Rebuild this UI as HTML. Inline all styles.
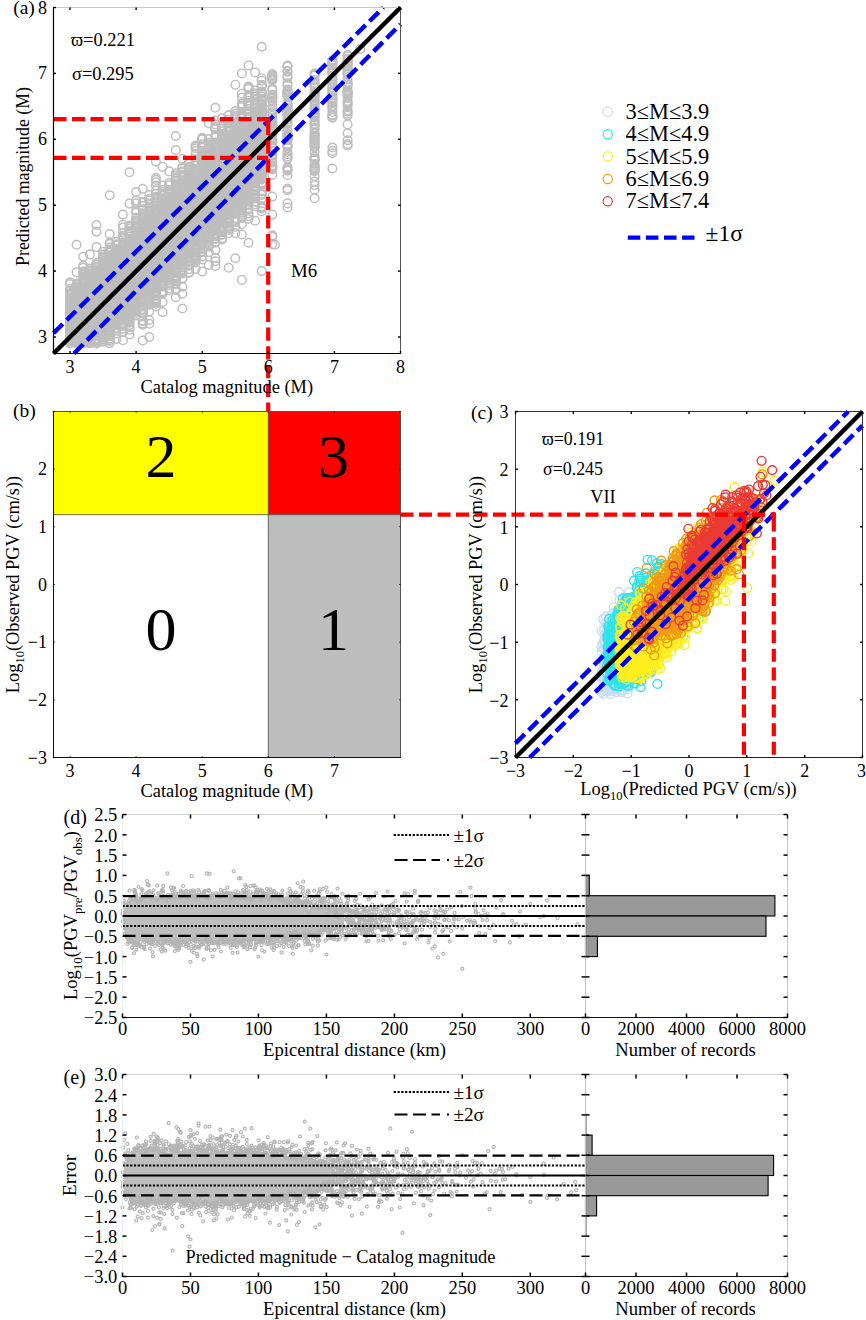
<!DOCTYPE html>
<html><head><meta charset="utf-8"><title>figure</title><style>html,body{margin:0;padding:0;background:#fff}svg{display:block}</style></head><body>
<svg width="866" height="1320" viewBox="0 0 866 1320" font-family="Liberation Serif, serif" fill="#000">
<defs>
<marker id="mg" markerWidth="11.5" markerHeight="11.5" refX="5.8" refY="5.8" markerUnits="userSpaceOnUse"><circle cx="5.8" cy="5.8" r="4.3" fill="none" stroke="#bebebe" stroke-width="1.45"/></marker>
<marker id="ms" markerWidth="5.3" markerHeight="5.3" refX="2.6" refY="2.6" markerUnits="userSpaceOnUse"><circle cx="2.6" cy="2.6" r="1.5" fill="none" stroke="#b4b4b4" stroke-width="1.15"/></marker>
<marker id="mc0" markerWidth="11.6" markerHeight="11.6" refX="5.8" refY="5.8" markerUnits="userSpaceOnUse"><circle cx="5.8" cy="5.8" r="4.4" fill="none" stroke="#c9ddf2" stroke-width="1.4"/></marker>
<marker id="mc1" markerWidth="11.6" markerHeight="11.6" refX="5.8" refY="5.8" markerUnits="userSpaceOnUse"><circle cx="5.8" cy="5.8" r="4.4" fill="none" stroke="#2fe3ea" stroke-width="1.4"/></marker>
<marker id="mc2" markerWidth="11.6" markerHeight="11.6" refX="5.8" refY="5.8" markerUnits="userSpaceOnUse"><circle cx="5.8" cy="5.8" r="4.4" fill="none" stroke="#ffee1f" stroke-width="1.4"/></marker>
<marker id="mc3" markerWidth="11.6" markerHeight="11.6" refX="5.8" refY="5.8" markerUnits="userSpaceOnUse"><circle cx="5.8" cy="5.8" r="4.4" fill="none" stroke="#f09a14" stroke-width="1.4"/></marker>
<marker id="mc4" markerWidth="11.6" markerHeight="11.6" refX="5.8" refY="5.8" markerUnits="userSpaceOnUse"><circle cx="5.8" cy="5.8" r="4.4" fill="none" stroke="#ea3b34" stroke-width="1.4"/></marker>
<clipPath id="ca"><rect x="53.5" y="7.5" width="347.0" height="346.0"/></clipPath>
<clipPath id="cc"><rect x="515.5" y="411.5" width="347.0" height="346.0"/></clipPath>
<clipPath id="cd"><rect x="122.5" y="814.5" width="463.0" height="203.0"/></clipPath>
<clipPath id="ce"><rect x="122.5" y="1074.5" width="463.0" height="202.0"/></clipPath>
</defs>
<rect width="866" height="1320" fill="#fff"/>
<polyline clip-path="url(#ca)" points="70,343.2 70,288.9 70,339.6 70,314.7 70,323.4 70,317.4 70,340.7 70,341.7 70,341 70,316.8 70,317.8 70,339 70,332.7 70,319.5 70,322.8 70,310.1 70,311.3 70,336.4 70,334.2 70,324.8 70,343.4 70,333 70,305 70,291.2 70,318.9 70,320.1 70,327.8 70,326.9 70,312.1 70,329.6 70,310.9 70,330.8 70,325 70,322.2 70,338.2 70,321.1 70,331.6 70,334.6 70,306.6 70,325.8 70,335.2 70,315.9 70,337.3 70,328.6 70,303.1 70,302.3 70,309.2 70,313.8 70,329 70,304.5 70,298.4 70,312.9 70,307.2 70,305.8 70,300.2 70,293.5 70,301.2 70,308.2 70,297.3 70,298.2 70,294.5 70,303.7 70,282.2 70,295.3 70,284 70,299.5 76.6,301.4 76.6,297.1 76.6,338.2 76.6,339.1 76.6,307.6 76.6,332.9 76.6,331.6 76.6,313.4 76.6,315.5 76.6,290 76.6,339.9 76.6,310.7 76.6,307.2 76.6,319.2 76.6,327.3 76.6,318.3 76.6,341 76.6,340.8 76.6,326.4 76.6,336 76.6,343.1 76.6,336.1 76.6,312.8 76.6,305.2 76.6,342.2 76.6,334.6 76.6,310.1 76.6,299.4 76.6,332.2 76.6,329.5 76.6,325.1 76.6,331.1 76.6,311.3 76.6,324 76.6,330.4 76.6,308.9 76.6,328.4 76.6,308.2 76.6,314.1 76.6,322.5 76.6,319.5 76.6,290.8 76.6,306 76.6,315.1 76.6,326.8 76.6,323.6 76.6,291.2 76.6,320 76.6,316.1 76.6,316.9 76.6,299 76.6,321.2 76.6,343.5 76.6,322.1 76.6,304.1 76.6,337.3 76.6,296 76.6,300 76.6,297.6 76.6,294.8 76.6,334.3 76.6,296.5 76.6,293.9 76.6,302.8 76.6,289 76.6,293.6 76.6,286.9 76.6,288.1 76.6,303.6 76.6,283.4 76.6,286.2 76.6,302.1 76.6,292.3 76.6,284.5 76.6,272.2 83.2,341 83.2,276.8 83.2,295.3 83.2,291.6 83.2,342.7 83.2,287 83.2,336.6 83.2,280.9 83.2,317.9 83.2,340.2 83.2,325.8 83.2,306.1 83.2,336.9 83.2,312.5 83.2,311 83.2,302.2 83.2,293.3 83.2,307.2 83.2,315.2 83.2,316.8 83.2,320.8 83.2,317.3 83.2,328.2 83.2,321.6 83.2,300.6 83.2,326.7 83.2,324.9 83.2,332.9 83.2,309.2 83.2,324.1 83.2,305.4 83.2,333.8 83.2,343.3 83.2,339.7 83.2,299.9 83.2,334.5 83.2,315.2 83.2,290.4 83.2,322.5 83.2,295 83.2,332.7 83.2,302.4 83.2,330.2 83.2,298.8 83.2,280.3 83.2,308.5 83.2,335.8 83.2,320.9 83.2,331.4 83.2,309.6 83.2,327.4 83.2,341.7 83.2,311.8 83.2,319.8 83.2,304 83.2,303.2 83.2,318.8 83.2,323.6 83.2,338.8 83.2,307.9 83.2,290.3 83.2,329.5 83.2,314.3 83.2,330.6 83.2,292.4 83.2,297.4 83.2,289.3 83.2,312.9 83.2,296.7 83.2,338.1 83.2,301 83.2,281.9 83.2,298.2 83.2,283.5 83.2,294 83.2,287.3 83.2,277.9 83.2,285.4 83.2,286.2 83.2,282.5 83.2,278.5 83.2,265.8 83.2,274.6 83.2,272.7 83.2,267.8 83.2,271.5 83.2,288.8 83.2,256.7 89.9,314.8 89.9,282.2 89.9,339.4 89.9,273.5 89.9,254.4 89.9,294.1 89.9,322.7 89.9,321.7 89.9,340.2 89.9,288.1 89.9,324.1 89.9,308.8 89.9,338.3 89.9,308 89.9,337.5 89.9,314.3 89.9,332.7 89.9,302.3 89.9,297.2 89.9,328.1 89.9,278 89.9,312.7 89.9,306.6 89.9,298.2 89.9,321.1 89.9,276.5 89.9,318.3 89.9,303.7 89.9,334.2 89.9,270.5 89.9,325.4 89.9,296.3 89.9,331 89.9,329.6 89.9,295.5 89.9,310.1 89.9,305.8 89.9,335.4 89.9,341 89.9,342.2 89.9,323.7 89.9,317 89.9,339.1 89.9,293 89.9,315.4 89.9,309.1 89.9,283.2 89.9,279.5 89.9,298.9 89.9,320.2 89.9,318.7 89.9,275.2 89.9,299.9 89.9,291.1 89.9,310.5 89.9,313 89.9,287.4 89.9,316.4 89.9,319.7 89.9,285.4 89.9,305.5 89.9,278.6 89.9,342.9 89.9,300.2 89.9,301.3 89.9,304.7 89.9,332.8 89.9,312 89.9,303.1 89.9,269 89.9,331.6 89.9,268.4 89.9,285.8 89.9,292.1 89.9,328.9 89.9,281.1 89.9,287 89.9,336.1 89.9,291.9 89.9,289.5 89.9,326.1 89.9,327.3 89.9,294.7 89.9,284.3 89.9,326.9 89.9,283.3 89.9,271.3 89.9,274.1 89.9,275.5 89.9,277.3 89.9,290.3 89.9,334.5 89.9,343.3 89.9,272.1 96.5,314.1 96.5,267.4 96.5,274.7 96.5,306.9 96.5,340.2 96.5,343.1 96.5,295.1 96.5,300.5 96.5,328.2 96.5,299.2 96.5,280.3 96.5,302.9 96.5,277.6 96.5,329.9 96.5,297.4 96.5,332.7 96.5,333.8 96.5,329.6 96.5,289.9 96.5,301.7 96.5,284.5 96.5,320 96.5,333.2 96.5,292.8 96.5,317.5 96.5,330.6 96.5,318.8 96.5,304.2 96.5,297.9 96.5,321.4 96.5,321.9 96.5,309.3 96.5,295.5 96.5,308 96.5,339.7 96.5,300.8 96.5,308.3 96.5,273.6 96.5,313 96.5,324.4 96.5,341.6 96.5,305.3 96.5,311.8 96.5,299.3 96.5,277 96.5,336 96.5,306.4 96.5,309.9 96.5,303.5 96.5,312.6 96.5,335.8 96.5,281.7 96.5,286.2 96.5,291.9 96.5,310.8 96.5,276.3 96.5,314.5 96.5,279.7 96.5,327.6 96.5,278.4 96.5,262.9 96.5,270.1 96.5,338.1 96.5,322.6 96.5,284.9 96.5,247.1 96.5,287.6 96.5,283.4 96.5,323.9 96.5,317.9 96.5,339.1 96.5,289.1 96.5,288.4 96.5,334.7 96.5,316.5 96.5,286.7 96.5,292.3 96.5,326.3 96.5,315.8 96.5,326.7 96.5,290.5 96.5,272.3 96.5,320.1 96.5,331.7 96.5,325.1 96.5,294.4 96.5,270.8 96.5,273.1 96.5,343.4 96.5,267 96.5,296.7 96.5,282.5 96.5,264.8 96.5,268.3 96.5,341.3 96.5,271.7 96.5,281.4 96.5,264.2 103.1,308.7 103.1,282.9 103.1,294.4 103.1,302.9 103.1,304.8 103.1,254.5 103.1,251.9 103.1,257.5 103.1,327.6 103.1,301.9 103.1,329.3 103.1,273 103.1,313.8 103.1,323.7 103.1,335.8 103.1,299.2 103.1,303.6 103.1,282.3 103.1,300.2 103.1,326 103.1,297.4 103.1,278.6 103.1,294.2 103.1,314.6 103.1,310.5 103.1,306.1 103.1,295.7 103.1,318.5 103.1,285.6 103.1,323 103.1,286.5 103.1,289.9 103.1,283.5 103.1,269.8 103.1,300.9 103.1,316.3 103.1,310 103.1,292.6 103.1,289.4 103.1,317.8 103.1,270.8 103.1,332 103.1,299.5 103.1,284.1 103.1,339.7 103.1,312 103.1,298.2 103.1,328.3 103.1,287.6 103.1,293.3 103.1,307.3 103.1,319.5 103.1,279.4 103.1,315.7 103.1,275.9 103.1,313.3 103.1,290.9 103.1,306.9 103.1,330.9 103.1,263.7 103.1,336.2 103.1,337 103.1,332.5 103.1,309.3 103.1,273.8 103.1,285.8 103.1,317.4 103.1,321.4 103.1,311.6 103.1,291.3 103.1,288.2 103.1,339 103.1,266.2 103.1,260.5 103.1,272.7 103.1,281.4 103.1,324.5 103.1,266.8 103.1,276.8 103.1,304 103.1,258.6 103.1,296.2 103.1,271.3 103.1,265 103.1,320.2 103.1,329.8 103.1,321.8 103.1,280.3 103.1,333.9 103.1,278.1 103.1,268.6 103.1,274.8 103.1,277.5 103.1,258.3 103.1,327 103.1,325.5 103.1,256.2 103.1,261.1 103.1,337.7 103.1,269.1 103.1,334.4 103.1,341.3 103.1,262.5 103.1,261.8 103.1,341.6 109.7,278.2 109.7,305.7 109.7,338.5 109.7,308.6 109.7,274.8 109.7,290 109.7,292.5 109.7,300.6 109.7,259.5 109.7,309 109.7,286.6 109.7,295.3 109.7,283.8 109.7,273.3 109.7,288.6 109.7,277 109.7,291.7 109.7,284.1 109.7,314.3 109.7,302 109.7,256.7 109.7,287.6 109.7,281.1 109.7,293.6 109.7,297.7 109.7,263.8 109.7,299.7 109.7,283.2 109.7,289.4 109.7,271.8 109.7,250.5 109.7,275.5 109.7,284.8 109.7,271.2 109.7,318.2 109.7,303.5 109.7,269.3 109.7,323.4 109.7,290.8 109.7,301.4 109.7,252 109.7,315 109.7,307 109.7,322.6 109.7,312.4 109.7,319.4 109.7,311.8 109.7,294 109.7,272.5 109.7,249.6 109.7,310.1 109.7,252.9 109.7,317.2 109.7,264.3 109.7,268.6 109.7,318.4 109.7,302.6 109.7,316.3 109.7,270.4 109.7,334.3 109.7,313.6 109.7,296 109.7,276.6 109.7,262.7 109.7,304.2 109.7,328.9 109.7,279.6 109.7,298.9 109.7,294.4 109.7,330.3 109.7,278.8 109.7,324.2 109.7,274.1 109.7,266.3 109.7,255.2 109.7,307.3 109.7,296.9 109.7,305.3 109.7,280.4 109.7,310.7 109.7,321.6 109.7,267.2 109.7,281.8 109.7,242.7 109.7,330.6 109.7,266.5 109.7,328.3 109.7,286 109.7,320.2 109.7,258.8 109.7,335.5 109.7,343.1 109.7,326.8 109.7,247.6 109.7,265.6 109.7,315.7 109.7,336.1 109.7,251.2 109.7,234 109.7,261.3 109.7,320.8 109.7,250.3 109.7,243.9 109.7,262.4 109.7,341 109.7,258.2 109.7,332.6 109.7,340 109.7,257.3 109.7,325.9 116.3,300.5 116.3,248.7 116.3,269.5 116.3,315.1 116.3,264.9 116.3,298.8 116.3,324.7 116.3,284.7 116.3,277.8 116.3,281.5 116.3,274.6 116.3,285.7 116.3,285 116.3,260.3 116.3,283.1 116.3,291.7 116.3,264 116.3,305.1 116.3,295.5 116.3,287.7 116.3,278.8 116.3,268.6 116.3,316.7 116.3,276.3 116.3,267.8 116.3,297.7 116.3,275.6 116.3,299.4 116.3,306.3 116.3,261.2 116.3,270.6 116.3,274.1 116.3,316 116.3,266.9 116.3,281.7 116.3,290.5 116.3,296.2 116.3,310.3 116.3,249 116.3,280.2 116.3,295.1 116.3,259 116.3,245.4 116.3,296.9 116.3,264.1 116.3,301.2 116.3,270.4 116.3,288.7 116.3,256.1 116.3,312.9 116.3,271.9 116.3,328 116.3,302.4 116.3,286.9 116.3,272.3 116.3,306.8 116.3,290.2 116.3,307.4 116.3,302 116.3,322.8 116.3,277 116.3,266.2 116.3,272.8 116.3,318.9 116.3,292.2 116.3,255.8 116.3,250.8 116.3,308.4 116.3,309.5 116.3,293.1 116.3,279.6 116.3,311 116.3,318.3 116.3,312.4 116.3,319.7 116.3,255.1 116.3,250 116.3,253.4 116.3,257.1 116.3,321 116.3,244.3 116.3,320.4 116.3,304.1 116.3,330 116.3,323.4 116.3,293.8 116.3,283.5 116.3,251.8 116.3,317.2 116.3,262 116.3,289.1 116.3,241.8 116.3,314.1 116.3,252.8 116.3,303.2 116.3,339.1 116.3,311.2 116.3,262.9 116.3,258.4 116.3,259.2 116.3,321.8 116.3,333.5 116.3,327.9 122.9,273.4 122.9,307.3 122.9,281.9 122.9,214.6 122.9,266.4 122.9,252.4 122.9,305.1 122.9,235.8 122.9,254.6 122.9,320 122.9,281 122.9,270.2 122.9,264.1 122.9,269.1 122.9,308.6 122.9,303.1 122.9,268.5 122.9,294.3 122.9,287.4 122.9,272.2 122.9,277.9 122.9,261.3 122.9,299.4 122.9,271.2 122.9,282.8 122.9,289.3 122.9,256.3 122.9,290.7 122.9,291.4 122.9,274.8 122.9,274.1 122.9,293 122.9,263 122.9,301.1 122.9,259.9 122.9,253.2 122.9,317.7 122.9,286.4 122.9,310.5 122.9,309.1 122.9,224.7 122.9,313 122.9,294.8 122.9,250 122.9,288.1 122.9,278.6 122.9,302.1 122.9,263.8 122.9,236.1 122.9,309.8 122.9,279.8 122.9,297.3 122.9,266.7 122.9,271.9 122.9,277.4 122.9,298.1 122.9,300.2 122.9,285.9 122.9,275.3 122.9,290 122.9,284.3 122.9,284.9 122.9,251.9 122.9,249.1 122.9,276 122.9,298.5 122.9,280.2 122.9,258.7 122.9,296.7 122.9,243.8 122.9,306.6 122.9,315.9 122.9,295.8 122.9,325 122.9,267.3 122.9,244.6 122.9,314.9 122.9,292.3 122.9,262.2 122.9,245.4 122.9,239.1 122.9,237.8 122.9,257.3 122.9,255.7 122.9,317 122.9,260.4 122.9,265.3 122.9,248 122.9,283.9 122.9,254.3 122.9,306.3 122.9,303.2 122.9,321.9 122.9,311.7 122.9,250.5 122.9,247.7 122.9,328.7 122.9,312.6 122.9,245.9 122.9,318.9 122.9,242.8 122.9,304.1 122.9,323.2 122.9,326 122.9,232.7 122.9,332.2 122.9,227.5 129.5,266.4 129.5,273 129.5,268.3 129.5,293.1 129.5,308.5 129.5,271.4 129.5,244.4 129.5,274.6 129.5,279 129.5,248 129.5,259.3 129.5,266.6 129.5,280.1 129.5,248.4 129.5,295.7 129.5,267.9 129.5,291.3 129.5,309.2 129.5,280.9 129.5,297.8 129.5,273.7 129.5,282.4 129.5,300.9 129.5,281.6 129.5,287.8 129.5,249.3 129.5,260.4 129.5,258.4 129.5,231.7 129.5,268.9 129.5,270.3 129.5,245.6 129.5,262.3 129.5,288.9 129.5,245.5 129.5,279.3 129.5,262.6 129.5,294.9 129.5,289.7 129.5,285.3 129.5,276.2 129.5,292.4 129.5,284.3 129.5,254.2 129.5,250.8 129.5,263.6 129.5,286.5 129.5,264.2 129.5,251.9 129.5,246.9 129.5,256.5 129.5,257.2 129.5,261.2 129.5,296.9 129.5,257.8 129.5,277.6 129.5,298.6 129.5,265.2 129.5,299.5 129.5,228.4 129.5,255.2 129.5,286.4 129.5,253 129.5,308 129.5,243.1 129.5,306.6 129.5,276.9 129.5,327.3 129.5,275.3 129.5,288.1 129.5,254.9 129.5,283.6 129.5,290.6 129.5,238.9 129.5,270.4 129.5,310.9 129.5,304.8 129.5,243.6 129.5,303.6 129.5,249.6 129.5,314.2 129.5,319 129.5,272 129.5,252.6 129.5,305.8 129.5,302.6 129.5,294.1 129.5,242 129.5,322.7 129.5,324.9 129.5,315.7 129.5,240.3 129.5,203.6 129.5,240 129.5,329.8 129.5,232.4 129.5,302.2 129.5,241.4 129.5,319.9 129.5,296.1 129.5,300.8 129.5,226.6 129.5,312.9 129.5,321.2 129.5,316.3 129.5,225.5 129.5,334.5 129.5,317.7 129.5,233.6 129.5,312.1 129.5,230.5 129.5,232.9 136.1,283.3 136.1,200.7 136.1,243.2 136.1,226.1 136.1,274.1 136.1,265.6 136.1,272.7 136.1,246 136.1,299.3 136.1,277.8 136.1,281.6 136.1,294.1 136.1,287 136.1,270.4 136.1,288.5 136.1,292.5 136.1,284.5 136.1,275.7 136.1,238.2 136.1,308.6 136.1,241.8 136.1,280 136.1,262 136.1,281.2 136.1,279.4 136.1,263.7 136.1,276.4 136.1,274.8 136.1,255.8 136.1,245.5 136.1,291.9 136.1,262.5 136.1,296.8 136.1,261.5 136.1,309.4 136.1,248.8 136.1,268.7 136.1,273.6 136.1,234.1 136.1,251.8 136.1,300.9 136.1,233.4 136.1,282.7 136.1,240.4 136.1,270.6 136.1,259.2 136.1,249.7 136.1,236.9 136.1,298.9 136.1,277.3 136.1,259.4 136.1,231.4 136.1,223.6 136.1,266.5 136.1,220.2 136.1,239.5 136.1,271.4 136.1,265.9 136.1,255.2 136.1,269.5 136.1,293.4 136.1,257.4 136.1,260.7 136.1,303.6 136.1,307.5 136.1,244.7 136.1,279.2 136.1,289.3 136.1,297.9 136.1,256.3 136.1,264.3 136.1,253.1 136.1,225.2 136.1,231.1 136.1,241.3 136.1,291.2 136.1,242.7 136.1,217.7 136.1,296.4 136.1,251 136.1,253.9 136.1,290.1 136.1,287.9 136.1,235.2 136.1,228.7 136.1,300.5 136.1,304.1 136.1,238.9 136.1,286.2 136.1,285.3 136.1,252.7 136.1,302.5 136.1,312.9 136.1,227.1 136.1,315.5 136.1,257.8 136.1,294.9 136.1,310.5 136.1,311.4 136.1,301.8 136.1,246.5 136.1,203.3 136.1,314.9 136.1,267.8 136.1,248.3 136.1,222.1 136.1,305.3 136.1,227.9 136.1,232.5 136.1,309.8 136.1,247.8 136.1,307 136.1,212.9 136.1,235.1 136.1,210.2 136.1,236.7 142.7,228.7 142.7,264.9 142.7,340.4 142.7,250.4 142.7,265.9 142.7,238.6 142.7,248.8 142.7,299.7 142.7,281.3 142.7,244.6 142.7,259.7 142.7,286.4 142.7,249.1 142.7,321 142.7,234.4 142.7,241.6 142.7,291.9 142.7,277.9 142.7,292 142.7,256.8 142.7,251.7 142.7,278.4 142.7,229.9 142.7,268 142.7,247.2 142.7,253.8 142.7,276.4 142.7,282.9 142.7,266.7 142.7,226.2 142.7,255 142.7,264.2 142.7,260.8 142.7,285.4 142.7,253.3 142.7,240.2 142.7,232.8 142.7,271.5 142.7,237.2 142.7,252.2 142.7,222.1 142.7,260.5 142.7,258 142.7,233.3 142.7,257 142.7,275.2 142.7,301.3 142.7,243.9 142.7,224.6 142.7,282.3 142.7,270.6 142.7,272.6 142.7,283.7 142.7,324.7 142.7,245.6 142.7,268.3 142.7,262 142.7,270.1 142.7,289.7 142.7,227.6 142.7,231.2 142.7,217.2 142.7,247.8 142.7,288.5 142.7,305.2 142.7,306.8 142.7,255.9 142.7,273.4 142.7,312.1 142.7,249.9 142.7,309.1 142.7,293.9 142.7,276.8 142.7,264 142.7,269.5 142.7,287.7 142.7,313.6 142.7,259.1 142.7,222.5 142.7,275 142.7,309.9 142.7,262.5 142.7,216.7 142.7,274.2 142.7,202.7 142.7,221.5 142.7,300.4 142.7,234.9 142.7,289.1 142.7,236.5 142.7,235.2 142.7,237.7 142.7,239.9 142.7,223.9 142.7,290.8 142.7,225.3 142.7,298.1 142.7,302.7 142.7,279.6 142.7,241 142.7,231.5 142.7,242.8 142.7,299 142.7,295.3 142.7,226.6 142.7,245 142.7,209.4 142.7,229.2 142.7,303.9 142.7,280.1 142.7,305.7 142.7,313 142.7,214 142.7,201.9 142.7,323.6 142.7,219 142.7,220.2 142.7,293.6 142.7,213.4 142.7,297.4 142.7,206 142.7,295.2 142.7,284 142.7,218.2 142.7,215.2 149.3,284.1 149.3,269.8 149.3,290 149.3,226.7 149.3,303.6 149.3,243.6 149.3,274.5 149.3,311.5 149.3,248.7 149.3,231.9 149.3,241.4 149.3,278.4 149.3,230.1 149.3,224.8 149.3,200.2 149.3,220.4 149.3,292.7 149.3,282.4 149.3,235.9 149.3,253.8 149.3,275.5 149.3,273.3 149.3,242.2 149.3,289 149.3,245.1 149.3,244.7 149.3,210.2 149.3,252.7 149.3,224.5 149.3,249.5 149.3,255.5 149.3,267.6 149.3,268.6 149.3,263 149.3,264.3 149.3,229.1 149.3,238.3 149.3,280.2 149.3,253.1 149.3,242.7 149.3,258.9 149.3,227.6 149.3,228.1 149.3,274.1 149.3,276.3 149.3,286.6 149.3,283.5 149.3,247.9 149.3,269.6 149.3,250.4 149.3,262.3 149.3,272 149.3,208 149.3,234.5 149.3,258.3 149.3,260 149.3,260.2 149.3,257.1 149.3,281 149.3,279.9 149.3,251.3 149.3,277.5 149.3,225.9 149.3,265 149.3,287.5 149.3,237.2 149.3,255.1 149.3,211.1 149.3,296.6 149.3,238.7 149.3,265.8 149.3,218.8 149.3,288 149.3,300.1 149.3,277.9 149.3,293.9 149.3,232.4 149.3,297.9 149.3,217.8 149.3,220 149.3,211.2 149.3,221.8 149.3,261.6 149.3,251 149.3,232.9 149.3,272.6 149.3,220.9 149.3,230.7 149.3,320 149.3,240.1 149.3,245.6 149.3,291.4 149.3,247 149.3,223.5 149.3,214.4 149.3,298.5 149.3,236.3 149.3,216.7 149.3,282.3 149.3,263.8 149.3,270.7 149.3,239.8 149.3,304.8 149.3,285 149.3,286 149.3,295.3 149.3,266.6 149.3,215.1 149.3,234.4 149.3,217.5 149.3,256.3 149.3,302.3 149.3,205.1 149.3,195.1 149.3,301 149.3,222.6 149.3,198.8 149.3,212.4 149.3,290.4 149.3,215.6 149.3,299.6 149.3,304.3 149.3,292.8 155.9,161.6 155.9,197.9 155.9,215 155.9,231.7 155.9,276.8 155.9,260.1 155.9,243.7 155.9,185.5 155.9,270.1 155.9,219.2 155.9,274.9 155.9,232.2 155.9,248.4 155.9,270.8 155.9,253.8 155.9,252.6 155.9,258.4 155.9,247.5 155.9,256.6 155.9,240.4 155.9,221.4 155.9,259.4 155.9,196.7 155.9,269.5 155.9,279.2 155.9,268.5 155.9,238.3 155.9,253.5 155.9,266.5 155.9,235.3 155.9,272.7 155.9,290.5 155.9,266.1 155.9,295.7 155.9,261.3 155.9,247.1 155.9,222 155.9,226.6 155.9,267.5 155.9,263.9 155.9,276.3 155.9,242 155.9,261.7 155.9,234 155.9,246.4 155.9,216.3 155.9,262.5 155.9,229 155.9,241.6 155.9,280.5 155.9,210.4 155.9,250.3 155.9,282.8 155.9,236.9 155.9,243 155.9,224.7 155.9,287.7 155.9,203.4 155.9,257.2 155.9,290.1 155.9,254.7 155.9,218.9 155.9,230.7 155.9,249.4 155.9,227.6 155.9,222.6 155.9,220.7 155.9,244.6 155.9,239.3 155.9,275.2 155.9,234.7 155.9,209.5 155.9,223.7 155.9,251.6 155.9,272.9 155.9,301.9 155.9,274.3 155.9,228.5 155.9,224.9 155.9,200.2 155.9,291.4 155.9,233.2 155.9,264.6 155.9,230 155.9,239.1 155.9,193.7 155.9,286 155.9,255.8 155.9,285.1 155.9,245.3 155.9,206.1 155.9,258.7 155.9,251 155.9,306.5 155.9,212 155.9,212.7 155.9,214.3 155.9,293.5 155.9,302.6 155.9,265.4 155.9,282.1 155.9,294.3 155.9,202.8 155.9,236.5 155.9,283.5 155.9,217.5 155.9,292.4 155.9,288.4 155.9,213.5 155.9,278.6 155.9,271.9 155.9,225.8 155.9,303.8 155.9,299.5 155.9,294.7 155.9,284.3 155.9,300.1 155.9,298.7 155.9,286.7 155.9,206.6 155.9,217.7 155.9,281.5 155.9,179.9 155.9,182.2 155.9,199 155.9,178 155.9,190.5 155.9,301.4 162.6,292.3 162.6,302 162.6,259.5 162.6,214.3 162.6,247 162.6,249.3 162.6,222.8 162.6,277.2 162.6,248.3 162.6,252.4 162.6,230.5 162.6,208.2 162.6,216.4 162.6,273.1 162.6,275.5 162.6,256.2 162.6,210.2 162.6,268 162.6,255.9 162.6,241.4 162.6,269 162.6,278 162.6,218.1 162.6,236.1 162.6,243.4 162.6,215.4 162.6,265.6 162.6,231.3 162.6,233.9 162.6,237.9 162.6,251.9 162.6,271.9 162.6,283.3 162.6,228.3 162.6,242.6 162.6,271.1 162.6,206.7 162.6,249.8 162.6,225.6 162.6,226.7 162.6,258.9 162.6,238.5 162.6,229.9 162.6,293.7 162.6,233.1 162.6,245.7 162.6,274.6 162.6,257.7 162.6,204 162.6,280.1 162.6,273.8 162.6,232.1 162.6,253 162.6,281.7 162.6,235.6 162.6,235.1 162.6,223.9 162.6,254.1 162.6,272.4 162.6,210.7 162.6,261.5 162.6,278.7 162.6,195.6 162.6,240.5 162.6,263.7 162.6,224.8 162.6,247.5 162.6,209.6 162.6,244.9 162.6,239.2 162.6,283.2 162.6,254.5 162.6,284.8 162.6,242.4 162.6,264 162.6,219.3 162.6,220 162.6,192 162.6,262.3 162.6,221.4 162.6,257 162.6,276.3 162.6,222.3 162.6,237.1 162.6,229.5 162.6,212.8 162.6,214.8 162.6,250.5 162.6,227.4 162.6,244.7 162.6,166.9 162.6,265 162.6,200.9 162.6,194.4 162.6,267 162.6,207.3 162.6,202 162.6,260.3 162.6,224.2 162.6,217.3 162.6,312 162.6,198.4 162.6,213.3 162.6,218.6 162.6,205.1 162.6,211.4 162.6,190.1 162.6,203.1 162.6,262.6 162.6,267.9 162.6,196 162.6,200.4 162.6,291.2 162.6,204.4 162.6,205.8 162.6,199.9 162.6,185.6 162.6,286.4 169.2,221.1 169.2,249.6 169.2,235.9 169.2,216.7 169.2,206.3 169.2,224.3 169.2,240.5 169.2,229.2 169.2,247.9 169.2,252 169.2,243.5 169.2,247.1 169.2,212.1 169.2,255.1 169.2,232.9 169.2,204.3 169.2,241 169.2,238.8 169.2,205.1 169.2,207.3 169.2,236.4 169.2,255.9 169.2,223.8 169.2,261.9 169.2,218.1 169.2,258.9 169.2,215 169.2,242.4 169.2,209.1 169.2,274.2 169.2,227.7 169.2,231.2 169.2,250.9 169.2,275.2 169.2,243.2 169.2,220.3 169.2,230.7 169.2,226.1 169.2,225.4 169.2,257.6 169.2,219.6 169.2,260.4 169.2,234.2 169.2,244.8 169.2,234.7 169.2,215.8 169.2,237.9 169.2,185.3 169.2,248.5 169.2,222.6 169.2,210.3 169.2,213.8 169.2,222.2 169.2,237.4 169.2,202.5 169.2,270.4 169.2,254.1 169.2,239.7 169.2,260.9 169.2,192.3 169.2,267.1 169.2,264.7 169.2,266.1 169.2,269 169.2,193.6 169.2,277.2 169.2,263.5 169.2,262.8 169.2,202 169.2,218.8 169.2,230.1 169.2,244.2 169.2,232.3 169.2,211.8 169.2,198.7 169.2,259.8 169.2,228.2 169.2,276.3 169.2,206.8 169.2,217 169.2,251.4 169.2,226.7 169.2,285.1 169.2,248.9 169.2,197.1 169.2,183.1 169.2,198.3 169.2,253.1 169.2,283.2 169.2,272.1 169.2,283.3 169.2,290.3 169.2,208.5 169.2,201.1 169.2,190.9 169.2,268 169.2,245.8 169.2,271.9 169.2,171.4 169.2,190 169.2,275.1 169.2,270.7 169.2,268.7 169.2,196.6 169.2,213 169.2,203.9 169.2,280 169.2,288.3 169.2,191.6 169.2,257.1 169.2,264.8 169.2,273.3 169.2,278.3 169.2,194.9 169.2,211.1 169.2,200.4 175.8,183.5 175.8,197.5 175.8,224 175.8,206.4 175.8,150 175.8,222.1 175.8,237.3 175.8,236.8 175.8,228.7 175.8,255.4 175.8,248.4 175.8,213.7 175.8,267.5 175.8,209.9 175.8,231.5 175.8,194.6 175.8,173.3 175.8,239.3 175.8,268.4 175.8,180.5 175.8,223.1 175.8,216 175.8,217.4 175.8,245 175.8,234.7 175.8,237.6 175.8,198 175.8,230.4 175.8,199.6 175.8,254.1 175.8,225.8 175.8,217.9 175.8,192.2 175.8,200.3 175.8,226.6 175.8,198.7 175.8,220 175.8,241.1 175.8,225.2 175.8,243.4 175.8,221 175.8,196.2 175.8,230.3 175.8,208.8 175.8,252.1 175.8,242.4 175.8,259.8 175.8,224.1 175.8,178.9 175.8,238.7 175.8,201.1 175.8,229.3 175.8,261.3 175.8,208.1 175.8,277.4 175.8,245.6 175.8,205 175.8,240.2 175.8,203 175.8,257.6 175.8,211.1 175.8,212.8 175.8,279 175.8,250.5 175.8,249.5 175.8,233.9 175.8,215.9 175.8,261.9 175.8,280.4 175.8,265.9 175.8,247.9 175.8,177.9 175.8,220.5 175.8,207.6 175.8,253.5 175.8,191.9 175.8,212 175.8,250.2 175.8,184.3 175.8,206.8 175.8,246.6 175.8,244.7 175.8,263.8 175.8,258.5 175.8,227.4 175.8,219.2 175.8,257.8 175.8,211.2 175.8,251.9 175.8,203.7 175.8,290 175.8,264.7 175.8,186.1 175.8,193.3 175.8,254.6 175.8,284.1 175.8,232.7 175.8,269.2 175.8,204 175.8,188.7 175.8,214.6 175.8,177.5 175.8,195.3 175.8,297.2 175.8,276.2 175.8,194.3 175.8,201.8 175.8,175.3 175.8,265.1 175.8,289.2 175.8,278 175.8,187.8 175.8,233.1 175.8,283.6 175.8,273 175.8,241.9 175.8,188.8 175.8,235.7 175.8,190.4 175.8,270.1 175.8,271.6 175.8,270.7 175.8,256.2 175.8,272.8 182.4,240.6 182.4,203.8 182.4,192.1 182.4,308.5 182.4,208.8 182.4,158.9 182.4,213.2 182.4,229.1 182.4,233.2 182.4,227.6 182.4,171.5 182.4,184.9 182.4,202.6 182.4,220.9 182.4,239.6 182.4,211.7 182.4,232.4 182.4,181.2 182.4,188.2 182.4,199.9 182.4,206 182.4,198.7 182.4,262 182.4,247.7 182.4,215.5 182.4,226.1 182.4,264.9 182.4,210.8 182.4,234.4 182.4,219.9 182.4,225.2 182.4,214.1 182.4,245.6 182.4,237.5 182.4,210 182.4,219 182.4,175.9 182.4,230.2 182.4,224.7 182.4,212.5 182.4,189.2 182.4,197.1 182.4,195.5 182.4,208.7 182.4,250.8 182.4,193.7 182.4,222.7 182.4,187.5 182.4,223.6 182.4,190.4 182.4,278.8 182.4,195.1 182.4,222.2 182.4,245.5 182.4,191.3 182.4,236.2 182.4,253.3 182.4,254.5 182.4,252.1 182.4,181.6 182.4,168.8 182.4,217.7 182.4,176.1 182.4,204.4 182.4,205.1 182.4,260.4 182.4,216.4 182.4,215.1 182.4,257.3 182.4,207.6 182.4,241.7 182.4,271.2 182.4,228.5 182.4,231.2 182.4,193.3 182.4,272.2 182.4,247.1 182.4,179.9 182.4,242.7 182.4,238.9 182.4,226.4 182.4,249.3 182.4,257.9 182.4,172.5 182.4,201.3 182.4,244.5 182.4,249.9 182.4,217.2 182.4,220.5 182.4,235.2 182.4,251.9 182.4,201.7 182.4,174.8 182.4,243.6 182.4,200 182.4,237.9 182.4,177.5 182.4,206.8 182.4,186.8 182.4,255.3 182.4,269.3 182.4,183.4 182.4,258.9 182.4,231.6 182.4,267.4 182.4,261.3 182.4,197.7 182.4,167.1 182.4,241 182.4,273.5 182.4,286.7 182.4,265.9 182.4,253.8 182.4,190 182.4,233.7 182.4,293.7 182.4,184.1 182.4,278.2 189,216.6 189,193.8 189,167 189,236.9 189,192.9 189,247.2 189,223.5 189,242.6 189,196.4 189,161.7 189,205.6 189,237.9 189,236.5 189,234.9 189,244.8 189,227.7 189,223.1 189,178.1 189,251.8 189,213.2 189,215.9 189,249.9 189,179.2 189,260.4 189,245.6 189,206.6 189,184.1 189,224.7 189,197.7 189,246.3 189,221.2 189,180.4 189,181.8 189,252.9 189,241.5 189,247.6 189,209.6 189,226.8 189,230.1 189,195.3 189,214.1 189,219.6 189,202 189,202.9 189,226.2 189,189.9 189,211 189,220.2 189,235.3 189,272.9 189,192.4 189,208.7 189,204.7 189,214.8 189,252.6 189,272.3 189,209.5 189,232.1 189,225 189,183.8 189,206.2 189,269.3 189,222 189,207.6 189,211.9 189,217.5 189,229.1 189,197.1 189,195.2 189,201.5 189,176.4 189,185.4 189,219.1 189,261.6 189,189.6 189,191.3 189,175.3 189,242.2 189,203.6 189,172.8 189,198.6 189,258.2 189,228.6 189,199.5 189,190.8 189,217.7 189,187.2 189,231.2 189,233.8 189,257.3 189,240 189,249.1 189,174.3 189,238.5 189,254 189,200.2 189,174.5 189,188.6 189,250.7 189,240.3 189,265.7 189,261.8 189,179 189,177.3 189,181.6 189,212.8 189,170.8 189,248.8 189,186.1 189,232.9 189,265.3 189,163.9 189,167.8 189,255.6 189,169.3 189,258.9 189,243.9 189,169.7 189,187 195.6,224 195.6,268.9 195.6,232.5 195.6,183.8 195.6,206.6 195.6,193.4 195.6,145.6 195.6,198.9 195.6,160.3 195.6,201.4 195.6,196.6 195.6,192.2 195.6,175.1 195.6,221.3 195.6,200.6 195.6,187.7 195.6,217.1 195.6,204.4 195.6,198.1 195.6,190.2 195.6,202.1 195.6,255.2 195.6,199.7 195.6,187.1 195.6,229.3 195.6,185.2 195.6,212.4 195.6,236 195.6,161.9 195.6,146.6 195.6,203.6 195.6,242.7 195.6,234.5 195.6,219.2 195.6,212 195.6,189.1 195.6,195.1 195.6,228.5 195.6,185.7 195.6,240.1 195.6,214.4 195.6,172.9 195.6,245.1 195.6,238.5 195.6,230.7 195.6,218.3 195.6,233.1 195.6,223.7 195.6,226.5 195.6,188.2 195.6,202.5 195.6,215.8 195.6,206.2 195.6,174.3 195.6,249.6 195.6,177.3 195.6,205 195.6,255.6 195.6,170.4 195.6,209.2 195.6,193.8 195.6,219.4 195.6,249.3 195.6,231.4 195.6,239.2 195.6,262.3 195.6,179.6 195.6,222.6 195.6,208.1 195.6,224.9 195.6,175.7 195.6,154.1 195.6,177.8 195.6,208 195.6,216.7 195.6,241.6 195.6,148.3 195.6,171.5 195.6,190.6 195.6,247.8 195.6,184.1 195.6,226.2 195.6,257.6 195.6,228 195.6,260.6 195.6,178.8 195.6,258.5 195.6,233.7 195.6,244 195.6,182 195.6,195.7 195.6,214.7 195.6,242.2 195.6,169.6 195.6,176.1 195.6,180.7 195.6,213.2 195.6,259.3 195.6,220.2 195.6,163.6 195.6,211.1 195.6,252.7 195.6,221.9 195.6,170.6 195.6,236.8 195.6,237.6 195.6,191.6 195.6,236.1 195.6,182.5 195.6,172.3 195.6,164.1 195.6,165.7 195.6,181.2 195.6,196.8 195.6,256.3 195.6,248.4 195.6,151 195.6,245.8 195.6,229.7 202.2,238.7 202.2,184.1 202.2,188 202.2,157 202.2,154.4 202.2,217.8 202.2,181.7 202.2,205.1 202.2,190.6 202.2,207.3 202.2,223.3 202.2,197.5 202.2,185.7 202.2,218.7 202.2,222 202.2,200.8 202.2,202 202.2,208.8 202.2,189.6 202.2,198.3 202.2,229.2 202.2,220.8 202.2,204.1 202.2,241.7 202.2,195.1 202.2,219.6 202.2,147.4 202.2,209.4 202.2,217.1 202.2,179.7 202.2,196.5 202.2,228.7 202.2,206.1 202.2,212.8 202.2,180.2 202.2,214.8 202.2,189.5 202.2,172.9 202.2,211.1 202.2,156.7 202.2,210.4 202.2,167.5 202.2,195.7 202.2,213.7 202.2,178.8 202.2,201 202.2,202.6 202.2,234.7 202.2,239.8 202.2,165.4 202.2,193.9 202.2,176.5 202.2,186.5 202.2,222.9 202.2,192.4 202.2,181.3 202.2,185.1 202.2,243.7 202.2,188.3 202.2,182.5 202.2,211.6 202.2,151 202.2,193.3 202.2,147 202.2,178.1 202.2,203.6 202.2,206.9 202.2,159.3 202.2,166.1 202.2,230.5 202.2,225.8 202.2,232.9 202.2,175 202.2,231.4 202.2,221.1 202.2,236.1 202.2,172 202.2,169.2 202.2,183.3 202.2,144.3 202.2,199.4 202.2,232.7 202.2,244.4 202.2,166.5 202.2,235.3 202.2,198.4 202.2,191.9 202.2,162.3 202.2,216 202.2,152.5 202.2,177.5 202.2,138.9 202.2,137.8 202.2,259.5 202.2,172.7 202.2,246.9 202.2,170.5 202.2,225.3 202.2,238.1 202.2,227.4 202.2,271.5 202.2,215.9 202.2,157.7 202.2,213.6 202.2,224.3 202.2,252.3 202.2,230.1 202.2,168.5 202.2,256.5 202.2,139.4 202.2,233.9 202.2,242.9 202.2,160.1 202.2,237.4 202.2,175.3 202.2,173.9 202.2,154.2 202.2,251.4 202.2,249 202.2,162.8 202.2,245.4 208.8,239.8 208.8,188.4 208.8,175.3 208.8,194 208.8,123.3 208.8,228.4 208.8,227.4 208.8,181.7 208.8,208.9 208.8,213.7 208.8,183.9 208.8,187.9 208.8,198.9 208.8,189.1 208.8,190.2 208.8,216.1 208.8,195.9 208.8,207.6 208.8,197.9 208.8,232.2 208.8,170.3 208.8,209.8 208.8,173.3 208.8,162.1 208.8,203.1 208.8,149.9 208.8,213.2 208.8,206.5 208.8,210.7 208.8,200 208.8,201.2 208.8,208.5 208.8,190.9 208.8,184.9 208.8,191.9 208.8,193.3 208.8,152.4 208.8,225.6 208.8,180.8 208.8,174.8 208.8,222.2 208.8,177.9 208.8,164 208.8,162.5 208.8,179.4 208.8,173.8 208.8,215.4 208.8,146 208.8,176.2 208.8,171.2 208.8,169.2 208.8,252.1 208.8,220.7 208.8,142.7 208.8,186.8 208.8,204.4 208.8,181.3 208.8,202.3 208.8,194.8 208.8,196.5 208.8,178.6 208.8,222.9 208.8,212 208.8,168.5 208.8,217.3 208.8,192.2 208.8,161.2 208.8,242.1 208.8,205.4 208.8,233.2 208.8,172.2 208.8,246.7 208.8,206 208.8,183 208.8,164.5 208.8,171 208.8,165.6 208.8,215 208.8,184.7 208.8,199.6 208.8,203.9 208.8,234.6 208.8,165.3 208.8,144.5 208.8,159.6 208.8,177.4 208.8,224 208.8,231.2 208.8,212.4 208.8,221.5 208.8,155.9 208.8,197.2 208.8,153.2 208.8,265 208.8,236 208.8,229.9 208.8,225.9 208.8,218.3 208.8,157.3 208.8,218.6 208.8,219.8 208.8,238.4 208.8,166.8 208.8,238 208.8,139 208.8,227.1 208.8,157.9 208.8,223.4 208.8,245.6 208.8,151.9 208.8,155 208.8,186.2 208.8,146.9 208.8,148.7 208.8,145.3 208.8,240.9 208.8,244.8 215.4,182.8 215.4,250.1 215.4,221.6 215.4,154.5 215.4,234.9 215.4,210.3 215.4,199.5 215.4,183.4 215.4,184.6 215.4,151 215.4,164.6 215.4,172.8 215.4,187.1 215.4,202 215.4,179.1 215.4,206.1 215.4,173.9 215.4,194.8 215.4,192.1 215.4,170.1 215.4,189.9 215.4,213.7 215.4,211.6 215.4,156.8 215.4,185.5 215.4,191.9 215.4,214.9 215.4,195.6 215.4,198.5 215.4,188.3 215.4,153.1 215.4,179.5 215.4,143.9 215.4,212.7 215.4,242.6 215.4,204.1 215.4,201 215.4,180.7 215.4,189.1 215.4,142.6 215.4,236.3 215.4,234.2 215.4,203.9 215.4,186.2 215.4,213.5 215.4,165.1 215.4,194.4 215.4,187.5 215.4,198 215.4,217.2 215.4,147 215.4,218.9 215.4,220.6 215.4,163.4 215.4,181.7 215.4,176.1 215.4,166.2 215.4,215.6 215.4,257.7 215.4,169.6 215.4,193.3 215.4,177 215.4,207.3 215.4,173.6 215.4,196.7 215.4,224.1 215.4,217.9 215.4,190.7 215.4,168 215.4,206.8 215.4,167.7 215.4,137.6 215.4,177.9 215.4,219.5 215.4,160.5 215.4,238.4 215.4,107.8 215.4,202.9 215.4,211.1 215.4,205.3 215.4,197.5 215.4,230.1 215.4,158.4 215.4,144.8 215.4,162.2 215.4,200.4 215.4,216.8 215.4,149.1 215.4,170.9 215.4,158.5 215.4,229.1 215.4,228.1 215.4,175.6 215.4,221.7 215.4,209.2 215.4,128.6 215.4,159.6 215.4,226 215.4,157.1 215.4,163 215.4,175.1 215.4,266 215.4,127 215.4,227.3 215.4,120.4 215.4,135.2 215.4,171.3 215.4,151.2 215.4,225.2 215.4,154.3 215.4,147.8 215.4,144.5 215.4,152.3 215.4,181.1 215.4,146 215.4,161.5 215.4,208.3 215.4,129.3 215.4,167.1 215.4,124.5 215.4,223 215.4,239.3 215.4,233 215.4,150.3 215.4,241.9 222,185.3 222,172.3 222,174.2 222,219.4 222,150.2 222,176.3 222,182.5 222,202.1 222,205.8 222,177.1 222,139.1 222,192.4 222,183.3 222,129.1 222,170.2 222,161.3 222,184.7 222,185.8 222,160.4 222,231 222,193.7 222,167.5 222,180.5 222,221.2 222,187.7 222,180.8 222,193.2 222,157.3 222,175.4 222,209.7 222,177.8 222,158 222,215.6 222,181.9 222,194.9 222,190.9 222,197.7 222,197.2 222,144.9 222,196.5 222,216.6 222,199.3 222,209.1 222,151.1 222,195.4 222,188.5 222,178.6 222,204.4 222,189.8 222,186.5 222,154.2 222,208.7 222,165.6 222,217.9 222,154.7 222,227.7 222,137.1 222,211.7 222,235 222,142.3 222,217.1 222,201.1 222,226.4 222,218.9 222,161.8 222,142.8 222,144.2 222,207.9 222,189.6 222,205.3 222,169.1 222,200.5 222,206.7 222,198.6 222,171 222,131.3 222,163.2 222,220.6 222,151.9 222,174.8 222,128.4 222,212.4 222,135.5 222,211.1 222,143.7 222,191.7 222,149.4 222,158.7 222,166.8 222,203.6 222,179.4 222,234.2 222,140.3 222,153.1 222,213.8 222,159.6 222,118.3 222,148.1 222,168.8 222,203.2 222,239.7 222,173.2 222,221.9 222,156.2 222,226.8 222,232.3 222,230.4 222,152.8 222,164.5 222,125.6 222,228.4 222,146.2 222,133.9 222,214.6 222,162.8 222,171.4 222,238.2 222,146.7 222,165.1 222,229 222,155.8 228.7,183.3 228.7,188.6 228.7,194.7 228.7,186.5 228.7,211.2 228.7,209.9 228.7,166.4 228.7,192.6 228.7,186.1 228.7,202.3 228.7,178.7 228.7,174.2 228.7,202.4 228.7,123.8 228.7,145.1 228.7,153.1 228.7,159.5 228.7,217.4 228.7,226.9 228.7,198.7 228.7,178 228.7,142.6 228.7,184 228.7,152.2 228.7,160.8 228.7,200.9 228.7,158.4 228.7,147.1 228.7,150.2 228.7,189.8 228.7,176.8 228.7,206.1 228.7,222.8 228.7,191.8 228.7,162.4 228.7,209.4 228.7,159.1 228.7,198.3 228.7,168.5 228.7,196.4 228.7,172.9 228.7,176.5 228.7,163.7 228.7,183.1 228.7,165.7 228.7,148.4 228.7,221.9 228.7,195.2 228.7,199.9 228.7,179.5 228.7,182.3 228.7,171.4 228.7,185.1 228.7,135.4 228.7,154.8 228.7,129.2 228.7,214.7 228.7,151.1 228.7,169.6 228.7,193.4 228.7,204.2 228.7,162.6 228.7,175.3 228.7,180.1 228.7,193.6 228.7,189.3 228.7,219.9 228.7,215.8 228.7,223.2 228.7,115.3 228.7,144.2 228.7,197.5 228.7,167.4 228.7,157.5 228.7,140.7 228.7,147.3 228.7,141.8 228.7,181.2 228.7,187.6 228.7,131.7 228.7,156.5 228.7,126 228.7,190.6 228.7,164.7 228.7,171 228.7,139.8 228.7,214.3 228.7,228.4 228.7,161.4 228.7,172.6 228.7,123.1 228.7,130.8 228.7,203.7 228.7,138.6 228.7,122.3 228.7,145.9 228.7,227.9 228.7,169.1 228.7,200.7 228.7,115.2 228.7,230 228.7,143.4 228.7,233.3 228.7,149.5 228.7,119.7 228.7,136.4 228.7,206.5 228.7,212.3 228.7,165.4 228.7,225.9 228.7,153.9 228.7,137.5 228.7,128.6 228.7,213.2 228.7,138.3 228.7,126.6 228.7,207.5 228.7,218.8 228.7,151.7 228.7,141.6 228.7,208.8 228.7,155.3 228.7,175.1 235.3,84.7 235.3,164.3 235.3,132 235.3,170 235.3,181.7 235.3,208.8 235.3,180.6 235.3,168 235.3,173 235.3,175.7 235.3,190.4 235.3,176.1 235.3,152.8 235.3,156.1 235.3,161.1 235.3,207.2 235.3,155.1 235.3,208.4 235.3,154.4 235.3,184.3 235.3,196.3 235.3,153 235.3,193.9 235.3,180.9 235.3,160.8 235.3,155.5 235.3,178 235.3,158.6 235.3,130.7 235.3,185.3 235.3,200.6 235.3,146.7 235.3,198.5 235.3,166.3 235.3,145.3 235.3,157.7 235.3,188.8 235.3,162.8 235.3,169.4 235.3,212.6 235.3,195.4 235.3,213.7 235.3,132.8 235.3,157 235.3,199.5 235.3,174.9 235.3,186.3 235.3,170.5 235.3,179.1 235.3,184 235.3,206.5 235.3,150.8 235.3,146 235.3,144.3 235.3,148.4 235.3,203.3 235.3,197.4 235.3,163.5 235.3,183.2 235.3,194.5 235.3,179.5 235.3,191.8 235.3,142.3 235.3,143.1 235.3,172.4 235.3,135.5 235.3,188.7 235.3,166.6 235.3,137.9 235.3,150.3 235.3,171.8 235.3,193.2 235.3,192.2 235.3,205.6 235.3,134.6 235.3,117.7 235.3,129.1 235.3,210.1 235.3,159.3 235.3,187.6 235.3,226.8 235.3,174.3 235.3,149.3 235.3,219.9 235.3,218.2 235.3,162.1 235.3,140.5 235.3,139.8 235.3,151.4 235.3,168.3 235.3,125.4 235.3,127.3 235.3,221.9 235.3,128 235.3,140.9 235.3,197.8 235.3,125.8 235.3,177.4 235.3,201.9 235.3,136.4 235.3,165.4 235.3,116.9 235.3,137.1 235.3,204 235.3,191 235.3,113.6 235.3,111.1 235.3,211.7 235.3,147.8 235.3,122.6 235.3,131.6 235.3,115.4 235.3,129.6 235.3,221.6 235.3,233.2 235.3,258.2 235.3,121.4 235.3,143.5 241.9,154 241.9,163.9 241.9,279.9 241.9,152.6 241.9,177.9 241.9,174.8 241.9,156.8 241.9,172.2 241.9,128.7 241.9,145.1 241.9,207.4 241.9,125.6 241.9,168 241.9,147.6 241.9,204.6 241.9,143.2 241.9,169.8 241.9,162.4 241.9,155.3 241.9,164.6 241.9,196.3 241.9,181.3 241.9,115.5 241.9,200.3 241.9,187.5 241.9,159 241.9,169 241.9,202.3 241.9,107.2 241.9,143.5 241.9,153 241.9,165.9 241.9,175.9 241.9,145.7 241.9,177.6 241.9,165.1 241.9,188.6 241.9,182.2 241.9,127.5 241.9,142 241.9,179.3 241.9,191.1 241.9,137.1 241.9,207.1 241.9,183 241.9,133.1 241.9,213.9 241.9,160.1 241.9,149.8 241.9,154.7 241.9,161.8 241.9,122 241.9,205.6 241.9,129 241.9,140 241.9,176.1 241.9,104.1 241.9,198.1 241.9,138.1 241.9,185.6 241.9,140.6 241.9,159.3 241.9,173.7 241.9,157.6 241.9,134 241.9,171.9 241.9,172.9 241.9,180.4 241.9,167.9 241.9,183.9 241.9,121.4 241.9,184.6 241.9,126.7 241.9,191.4 241.9,150.8 241.9,203.7 241.9,160.9 241.9,147 241.9,190 241.9,170.9 241.9,132.4 241.9,218.1 241.9,144.1 241.9,199 241.9,210.6 241.9,166.5 241.9,97.6 241.9,123.7 241.9,148.8 241.9,158.3 241.9,93.8 241.9,186.4 241.9,134.8 241.9,234.5 241.9,209.5 241.9,116.5 241.9,115 241.9,125.2 241.9,194.8 241.9,199.5 241.9,178.8 241.9,212.1 241.9,217 241.9,117.4 241.9,193.8 241.9,124.2 241.9,135.7 241.9,138.6 241.9,189 241.9,117.7 241.9,193.1 241.9,114.1 241.9,185.6 241.9,106.1 241.9,129.8 241.9,151.3 241.9,192.8 241.9,118.6 241.9,103.4 241.9,141.1 241.9,224.3 241.9,204.8 241.9,148.1 241.9,136.6 248.5,155.2 248.5,118 248.5,195.1 248.5,179.5 248.5,175.9 248.5,119.7 248.5,156.7 248.5,158.6 248.5,146.9 248.5,129.8 248.5,123.7 248.5,174.5 248.5,177.9 248.5,177.3 248.5,171.3 248.5,122.2 248.5,149.8 248.5,137.6 248.5,197.7 248.5,103 248.5,188.1 248.5,139.8 248.5,125 248.5,184.6 248.5,204.8 248.5,191.1 248.5,163.3 248.5,162 248.5,129.5 248.5,136.7 248.5,146.2 248.5,143.4 248.5,141.1 248.5,185.3 248.5,178.9 248.5,196.4 248.5,172.3 248.5,153.2 248.5,160.6 248.5,170.8 248.5,183.1 248.5,151.9 248.5,174.4 248.5,144.7 248.5,202.8 248.5,137.5 248.5,144.9 248.5,186.2 248.5,158.3 248.5,131.9 248.5,147.7 248.5,161.5 248.5,167.1 248.5,105 248.5,134.7 248.5,170.2 248.5,173.5 248.5,97.1 248.5,199.7 248.5,157.1 248.5,148.7 248.5,176.2 248.5,142.3 248.5,106.1 248.5,138.4 248.5,126.2 248.5,168.7 248.5,182 248.5,213.4 248.5,194 248.5,133.9 248.5,148.8 248.5,114.4 248.5,103.4 248.5,162.5 248.5,116.5 248.5,183.8 248.5,200.2 248.5,191.9 248.5,167.8 248.5,142.8 248.5,86.6 248.5,153.7 248.5,95 248.5,192 248.5,166.3 248.5,164.9 248.5,150.7 248.5,154.7 248.5,160 248.5,152.7 248.5,242.7 248.5,135.3 248.5,198.4 248.5,127.6 248.5,124.7 248.5,127.1 248.5,113.6 248.5,209.1 248.5,128.2 248.5,219 248.5,132.7 248.5,189.5 248.5,65.4 248.5,140.3 248.5,189.8 248.5,195.4 248.5,130.8 248.5,180.7 248.5,216.3 248.5,164.2 248.5,87.3 248.5,201 248.5,108.9 248.5,97.8 248.5,187.5 248.5,88.8 248.5,122.7 248.5,100.7 248.5,192.9 248.5,133 248.5,186.8 255.1,72.4 255.1,152.9 255.1,131.4 255.1,204.3 255.1,149.7 255.1,183.1 255.1,136.3 255.1,160.6 255.1,148.8 255.1,108.1 255.1,168.7 255.1,190.2 255.1,159.1 255.1,96.8 255.1,171.7 255.1,161 255.1,167.5 255.1,157.2 255.1,126.1 255.1,147.3 255.1,149.1 255.1,143.8 255.1,178.5 255.1,132.5 255.1,101.8 255.1,128.2 255.1,155.5 255.1,154.7 255.1,167.1 255.1,152.3 255.1,134.8 255.1,127.8 255.1,191.2 255.1,173.1 255.1,140.7 255.1,138.6 255.1,180.3 255.1,179.9 255.1,139.9 255.1,151.8 255.1,120.6 255.1,154.3 255.1,176.8 255.1,115.7 255.1,109 255.1,198.4 255.1,145.3 255.1,117.3 255.1,193.5 255.1,164.6 255.1,129.4 255.1,157.7 255.1,175.3 255.1,112.2 255.1,187.5 255.1,133.1 255.1,126.5 255.1,161.6 255.1,131 255.1,118 255.1,133.8 255.1,123.4 255.1,130.2 255.1,137.2 255.1,144.1 255.1,104.4 255.1,169.3 255.1,156 255.1,141.3 255.1,150.5 255.1,165 255.1,116.2 255.1,113.9 255.1,162.6 255.1,196 255.1,119.3 255.1,159.4 255.1,135.3 255.1,120.9 255.1,220.7 255.1,99.6 255.1,172.1 255.1,107.8 255.1,106 255.1,182.2 255.1,170.8 255.1,169.6 255.1,145.7 255.1,163.3 255.1,186.6 255.1,124.6 255.1,142.8 255.1,147.1 255.1,122.3 255.1,185.3 255.1,103.8 255.1,197.7 255.1,201.7 255.1,138.4 255.1,114.8 255.1,174.5 255.1,194.7 255.1,125.2 255.1,189.1 255.1,176.2 255.1,111.4 255.1,206.3 255.1,201.4 255.1,174.2 255.1,90.5 255.1,141.7 255.1,113.3 255.1,96.2 255.1,183.3 255.1,118.4 255.1,94.3 261.7,100 261.7,154.9 261.7,157.3 261.7,208.4 261.7,128.1 261.7,137.9 261.7,172 261.7,124.7 261.7,139.5 261.7,129.7 261.7,173.2 261.7,153.2 261.7,144.4 261.7,133.1 261.7,178.1 261.7,108.7 261.7,152.3 261.7,147.5 261.7,153.6 261.7,146.8 261.7,127.6 261.7,131.7 261.7,177.4 261.7,107.3 261.7,46.7 261.7,162.9 261.7,106 261.7,120 261.7,111.6 261.7,164.4 261.7,158.5 261.7,110.9 261.7,145.3 261.7,130.8 261.7,113.4 261.7,149.4 261.7,155.7 261.7,211.3 261.7,166.8 261.7,134.7 261.7,164 261.7,116.1 261.7,113.7 261.7,167.7 261.7,169.2 261.7,198.5 261.7,137.4 261.7,166 261.7,168.2 261.7,125.4 261.7,161.9 261.7,143.6 261.7,117.6 261.7,101.4 261.7,118.6 261.7,172.1 261.7,86.8 261.7,135.3 261.7,151.5 261.7,78.2 261.7,150.7 261.7,98.6 261.7,165.1 261.7,184.2 261.7,141.4 261.7,176.2 261.7,85.5 261.7,121.6 261.7,161.1 261.7,175 261.7,142.3 261.7,118.2 261.7,110.3 261.7,129.6 261.7,190.8 261.7,160.5 261.7,93.5 261.7,140.7 261.7,149.8 261.7,145.9 261.7,136.4 261.7,148.1 261.7,127.1 261.7,123.7 261.7,126.1 261.7,132.4 261.7,143.2 261.7,104.8 261.7,86 261.7,115.9 261.7,207.5 261.7,206.4 261.7,96.5 261.7,80.7 261.7,138.8 261.7,194.9 261.7,182.4 261.7,157.8 261.7,114.5 261.7,184.9 261.7,112.8 261.7,156.1 261.7,175.5 261.7,104.6 261.7,121.6 261.7,94 261.7,133.9 261.7,179.5 261.7,183.9 261.7,91.5 261.7,178.6 261.7,193.8 261.7,106.7 261.7,92.5 261.7,173.8 261.7,103.7 261.7,191.4 261.7,84.8 272.3,135.8 272.3,127.1 272.3,76.8 272.3,158.3 272.3,133.6 272.3,145.5 272.3,78.1 272.3,88.8 272.3,121.6 272.3,118.7 272.3,138 272.3,128.5 272.3,165.5 272.3,175 272.3,168.2 272.3,142.5 272.3,97.4 272.3,155.6 272.3,75.5 272.3,109.6 272.3,90.1 272.3,98.9 272.3,79.1 272.3,169.5 272.3,123 272.3,139.8 272.3,154.2 272.3,151.8 272.3,100.6 272.3,74 272.3,115.8 272.3,166.9 272.3,113.3 272.3,95.2 272.3,80.3 272.3,150.7 272.3,124.8 272.3,148.3 272.3,106.2 272.3,162.7 272.3,101.8 272.3,123.2 272.3,94.7 272.3,146.8 272.3,166.2 272.3,96.6 272.3,111.9 272.3,131 272.3,126 272.3,214.6 272.3,196.6 272.3,235.4 272.3,236.8 272.3,244.2 287.5,156.5 287.5,89.6 287.5,94.9 287.5,140.3 287.5,103.2 287.5,139.8 287.5,175.2 287.5,129.7 287.5,85.6 287.5,114.7 287.5,144.6 287.5,105.7 287.5,147.8 287.5,111.6 287.5,158.4 287.5,170.7 287.5,108.1 287.5,109.1 287.5,103.9 287.5,169.4 287.5,110.7 287.5,91.9 287.5,154.3 287.5,145.7 287.5,93.9 287.5,75.9 287.5,158.4 287.5,167.3 287.5,77.6 287.5,66.2 287.5,66.6 287.5,123.1 287.5,122 287.5,134.9 287.5,135.2 287.5,113.1 287.5,96.2 287.5,116.8 287.5,139 287.5,105.3 287.5,168.3 287.5,92.2 287.5,109.8 287.5,83.3 287.5,91 287.5,136.8 287.5,134 287.5,152 287.5,71.6 287.5,115.3 287.5,119.6 287.5,145.4 287.5,131.4 287.5,95.3 287.5,138.4 287.5,71 287.5,77 287.5,124.3 287.5,65.5 287.5,188.6 287.5,190.3 287.5,207.5 287.5,203.4 314.6,127.8 314.6,113.4 314.6,156.6 314.6,94.7 314.6,160 314.6,109 314.6,114.5 314.6,138 314.6,106.7 314.6,159 314.6,110.8 314.6,136.9 314.6,151.9 314.6,169 314.6,164 314.6,168.7 314.6,158.2 314.6,170.5 314.6,83 314.6,108.5 314.6,132.8 314.6,95.9 314.6,134.1 314.6,80.1 314.6,121.5 314.6,165.7 314.6,147.4 314.6,167.3 314.6,145.7 314.6,136 314.6,93.3 314.6,73.5 314.6,125 314.6,124.5 314.6,142.3 314.6,120.6 314.6,116.1 314.6,74.3 314.6,129.5 314.6,84.5 314.6,143 314.6,97.1 314.6,143.9 314.6,92.3 314.6,101.1 314.6,171.2 314.6,105.1 314.6,103.8 314.6,100.2 314.6,139.9 314.6,117.7 314.6,86.2 314.6,160.1 314.6,87.6 314.6,140.9 314.6,123.9 314.6,75.5 314.6,147 314.6,185.1 314.6,176.2 314.6,181.6 314.6,198.3 314.6,189.7 332.4,106.1 332.4,114.7 332.4,111.9 332.4,117.7 332.4,61 332.4,78 332.4,72.6 332.4,81.6 332.4,68.8 332.4,93.3 332.4,106.5 332.4,88 332.4,102.2 332.4,62.4 332.4,75.8 332.4,73.3 332.4,65.4 332.4,87.5 332.4,109.3 332.4,60.3 332.4,95.7 332.4,91.5 332.4,100.1 332.4,63.6 332.4,71.8 332.4,99.3 332.4,67.9 332.4,97.8 332.4,103.4 332.4,90.8 332.4,117.5 332.4,115.7 332.4,79.2 332.4,84.5 332.4,150.9 332.4,147.5 332.4,168.5 332.4,153.3 347.6,84 347.6,79.4 347.6,74.7 347.6,65.7 347.6,115.6 347.6,71.8 347.6,111.6 347.6,60.9 347.6,58.8 347.6,63.4 347.6,59.4 347.6,56.4 347.6,110.4 347.6,92 347.6,95.8 347.6,94.3 347.6,113.7 347.6,90.4 347.6,104.1 347.6,55.1 347.6,84.3 347.6,69.8 347.6,91.4 347.6,82.1 347.6,86 347.6,102.2 347.6,101 347.6,106.1 347.6,93.4 347.6,73.5 347.6,97.2 347.6,62.9 347.6,68.2 347.6,145.8 347.6,144.1 347.6,133.2 347.6,140.2 347.6,124.4 360.2,49 76.6,244.8 96.5,225 96.5,231.6 109.7,195.3 129.5,172.3 136.1,192 142.7,188.7 175.8,136 241.9,73.4 255.1,93.2 261.7,99.8 261.7,271.1 274.9,244.8 149.3,337 122.9,340.3 142.7,320.5 149.3,323.8 228.7,267.8 215.4,261.2" fill="none" stroke="none" marker-start="url(#mg)" marker-mid="url(#mg)" marker-end="url(#mg)"/>
<line x1="53.5" y1="333.1" x2="383.4" y2="7.5" stroke="#0000ff" stroke-width="4.4" stroke-dasharray="13 5.5" />
<line x1="74.0" y1="353.5" x2="400.5" y2="24.3" stroke="#0000ff" stroke-width="4.4" stroke-dasharray="13 5.5" />
<line x1="53.5" y1="353.5" x2="400.5" y2="7.5" stroke="#000" stroke-width="4.5" stroke-linecap="butt"/>
<line x1="53.5" y1="119.2" x2="268.2" y2="119.2" stroke="#ff0000" stroke-width="4.2" stroke-dasharray="13 5.5" />
<line x1="53.5" y1="157.8" x2="268.2" y2="157.8" stroke="#ff0000" stroke-width="4.2" stroke-dasharray="13 5.5" />
<line x1="268.2" y1="121.9" x2="268.2" y2="411.5" stroke="#ff0000" stroke-width="4.2" stroke-dasharray="13.2 5.5" />
<line x1="268.2" y1="117.1" x2="268.2" y2="122.5" stroke="#ff0000" stroke-width="4.2" />
<line x1="53.5" y1="7.5" x2="400.5" y2="7.5" stroke="#c8c8c8" stroke-width="1" />
<line x1="400.5" y1="7.5" x2="400.5" y2="353.5" stroke="#555" stroke-width="1" />
<line x1="53.5" y1="7.0" x2="53.5" y2="353.5" stroke="#000" stroke-width="1.2" />
<line x1="52.9" y1="353.5" x2="401.0" y2="353.5" stroke="#000" stroke-width="1.2" />
<line x1="70.0" y1="353.5" x2="70.0" y2="351.0" stroke="#000" stroke-width="1.4" />
<line x1="70.0" y1="7.5" x2="70.0" y2="10.0" stroke="#000" stroke-width="1.4" />
<line x1="136.1" y1="353.5" x2="136.1" y2="351.0" stroke="#000" stroke-width="1.4" />
<line x1="136.1" y1="7.5" x2="136.1" y2="10.0" stroke="#000" stroke-width="1.4" />
<line x1="202.2" y1="353.5" x2="202.2" y2="351.0" stroke="#000" stroke-width="1.4" />
<line x1="202.2" y1="7.5" x2="202.2" y2="10.0" stroke="#000" stroke-width="1.4" />
<line x1="268.3" y1="353.5" x2="268.3" y2="351.0" stroke="#000" stroke-width="1.4" />
<line x1="268.3" y1="7.5" x2="268.3" y2="10.0" stroke="#000" stroke-width="1.4" />
<line x1="334.4" y1="353.5" x2="334.4" y2="351.0" stroke="#000" stroke-width="1.4" />
<line x1="334.4" y1="7.5" x2="334.4" y2="10.0" stroke="#000" stroke-width="1.4" />
<line x1="400.5" y1="353.5" x2="400.5" y2="351.0" stroke="#000" stroke-width="1.4" />
<line x1="400.5" y1="7.5" x2="400.5" y2="10.0" stroke="#000" stroke-width="1.4" />
<line x1="53.5" y1="337.0" x2="56.0" y2="337.0" stroke="#000" stroke-width="1.4" />
<line x1="400.5" y1="337.0" x2="398.0" y2="337.0" stroke="#000" stroke-width="1.4" />
<line x1="53.5" y1="271.1" x2="56.0" y2="271.1" stroke="#000" stroke-width="1.4" />
<line x1="400.5" y1="271.1" x2="398.0" y2="271.1" stroke="#000" stroke-width="1.4" />
<line x1="53.5" y1="205.2" x2="56.0" y2="205.2" stroke="#000" stroke-width="1.4" />
<line x1="400.5" y1="205.2" x2="398.0" y2="205.2" stroke="#000" stroke-width="1.4" />
<line x1="53.5" y1="139.3" x2="56.0" y2="139.3" stroke="#000" stroke-width="1.4" />
<line x1="400.5" y1="139.3" x2="398.0" y2="139.3" stroke="#000" stroke-width="1.4" />
<line x1="53.5" y1="73.4" x2="56.0" y2="73.4" stroke="#000" stroke-width="1.4" />
<line x1="400.5" y1="73.4" x2="398.0" y2="73.4" stroke="#000" stroke-width="1.4" />
<line x1="53.5" y1="7.5" x2="56.0" y2="7.5" stroke="#000" stroke-width="1.4" />
<line x1="400.5" y1="7.5" x2="398.0" y2="7.5" stroke="#000" stroke-width="1.4" />
<text x="70.0" y="373.0" font-size="18" text-anchor="middle" >3</text>
<text x="47.0" y="343.0" font-size="18" text-anchor="end" >3</text>
<text x="136.1" y="373.0" font-size="18" text-anchor="middle" >4</text>
<text x="47.0" y="277.1" font-size="18" text-anchor="end" >4</text>
<text x="202.2" y="373.0" font-size="18" text-anchor="middle" >5</text>
<text x="47.0" y="211.2" font-size="18" text-anchor="end" >5</text>
<text x="268.3" y="373.0" font-size="18" text-anchor="middle" >6</text>
<text x="47.0" y="145.3" font-size="18" text-anchor="end" >6</text>
<text x="334.4" y="373.0" font-size="18" text-anchor="middle" >7</text>
<text x="47.0" y="79.4" font-size="18" text-anchor="end" >7</text>
<text x="400.5" y="373.0" font-size="18" text-anchor="middle" >8</text>
<text x="47.0" y="13.5" font-size="18" text-anchor="end" >8</text>
<text x="226.8" y="392.7" font-size="18.4" text-anchor="middle" >Catalog magnitude (M)</text>
<text transform="translate(28.5,176.5) rotate(-90)" font-size="17.8" text-anchor="middle">Predicted magnitude (M)</text>
<text x="13.2" y="13.6" font-size="19.5" text-anchor="start" >(a)</text>
<text x="71.0" y="46.4" font-size="18.4" text-anchor="start" >ϖ=0.221</text>
<text x="72.0" y="79.7" font-size="18.4" text-anchor="start" >σ=0.295</text>
<text x="291.0" y="277.0" font-size="18.8" text-anchor="start" >M6</text>
<circle cx="607.7" cy="111.8" r="4.6" fill="none" stroke="#c9ddf2" stroke-width="1.2"/>
<text x="625.5" y="118.8" font-size="22.4" text-anchor="start" >3≤M≤3.9</text>
<circle cx="607.7" cy="134.3" r="4.6" fill="none" stroke="#2fe3ea" stroke-width="1.2"/>
<text x="625.5" y="141.3" font-size="22.4" text-anchor="start" >4≤M≤4.9</text>
<circle cx="607.7" cy="156.5" r="4.6" fill="none" stroke="#ffee1f" stroke-width="1.2"/>
<text x="625.5" y="163.5" font-size="22.4" text-anchor="start" >5≤M≤5.9</text>
<circle cx="607.7" cy="179.0" r="4.6" fill="none" stroke="#f09a14" stroke-width="1.2"/>
<text x="625.5" y="186.0" font-size="22.4" text-anchor="start" >6≤M≤6.9</text>
<circle cx="607.7" cy="201.2" r="4.6" fill="none" stroke="#ea3b34" stroke-width="1.2"/>
<text x="625.5" y="208.2" font-size="22.4" text-anchor="start" >7≤M≤7.4</text>
<line x1="627.8" y1="237.6" x2="694.5" y2="237.6" stroke="#0000ff" stroke-width="4.4" stroke-dasharray="12.5 5.6" />
<text x="705.5" y="240.7" font-size="23.5" text-anchor="start" >±1σ</text>
<rect x="53.5" y="411.5" width="214.8" height="103.2" fill="#ffff00"/>
<rect x="268.3" y="411.5" width="132.2" height="103.2" fill="#ff0000"/>
<rect x="268.3" y="514.7" width="132.2" height="242.8" fill="#bebebe"/>
<line x1="53.5" y1="514.7" x2="400.5" y2="514.7" stroke="#444" stroke-width="0.8" />
<line x1="268.3" y1="411.5" x2="268.3" y2="757.5" stroke="#444" stroke-width="0.8" />
<line x1="53.5" y1="411.5" x2="400.5" y2="411.5" stroke="#555" stroke-width="1" />
<line x1="400.5" y1="411.5" x2="400.5" y2="757.5" stroke="#555" stroke-width="1" />
<line x1="53.5" y1="411.0" x2="53.5" y2="757.5" stroke="#111" stroke-width="1.0" />
<line x1="52.9" y1="757.5" x2="401.0" y2="757.5" stroke="#111" stroke-width="1.0" />
<line x1="70.0" y1="757.5" x2="70.0" y2="756.2" stroke="#000" stroke-width="0.8" />
<line x1="70.0" y1="411.5" x2="70.0" y2="412.8" stroke="#000" stroke-width="0.8" />
<line x1="136.1" y1="757.5" x2="136.1" y2="756.2" stroke="#000" stroke-width="0.8" />
<line x1="136.1" y1="411.5" x2="136.1" y2="412.8" stroke="#000" stroke-width="0.8" />
<line x1="202.2" y1="757.5" x2="202.2" y2="756.2" stroke="#000" stroke-width="0.8" />
<line x1="202.2" y1="411.5" x2="202.2" y2="412.8" stroke="#000" stroke-width="0.8" />
<line x1="268.3" y1="757.5" x2="268.3" y2="756.2" stroke="#000" stroke-width="0.8" />
<line x1="268.3" y1="411.5" x2="268.3" y2="412.8" stroke="#000" stroke-width="0.8" />
<line x1="334.4" y1="757.5" x2="334.4" y2="756.2" stroke="#000" stroke-width="0.8" />
<line x1="334.4" y1="411.5" x2="334.4" y2="412.8" stroke="#000" stroke-width="0.8" />
<line x1="53.5" y1="757.5" x2="54.8" y2="757.5" stroke="#000" stroke-width="0.8" />
<line x1="400.5" y1="757.5" x2="399.2" y2="757.5" stroke="#000" stroke-width="0.8" />
<line x1="53.5" y1="699.8" x2="54.8" y2="699.8" stroke="#000" stroke-width="0.8" />
<line x1="400.5" y1="699.8" x2="399.2" y2="699.8" stroke="#000" stroke-width="0.8" />
<line x1="53.5" y1="642.2" x2="54.8" y2="642.2" stroke="#000" stroke-width="0.8" />
<line x1="400.5" y1="642.2" x2="399.2" y2="642.2" stroke="#000" stroke-width="0.8" />
<line x1="53.5" y1="584.5" x2="54.8" y2="584.5" stroke="#000" stroke-width="0.8" />
<line x1="400.5" y1="584.5" x2="399.2" y2="584.5" stroke="#000" stroke-width="0.8" />
<line x1="53.5" y1="526.8" x2="54.8" y2="526.8" stroke="#000" stroke-width="0.8" />
<line x1="400.5" y1="526.8" x2="399.2" y2="526.8" stroke="#000" stroke-width="0.8" />
<line x1="53.5" y1="469.2" x2="54.8" y2="469.2" stroke="#000" stroke-width="0.8" />
<line x1="400.5" y1="469.2" x2="399.2" y2="469.2" stroke="#000" stroke-width="0.8" />
<line x1="53.5" y1="411.5" x2="54.8" y2="411.5" stroke="#000" stroke-width="0.8" />
<line x1="400.5" y1="411.5" x2="399.2" y2="411.5" stroke="#000" stroke-width="0.8" />
<text x="70.0" y="776.6" font-size="18" text-anchor="middle" >3</text>
<text x="136.1" y="776.6" font-size="18" text-anchor="middle" >4</text>
<text x="202.2" y="776.6" font-size="18" text-anchor="middle" >5</text>
<text x="268.3" y="776.6" font-size="18" text-anchor="middle" >6</text>
<text x="334.4" y="776.6" font-size="18" text-anchor="middle" >7</text>
<text x="47.0" y="763.5" font-size="18" text-anchor="end" >−3</text>
<text x="47.0" y="705.8" font-size="18" text-anchor="end" >−2</text>
<text x="47.0" y="648.2" font-size="18" text-anchor="end" >−1</text>
<text x="47.0" y="590.5" font-size="18" text-anchor="end" >0</text>
<text x="47.0" y="532.8" font-size="18" text-anchor="end" >1</text>
<text x="47.0" y="475.2" font-size="18" text-anchor="end" >2</text>
<text x="226.8" y="797.0" font-size="18.4" text-anchor="middle" >Catalog magnitude (M)</text>
<text transform="translate(19.0,584.5) rotate(-90)" font-size="18.4" text-anchor="middle">Log<tspan font-size="12.5" dy="4.5">10</tspan><tspan dy="-4.5">(Observed PGV (cm/s))</tspan></text>
<text x="13.0" y="417.0" font-size="19.5" text-anchor="start" >(b)</text>
<text x="161.0" y="477.0" font-size="62" text-anchor="middle" >2</text>
<text x="333.5" y="477.0" font-size="62" text-anchor="middle" >3</text>
<text x="161.0" y="650.0" font-size="62" text-anchor="middle" >0</text>
<text x="333.5" y="650.0" font-size="62" text-anchor="middle" >1</text>
<polyline clip-path="url(#cc)" points="620.4,606.8 628.3,642.3 618,623.8 609.4,691.5 617,686.2 619.8,647.2 627.7,666.9 618.2,636.2 612.6,663.1 612.9,674.1 616.8,644 612.4,642.2 618.4,674.3 615.6,667.8 611.5,671.3 608.2,669.1 616.9,637.8 606.4,669.7 618.2,650.5 611.1,634.1 626.7,673.5 620.8,646.5 612.3,675.6 623.9,635.4 615.2,679.1 623.2,665.5 613.9,667 605.4,640.6 617.4,661.7 624,635 620.9,656.3 618.4,654 610.9,650.7 616.5,650.9 611.3,675.7 625.8,661.5 607.3,642.8 629.3,637.8 619.9,675.1 613.9,655.5 610.8,624.4 609.1,658.1 617.7,657.4 614.5,669.5 617.9,647.8 629.9,624.8 618.6,639 621.3,660.1 619.2,663.1 615.1,681 624,643.2 627.4,693.5 610.1,655.2 625.9,656.4 624.6,639.7 607.2,637.9 621.9,661.4 603.2,619.2 619.8,658.3 621.4,603.9 613.8,646.1 617.4,640.8 623.1,654.4 627.9,634.3 611.5,654.4 616.5,652.4 611,659.9 615.4,686.1 620.2,654.9 607.2,689 609.1,651 616.4,671 620.7,649.1 611.9,646.8 611.1,645.5 613,677.9 615.6,673.3 617.8,617 610.4,668.9 612.2,640 605.4,660.1 619.4,641.3 609.3,652.2 601.8,676.2 611.7,680 608.3,658.5 616.3,672.3 601.2,677.8 617.2,655.7 625.6,647.9 605.6,671.9 615.6,676.8 616.1,678.5 626.6,646.9 624.3,647 602.6,688.5 614.6,630.2 626.5,650.6 615.8,666 621.1,690.3 612.6,638.1 619.3,660.8 612.8,672.6 613.5,655.5 616.6,660.2 614.9,688.6 616.3,659 606,663.9 613,634.9 614.2,653.5 616,655.7 626.3,626.5 621.2,651.2 617.5,663.2 608.4,684.9 613.9,660.7 608.1,679.2 610.5,665.1 604.8,676.9 603.1,677.3 618.2,652 612.7,636.8 612.1,660.8 628.8,592.4 614.8,684.2 603.7,681.5 616.2,644.7 609.2,647 609.6,660.4 622.7,661 620.6,669.2 618.9,677.2 616.6,657.2 624.2,632.1 601.7,651.2 621.9,676.8 619.5,661.7 631.4,620 621.2,663.3 620.5,650.6 614,665 627.4,636.3 622,667.9 605.4,623.6 624.1,624.7 609.1,671.8 615.8,633.9 615.5,654 627.4,623.2 628.2,604.6 618.9,630.5 621.2,653.2 623.2,624.2 608.2,648.1 607.4,659.8 608.9,657.9 620,635.4 629.3,636.1 626,643.3 617.6,679.1 611.2,691.2 611.4,664.3 604.5,646 625,670.7 622.2,641.4 614.6,674.1 610.2,683.2 618.3,631.2 617.3,642.6 612.9,684.9 619.1,644.5 614.9,659.1 619.8,665.4 619.8,652.6 620.1,635.8 617.1,642.2 612.4,650.3 618.1,667 603.7,661 625.7,641.5 609.3,673.7 616,649 610.8,643.6 609.9,640.3 618.1,624.7 626.9,658.1 610.7,667.4 623.9,622.8 611.9,678.2 620.3,669.2 626.5,679.3 612.1,680.2 604.7,640.1 624.6,652.5 613.5,662.5 621.2,636.6 616.3,620.1 622.1,679.7 628.1,647.2 611.1,681.4 603.8,688.2 628.4,686.8 626.6,622.3 617.9,681.8 616.6,684.6 616,680.6 614,627.3 603.6,670.8 615.5,676.5 621.2,639.3 609.3,669.2 621.8,672 630.9,608 616.4,663.4 614.8,652.5 621.4,682.2 628.4,627.1 614.8,670.7 632.3,670.6 624.6,661.3 602.3,690.6 608.2,640.8 622.6,628.3 613.7,607.3 614.5,663.2 620,615.5 632.1,664.1 620.6,624.8 622.4,637.6 623.5,670.7 616.3,646.6 608.4,680.7 626.8,638.7 618.8,671.4 619.9,638.2 616.1,668.6 611.5,685.7 604.4,635.3 611.6,622 618.8,673.1 608.9,678.9 609,662.3 612,651.3 611.7,662.2 608.1,664.5 608.2,671.4 610.7,618.7 619,657.2 616.8,662.5 605.3,659.1 613.1,613.3 620.6,650.2 609.7,664.5 608,676 606.9,690.8 617.2,658.4 613.7,645.5 613.3,667.2 625,667.1 618.1,627 612.8,651.2 602.6,670.6 610.3,648.2 605.9,680.9 609.2,637 613.6,689.1 625.2,628.3 614.1,625.7 633.4,627.2 606,643.3 601.5,646.9 603.8,678.5 619.7,653.8 615.2,625.2 611.9,684.8 627.3,652.7 613.6,623.2 612.7,648.4 618.6,609.5 605.1,643.8 608.4,647.1 619.2,642.8 619.1,648.8 619.5,679.8 614.7,676 606.7,661.7 606.6,625.2 619.3,600.4 608.9,649.1 623.7,645.9 608.7,680.2 607.4,654.6 612.2,658.8 605.6,655 617,686.8 623.2,662.8 617.7,620.9 612.3,646.3 611.9,629.2 608.1,627.2 605.8,667.6 622.1,627.5 608.4,665.3 621.2,631.2 607.2,636.2 620,670.3 616.8,641.3 607.1,686.4 620.6,659.1 612.3,656.8 614,686.8 619.1,674.7 624.9,650 619.4,632.1 626.4,678 628.2,674.2 606,665.2 623,663.9 610.2,693.9 622.7,668.9 621.2,635.6 618.6,661.1 618.2,646.7 623.4,654.5 610.3,666.1 609.1,629.1 610.7,617.1 613,679.8 603.6,659.2 617.5,665.2 622.4,652.1 633,653.8 608.5,635.6 608.6,677.5 609.4,653.1 616.6,692.1 614.6,623.4 610.9,659.1 603.8,672.6 622.8,643.9 612.1,644 603.5,669.5 615,649.6 616.7,630.1 616.8,682.2 614.5,644 604.3,641 628.4,612.1 613.7,678.1 606.8,679.2 613.4,629.9 610.6,671.8 606.2,683.3 601.4,692.2 624.9,629.7 622.7,646.2 609.9,644.6 619.9,612.5 629,645.7 611.5,626.8 621.8,692.2 634.3,633.8 627.3,643.1 624.6,654 609.1,628.3 615.2,637 608.7,677.8 622.1,670.6 627.8,689.4 601.9,672.7 617.3,645.3 622.5,630.5 631,613.1 624.7,666.1 607.7,624.3 621.5,629.2 608.3,652.6 611.4,673.7 610.6,641.9 612.3,665.8 627.9,645.2 606.8,646.6 619.6,639.7 615.4,639.2 621.5,617.8 621,626.2 628.1,659.6 624.7,681 613,626.8 625.1,676.6 614.5,641.9 613.2,614.3 606.2,673.5 618.9,591.9 622.3,690.4 601.7,672.8 624.5,661.1 613.3,690.9 606.6,642.1 622.2,656.5 623.8,667.6 627.9,653.4 624.9,682.5 603.9,649.4 622,638.5 627,634.7 627.6,621.1 625.7,609.7 612,638.3 610.7,656.7 615.6,612.7 625.1,637.1 611.4,655.8 617.5,689.5 628.8,664.4 625.4,637.6 621.2,645.3 623.9,613.5 621.7,619.8 620.2,627 614.6,682 617.7,672.2 619.6,622.9 610.2,624.9 603.9,657.8 624.2,620.4 625.9,680.8 634.5,630.8 617.1,675.1 623.9,602.2 613.7,634.8 605.9,669.9 601.7,630.8 610.4,628.3 614.8,662.5 624.2,649.3 602.6,643.1 628.8,628.9 616.8,623.5 604,666.5 625.3,609.9 618.1,635.7 626.2,651.4 605.8,632.6 609.4,687 604.9,645.7 623.7,633.7 612.6,633.9 633.8,643.5 617.3,685.7 629.5,634.3 612.5,654.1 606.5,686.3 615.5,636.4 616.4,635.3 629.2,632.6 616.4,640.4 625,633.9 620.8,685 627.6,684.1 629.6,647.2 630,656.8 623.9,599.8 615,656.2 619.1,624.2 631.3,651.7 631.5,624.7 625.9,644.8 610.6,634.2 615,648.5 623.1,651.1 625,684.8 609.5,685.6 615,644.6 604.2,630.3 610.7,682.2 606,616.4 617.3,620.2 625.8,656 618.7,677.9 608,650.7 614.1,619.2 606.5,657.2 603.5,693.8 606.4,635.4 621.5,675.1 603.4,661.3 626.8,625 606.5,687.4 609.2,622 617.6,668.8" fill="none" stroke="none" marker-start="url(#mc0)" marker-mid="url(#mc0)" marker-end="url(#mc0)"/>
<polyline clip-path="url(#cc)" points="636.1,622.1 669.1,637.6 637.5,646 638.8,612.2 661.2,593.9 654.6,611.7 651.9,626.6 613.6,633.4 628.2,629.9 628.6,627.7 658.4,599.8 662,594.4 632.3,645.1 651.1,636.4 656.6,619.5 636.8,655.7 638.1,625.4 654.2,608.7 642.9,646.7 621.9,634.5 638.8,632.7 633,609.6 630.6,625.1 634,660.2 620,635.7 623.1,620.8 630.4,648.9 615.5,660.1 618.9,646.5 622.3,643 650.2,612.5 623.5,670.6 662.5,603 623,635.6 622.1,629.9 638.2,626.3 642.4,615.6 639.9,634.2 643.4,633.3 634.6,629.9 641.2,622.9 636.9,653.6 618.6,638.1 609.2,655.1 624.5,683.7 646,617 665.3,579.3 635.6,632.6 619.1,619.6 630.4,641.7 647.2,630.9 631.2,598.3 639.2,635.3 624.8,650.2 612.7,677 637.8,630.4 628.7,636.5 649.8,632.7 648.6,635.3 624.8,666.7 642.8,593.8 633.1,627.1 619,630.6 628.6,634.5 652.5,606.7 623.4,655.1 619.6,640.1 622.3,640.6 658.6,619.7 634.1,618.3 630.6,630.3 624.5,643.6 627.3,626.3 627.8,657 615,634.8 639,622.8 660.5,622.2 634.3,611.5 626.4,624.1 644.5,648.1 636.6,618.9 653.5,608 632.1,624.2 670.9,595.1 636.1,600.1 657.7,585.9 630.9,670.2 634.8,641.1 640.9,618.6 626.2,665 663.9,605.7 646.5,609.2 617.9,651.2 640.4,668.3 628.4,645.8 640.8,626.8 644.5,633 625.5,624.4 639.7,605 628.4,660.5 656.3,636 655.7,597 636,625.7 649.8,608.2 620.8,651.2 635.7,654.8 626.2,649.1 621.9,631.2 653,617.8 655.3,617.2 617.9,653.4 641.1,608 645.8,623.8 647.5,623.4 633.4,655.8 638,594.2 647.5,611.9 622.3,651.2 645.5,642.6 637.4,642.9 657.7,604.8 643.8,605.1 640.3,617.7 621.2,639 646.5,620.6 661.1,600.8 656.5,627 635.4,602.7 650.2,619.8 630.6,665 642.6,663.7 612.2,653.7 618.6,658.4 635.9,622.8 627,652.2 657,628.6 635.7,638 654.6,605.7 647.9,596.6 643.8,623.6 654.7,607.8 644.1,639.9 630.7,623.2 620.6,669.2 649.8,635.5 657.1,642.4 608.6,657.6 616.7,648.5 648.4,614.8 628.9,642.3 629.3,628 617.9,643.2 625.7,654.5 649.1,639.2 668.6,623.2 637.4,636.4 625.8,636.9 643.7,611.6 613.8,647.6 633.5,628.7 652.1,617.5 629,655.6 639.7,617 627.3,643.3 667,619.7 648,603.1 635.5,646.7 651.5,633.1 644.8,596.6 654.1,613.7 608.3,626.3 651.5,652.1 633.6,643.9 630.8,639.2 638.3,627.4 614.7,668.8 616.4,646.6 656.9,608.6 633.4,636.9 622.5,668.5 629.7,600.4 646.5,635.1 635.5,597 640.5,620.1 643.3,616.6 626.9,643.6 624.8,657.8 625,630.6 650.2,626 623.1,649 626.9,656.4 680.5,580.3 651.3,619.1 622.6,658.6 633.7,632.7 639.3,601.8 644.3,640.6 622.8,641.8 622,676.3 657.1,589.1 637.9,610.7 624.5,655.5 639.7,647 661.1,608.9 625.3,627 672.7,564.5 632,650.2 668.1,605.6 611,652.1 630.7,619.2 650.9,592.8 633.3,615.5 636.3,632.3 662.6,609.4 639.9,608.2 655.6,631.9 631.9,671.9 627.3,654.4 626.8,660.8 618.9,653 612.8,646.3 634.1,659.7 645,624.9 645.2,638.3 671.1,618.7 628.5,613.7 646.9,608.5 619.2,652.4 619,617 631,663.7 639.5,664.5 620.4,656.6 668.5,631.7 612.1,659.3 641.7,643.4 625.5,660.6 612.4,672.4 632,648.4 653.5,623.1 646.3,619.5 610.4,675.4 634.1,613 646.4,577.6 622.9,608.1 630.6,640.8 631.5,616.9 611.3,648.6 668.8,591.4 623.8,636.2 640.7,638.6 651.3,671.6 634,629.1 609.5,650.6 640.5,594.9 636,624.7 633.5,678.2 659.2,598 636.7,614.2 645.3,656 646.9,629.5 628.8,663.2 664.7,586.3 632.3,607.2 642.2,604.9 656.5,598.1 626.1,667.4 657.2,620.5 635,644.1 640.5,652 638.2,658.3 634.6,635.1 633,619.5 638.1,651.1 669.6,607.8 657.8,605.2 656.8,599.8 654.8,627.2 614.4,660 658.3,611.1 637.7,647.3 621.7,645.1 633.3,639.6 646.1,591.6 684.1,612.8 643.3,627.6 633,634.9 661.4,563.9 649.3,619.3 639.7,628.9 638.4,640 643.5,625.6 618.4,633.2 640.3,636.3 636.3,606.8 645,620.1 624.1,659 656.5,601.3 637.1,627.4 630.3,621.6 614.5,658.2 628.1,662.5 627.8,669.8 629.4,663.5 626.9,632.4 635.6,627.2 638.6,616.8 659.4,630.5 624.9,623.6 658.2,574.9 628.4,685.9 625.3,621.6 660.4,605.3 642.9,606.1 630.6,643.3 625.5,638.3 630.7,636.6 623,676.6 652,642.9 627.5,652.6 609.3,679.1 627.1,611.8 670.6,589.7 621.8,665 621.9,678.8 611.9,633.1 614.5,653.3 624,647.3 653,625.3 663.3,610.5 653.9,580.6 626.1,628.2 646.6,628 661.2,615.1 629.2,638.4 666.4,605.2 659.6,628 659.2,620.6 651,643 645.6,621.3 626.5,659.4 627.5,622.3 611.5,670.7 661,612.2 640.1,612.5 632.7,631.2 613.1,683.8 616.5,655.3 653.3,601 624.8,642.4 641,661.2 611.2,652.8 645,607.9 648.4,650.7 650.9,589.6 647.8,655.3 638.9,607.3 649.2,673.2 619.3,677.1 631.8,619.5 617,679.2 623.3,633.7 643.8,618.5 651.1,613.4 618.4,612.8 678,581.8 638.4,596.3 646.1,612.2 620.3,624.3 627.2,635.1 624.5,612.1 647.8,620.9 643.4,650.9 652.1,648.8 619.3,641.1 633.3,649.1 615.9,669.3 634.9,639.5 644.1,608.5 656.3,631.8 627.3,633.4 623.6,662.7 648.2,652 651.4,574.8 662.5,605.7 631.3,676.2 611.9,642.6 646.8,665.8 624.8,631.3 623.1,649.9 641.2,629.4 620.8,625 641.2,625.8 645,592.3 612.8,634.9 615.6,639.9 607.4,673.9 662.5,624 641.7,595.2 637.9,604.2 656.2,616.3 619.5,618.6 652,590 642.1,598.5 634.6,665.8 659,566.8 639.7,640.2 626.1,647.2 641.2,648.9 613.6,643.1 639.7,630.7 675,583.4 635.1,621 661.3,630.1 670.9,601.2 639.8,629.3 669.2,602.3 658.3,653.1 664.2,618.5 645.1,626 638.8,636.5 644.8,612 638,591.7 642.7,612.3 631,651.9 631.4,621.3 638.6,656.9 610,663.7 649.2,612.2 614.1,668 640.5,621.6 615.2,638.3 666.5,597.3 647.6,623.9 655.3,603.8 634.4,607 642.3,640.5 640.1,623.5 660.7,608.4 653,611.1 628.8,632.6 671.5,575.3 647.2,587.9 630.7,652.5 618.4,662.6 659,606.9 632.8,673 639.2,614.9 636.6,613.1 654.2,614.2 642.3,615.1 637.1,660.9 638.6,631 632,657.1 647.5,643 636.1,638.4 629.3,650.6 663.3,604.9 619.3,644.4 655.1,630.2 643.9,647.8 635.4,614.2 611.2,634.7 638.3,618.1 614.2,678.5 620.7,671 639.8,613.8 628,620.2 648.2,611.2 619.6,631.7 607,665.8 624.5,628.3 665.1,582.8 642,632.5 640.1,611.5 621.6,649.4 618.8,651 659.2,624.3 671.5,588.9 660.8,624 637,604.1 657.9,589.8 661,570.8 647.5,559.8 643.8,629.9 632,668.3 620.6,666.9 649.7,609.2 641.7,634.8 639.7,576.2 632.9,610.4 647.7,629.4 616,658.4 646.9,615.3 680.7,594.8 636.2,630.5 659.4,609.6 630.9,635.8 620.4,672.6 649.1,604.8 635.2,679.2 652.2,602.5 642.5,639 615.6,665.8 639.2,596.2 627.7,618.8 626.6,598.1 651.6,615.3 649.8,616.9 657,634.7 632.9,606 633.9,622.7 632.9,607.6 645.5,605.6 653.3,661.3 633.4,617.8 635.4,648.2 617.8,649.3 613.4,641.6 654.2,639.6 620.9,648.5 645,612.3 651.1,608.2 633.5,596.6 635.3,625.5 622.9,631.7 642.4,612.4 641.1,636.9 666.6,626.6 634.1,672.5 657.2,591.6 608.7,654.3 663.1,598.1 629.6,615.4 626.7,685.5 621.9,677.9 647.4,603.4 618.1,631 640,625.5 663.3,647.3 652.4,616.3 646.2,573.4 630.5,616.6 646.4,647.2 611.1,646.8 637.5,635.6 632.4,612 617.7,644.4 653.1,627.4 658.2,640.7 642,665.5 640.9,609.6 623.8,620.1 644.8,601.4 609.2,652.8 623.2,644.9 630.8,660 635.6,657.7 627.7,640 670.1,581.1 666.2,615.6 652,596.4 654.2,638.5 654.4,642.9 668.9,605.2 651,629.1 649.1,646.6 652.1,604.9 674.6,596 644.6,631.6 630.8,659 616,643.1 653.2,619.1 616,654.5 614.8,619.6 633.2,667.8 643,602.8 651.4,635.9 624.6,666.1 622.5,656.8 618.1,655.9 642,651.6 625.1,632.7 631,628 623.2,679.5 643.8,601.6 641.1,631.2 636.9,618.5 617.6,667.1 664.1,567 609.5,677.3 638.6,621.2 630.7,656.8 627.9,621.5 649.4,595.6 664.4,612.3 650.2,605.1 637.6,602.3 631.5,629.5 661.4,585 668.7,609.9 654.9,634.7 646.4,637.4 656.6,603.3 648.5,632 638.1,645.9 631.4,643.9 626.4,642.4 640.4,632.4 640.9,641.8 641.2,656.2 632.2,641.5 663.3,639.8 607.8,653.6 621.3,641.1 654.9,609.4 686.5,576 628.4,624 654.9,598.6 633.3,652.4 651,593.5 642.9,609.1 613.7,633.6 628.5,648 654.3,605.1 641.3,625.3 654.4,625.8 616.1,629.3 638.4,641.5 629,626.4 622.9,598.4 628.1,676 629.9,660.3 629.2,622.8 610.9,669.1 648.6,598.5 651,623.9 611.8,644.7 648.5,624.5 644.5,629.8 650.2,627.5 651.2,650.4 642.2,592.5 663.8,607.4 647.4,605 621.8,681.7 641.2,627.6 636.6,586.6 608.2,662 648.3,632.4 615.4,670.7 620.5,637.9 629.2,608.4 650,640.7 609.5,641.3 646.3,645.1 628.2,627.1 631,638.6 652.5,627.9 617.3,646.6 628.4,667.3 611.6,661.5 659.8,598 627.3,664 659.1,626.6 670.2,603.6 648.8,615.6 662.7,651.3 634.2,645.1 623.2,653.5 619.8,662.8 653.3,633.4 644.6,666.5 616.6,675.7 662.6,619 626.1,619.5 607.8,652.5 631.5,653.4 614.5,657.5 630.4,645.5 656,586.3 613.1,648 649.9,650.5 643.4,654.9 624.7,681.7 671.7,601.7 615,655.8 649.1,607.2 633.1,639.2 655.5,628 635.2,631.8 655.6,639.5 662.1,598.7 638,654.8 637.8,660 662.7,611.4 648.5,609.1 625.3,640.2 644.2,652.3 644.9,614.3 622,662.8 647.6,592 659.4,645.1 633.4,603.9 671.9,604.6 624.1,670.8 614.4,672.7 646.6,583 652,635.1 643.8,624 618.2,610.6 614.8,686 634.1,654 663.9,594.5 662.7,587.6 656.3,617.6 637.4,663.9 642.3,653.9 625.8,621 641.8,620.2 633.6,624.8 634,580.7 664.7,630.4 665.5,596.9 627.7,598.3 615.8,656.4 626.6,637.7 613.6,673.4 676.5,599.5 639.9,667.1 628.6,615.3 645.9,628.8 654.3,617 627.9,638.6 626.9,650.2 611,671.9 623.6,638.2 631.4,631.4 621.5,632.7 654.3,595.3 614.6,663.2 612.2,675 609.1,656.6 665.8,619.8 669.6,565 648.4,622.8 651,610.5 625.3,649 613,645.5 629.8,661.7 671.7,618.1 608.3,633.7 643.7,634.5 623.7,672.9 624.6,678.2 637.5,640.2 654.6,636.3 634.6,651.2 633.9,602.8 653,622 684.2,557.7 633.5,668.7 624.3,636.3 672.9,558.5 656.9,563.4 637.6,671.7 659,596.4 644.1,619.7 652.3,652.9 636.8,650.3 610.3,635.2 632.2,634.1 614.2,648.1 623.5,629.1 630.4,646.9 659.1,601.9 677.8,624.2 621.7,621.3 665.9,617.3 644.3,658 656.8,584.1 636,668 668.9,588.3 634.2,676.3 632.3,665.7 607.5,635.2 655.4,619.5 667,610.2 629.4,633.2 660,618.1 636.1,645.9 638.4,598.4 618.2,661.3 650.3,601.2 649.6,617.3 656.8,624.8 639.2,640.9 643.7,636 613.2,656.9 644.1,643.7 650.8,603 616,664 617.8,673.1 636,597.6 648.6,626.9 622.5,678.2 655.5,624.2 622,664.2 612.7,650.4 642.3,601.4 609.3,665.8 650.1,631.4 626.3,661.6 612.5,619.9 650,606.4 661.2,622.3 624.1,669.4 614.4,649.4 653.5,602.1 616.9,661.9 620.3,632.9 659.1,604.3 661.8,642.7 624.4,614.9 618.3,614.7 609.9,630.6 672.9,594.5 617.9,657 635,650.7 649.2,618.2 636.9,607 675.8,590 651.2,624 616.6,638.7 622.1,653.7 635.6,606.8 645.8,594.8 637.6,654.3 624.2,652 630.3,659.3 675.7,578.5 623,628.3 621.2,658.9 648.4,580.1 640,585 652.1,560.3 640.3,649.1 625.2,645 646.8,650.2 637.5,665.7 645.7,645.3 674.4,585.3 637.3,658.5 632.6,641.5 641.1,609.1 659.5,613.9 633.9,644.8 652.9,592.3 657.8,567.8 630.7,636.9 655.3,602.2 632.2,661.4 616.9,667.7 658,572.7 639.7,657.5 655.2,644.7 660.9,598.7 621.3,683.1 640,653.3 642,590.4 646,608.9 649.8,623.4 613.6,670.2 633.8,614.1 626.1,645.1 657.2,613.6 621.9,627.8 667.5,610.4 642.8,600.1 644.8,591 608.3,647.8 620.1,659.8 644.5,601.8 615.6,631.2 649.8,641.8 608.2,637 634.7,683.1 658,594.1 613.1,639 641.9,621.6 645.2,659.9 631.1,646.3 647.3,642.2 628.2,611.3 619.4,659.6 638.2,647.7 634.2,627.3 657.4,630.6 646.1,599.2 626.6,675.1 640.4,583.1 666.2,605 659,612.9 657.2,638.5 614.8,645.2 635.6,623.2 656.5,571.4 619.5,649.7 656.8,622.8 631.5,627.2 630.1,667.1 630.7,604.2 614.6,636.5 622.5,646.8 647.4,639.5 610.8,637.2 619.1,664 655.4,614.6 630,654.4 618.1,639.6 628.8,603.2 640.9,643.6 648.4,627.6 609.4,667.6 641.2,649.4 622.7,666.2 651.3,645.4 652.7,598.4 618.6,663.1 632.5,665.4 665.7,590.4 621.9,657.7 666.4,578.5 607.6,646.5 627.5,631.7 620.9,640.9 619,609.1 607.6,639.1 610.4,674.2 659.7,604.8 654.5,600.3 621.4,643.7 665,575.9 633.9,650.6 647.1,584 613.2,637.3 611.8,639.7 662.8,604.4 618.6,670.1 625.3,601.3 639.3,580.8 637.4,608.7 657.4,683.9 636.1,676.4 634.6,616.9 659.9,611.2 645.9,600 619.5,643.3 665.5,610.1 640.3,661.7 654.6,592.3 653.9,588.2 642.4,647.2 660,581 613.4,652.7 660.5,574.5 620.5,673.7 668.6,599.3 660,574.9 613.1,666.9 645.7,643.3 645.1,651.9 664.8,624.7 629.2,672.4 669.2,637.1 656.3,614.8 655.2,622.4 651.6,621.1 612.7,668.2 623.7,663.5 616,685.4 642.6,590 637.8,586.8 619.3,647.8 613.3,627.7 616.7,673.5 663.4,582.2 625.6,639.7 657.9,607.5 618.1,622 619.9,614.3 661.5,654.2 655.2,644.2 648.6,601.5 637.2,616.7 637.2,572 620.9,612.7 630.1,631.1 644.9,635.9 641.3,681.1 645.8,634.2 649.4,657.4 663.1,578.2 650.2,598.7 640.5,605.8 638,606.4 652.7,623.1 646.5,596.3 618.9,682.9 658,607.5 620,683.8 649.8,645.9 653.5,634.8 652.2,630.8 651.1,652.1 647.1,605.4 651.9,576.8 615.7,626.1 668,591.1 618.6,634.8 662.1,615.2 622,660.2 664.6,575.3 659.5,591.9 626,669.8 609.1,645.3 646.4,633.9 648.8,606.3 631.2,618.6 642.7,588.2 616.7,645.4 623.6,673.3 634.6,683.5 611.2,663.8 629.1,617.1 664.8,565.6 653.7,606.1 636.7,642 642.9,613.7 662.6,595.3 659.6,641.9 643.1,596.2 673.2,577.1 662.2,612.2 628.7,609.2 636.2,668.7 619.2,686.3 629.2,612.6 647.6,652.4 616.6,617.3 616.9,634 650.8,646.7 635.7,662.2 644.5,647.3 610.5,631 620.5,623 671.3,608.9 640.7,687.1 626.3,682.2 642.9,666.3 672,607 659,577.4 635.9,662.6 658.9,616.4 609.3,669.2 644.1,638.5 654.7,653 625.8,630.3 629.4,606.2 629.6,610 635.9,610.6 639.6,673.2 612.3,660.7 666.6,584.7 622,625.8 654.4,599 645.4,617.4 631.8,608.8 630.7,681 639.5,659.5 628.4,654.7 609.9,680.1 647.4,615.8 667.3,598.8 639.5,655.4 662.5,588.6 652.9,629 652.9,650.7 681.5,598.3 616.6,615.4 610.4,629.2 609.1,618.9 608.3,680.9 677.9,584.3 609.6,649.4 651.3,579.4 680.3,602.4 637.8,663.8 632,614.1 611.4,666.3 661.9,616 611.4,679.1 639.5,601.2 672.5,562.7 665.1,587 609.2,662.5 613.4,640.7 658.3,623.7 633.7,620.9 626.4,623.2 632.8,662.1 670.5,584.3 613.3,623.3 624.8,616.9 667.3,596.5 612.5,664.2 660.3,585.5 637.4,603.3 634.6,619.1 640.1,592.4 635.7,604.2 618.8,675.5 654.6,595.5 637,632.5 609.2,627.8 620.5,614.1 656.8,594.8 644.7,650.2 662.4,576.2 659.6,577.2 615.1,671.4 661.1,616.2 624.6,617.9 664.1,610 620.9,672.3 660.5,630.8 617.9,629.9 624.3,661.7 653.5,593.4 652.7,610.9 646.9,625.9 641.2,611.6 640.5,599.6 654.8,590.8 655.9,593.6 651.9,642.2 634.4,609.6 631.9,612.9 643.3,632.1 617.6,623.8 629.3,634.9 663.3,591.4 636.2,649.4 669.6,627.9 664.9,628.1 662.6,621.6 683.8,600.7 627.2,614 640,578.4 623.7,626.8 647.4,657.7 665.2,606.6 630.2,676.4 625.2,673.1 643.1,586.6 644.1,621.5 663.6,580.2 671.3,608.1 646.7,600.6 669.7,613.5 659.6,633.1 642,656.7 669.8,574.5 648.3,668.6 610.4,642.5 648.3,644.4 633.5,647 652,601.4 662.5,640.3 661.1,641.6 698.7,618.5 649.3,661 673,638.1 673.9,620.3 651.7,657.5 696.4,612.1 654.7,656.1 697.4,603.5 675.4,615.7 685.4,623.6 660.3,648 690.4,612.3 637.5,665.5 684.6,614 667.2,635 660.6,644.8 687.2,612.3 640.4,665.6 683.7,636" fill="none" stroke="none" marker-start="url(#mc1)" marker-mid="url(#mc1)" marker-end="url(#mc1)"/>
<polyline clip-path="url(#cc)" points="652.5,643 670.7,602.3 636.9,638.2 664.8,637.5 681.1,593.3 621.2,657 636.5,612.1 643.5,651.1 668.7,587.4 631,659.4 661.2,623.3 712.4,561.7 658.7,605 668.5,601 647.5,618.5 641.7,645 671,580 699.1,580.4 677.9,554.1 698.8,594.4 696,567.2 663.5,578.1 703.6,551.8 655.9,657 622,652.1 721,544.4 681.5,583 633.3,668.6 659.2,629.7 690.5,603.9 731.6,558.3 624.8,617.5 715.1,581.9 681.9,604.5 700.3,558.6 713.6,571.8 672.5,613.8 635.6,662.5 633.5,606.2 637.1,626.5 653.3,632.5 639.6,642.9 624,668.9 706.7,579.9 694.4,597.1 667.9,618.8 674.1,613.2 623.2,670 641.1,621.1 636.3,639.6 663.9,623 651.2,649.6 701.3,576.4 685.5,569.6 667.3,605.5 666.8,604.4 697.9,594.5 621.9,675 662.6,620.2 627.7,641 715,562.5 663.9,630.5 693.5,585.7 632.8,644.2 660.1,619.5 678.2,580.9 645,673.7 693.9,586.7 649.4,634 664,602.5 650.2,619.4 643.2,628.7 692.4,584.5 664.2,631.1 671.2,612.5 688.6,556.9 636.1,629.6 635.1,645.5 650.5,622.5 673.3,636.9 636.2,614 699.7,597.3 642.3,650.6 739.7,566.3 660.2,592 635.6,678.1 655.5,640.1 651.8,600 666.3,585.6 643.6,647.6 623.4,669.5 646.6,611.4 671.2,584.9 655.8,646 662.3,578.9 649,619.5 646,635.1 640.3,651.6 629.2,637.1 667.1,614.3 638,615.4 669.9,609.9 641,657.2 722.3,580.7 694.6,591.8 755.6,502.2 627.5,635.5 691,615.2 669.9,591.8 677,579.4 679,613.5 644.8,666.1 628.5,665.5 656,660.9 659.9,627.8 658,614 685.5,610.6 674.1,602.3 631.5,634.6 623.8,654.4 640.4,612.1 631.2,645.1 626.5,643 641.1,641.6 687.3,585.7 635,639.4 662.6,610.2 712.3,590.4 658.5,601.4 684.5,598.3 701.2,563.8 670.4,619.6 669.3,588.9 661.4,581.2 656,613.3 632.3,632 656.8,615.7 694.1,601 698,602.1 754.9,527.2 679.2,604.5 665.7,607.3 654,635.7 669.8,599.1 661.2,597.8 680.1,599.6 654,609.6 661.9,629.2 667.4,609 657.9,590.9 679.5,605.6 670.5,629.5 735.9,513.9 686.2,622.7 652.7,633.7 650.1,640.1 692.7,575.3 629.1,624.3 675.1,606 644.3,622.1 670,588.3 653.8,605.3 646.8,643.6 666.5,634.6 680.9,592.4 685.4,575.3 641,652.9 649.3,624.2 632.1,618.2 688.8,576.1 648.2,622.4 664.8,594.1 666,578.3 692.1,615.2 715.9,548.3 637.2,610.2 681.8,630.6 675.5,596.5 668.9,613.2 640,619.8 680,591.2 666.8,578.8 650.9,609.6 680.4,570.6 638.1,637.3 651.3,598.2 690,615.3 624.7,646 685.4,581.6 673.3,591.5 671.1,626.3 666.9,586.8 650.7,597.9 688.4,600.3 654.8,627.5 650.9,628.3 700.9,573.5 627.3,663.1 643.6,631.1 631.5,624.8 747.3,588 630.5,663.6 681.9,570.5 624.2,648.1 632,639.6 685.1,586.7 658.5,639.9 664.4,616.1 625,651.4 679.7,623 701.7,588.2 711.6,588.9 663,590.8 697.1,581.1 663.5,640.4 658.7,617 624.8,636.3 663.2,627.3 657.4,623.1 683.2,580.2 683.4,591.8 631,646.1 732.3,561.2 728.2,547.5 626.9,660.3 667.4,623.6 711.2,563.1 679,610.5 674.8,611 700,585.2 694.1,564.1 640.8,648.2 635.4,630.3 733.4,532.2 674.6,601.1 704.6,563.4 646.2,621.6 639.6,622.1 661.5,631.2 682.2,608.3 650.3,616.4 696.2,601.8 677.5,616.3 679.1,603.4 712.1,548.9 683.8,562.5 647.5,609.6 674,599 675.2,600.2 644.3,615.5 669.6,613.9 655.8,632.7 637.4,620.3 623.3,658.2 648.6,600.9 638.6,622.2 641.8,627.6 650,632.4 647.7,626.4 691.2,587.1 668.5,610.4 655,623.9 634.3,664.1 676.7,583.6 694.8,600.1 654,603.7 672.6,586.1 630.5,638.2 627,629.6 640.5,647.6 672.8,592 665,608.7 695.6,593.2 639.8,635.1 627,674.5 642.7,611.1 662.1,599.9 666.3,612 692.8,589.2 658,618.6 709.8,561 682.4,616.4 632.1,637.5 672.5,612.9 630.2,676.5 646.5,635.8 632.1,660.6 672.9,575.8 666.4,597.3 664.9,604.2 678.8,595.5 623.9,647.7 652.7,611 659,649.5 626,663.1 628.8,651.8 624.8,664.9 691.1,591 676,573.6 689.9,602.4 678.2,582.3 662.9,628.1 666.4,623.5 620.4,617.8 697.2,585.7 650.8,644.4 670.3,564.9 684.8,602.4 645.5,633.3 647.5,653.9 626.2,634.2 636.7,641.1 647.1,620 657.2,598.4 653,620.2 654.9,629.8 678.3,594.6 621,649.1 691.6,583.1 650.9,622.1 713.7,580.9 675.3,610 687.7,577.6 693.3,552.3 673.4,619.4 700.6,591 684,605.6 651.4,630 635.2,652.1 639.9,641.3 678.5,589.7 668.1,605.4 637.6,639.9 687.9,594.4 725.3,600.8 682.2,572.3 643.2,591.8 667.2,601.3 698.3,553 687.8,606 661.9,613.7 714,555.7 662.3,614.2 692,560.2 623.3,638.9 660.1,668.4 673.3,615.8 689.2,586.1 684.8,613.1 689.7,570.7 636.3,648 627.8,649.9 663.8,595.8 667.1,593.8 645.6,625.2 665.4,640.2 666.3,599.6 678.3,600 636.1,655.4 699.7,574.3 678.4,594.3 647.3,635.5 717.6,544.6 701.9,554.7 690.9,598.9 631.1,637.4 693.4,588.1 659.5,607.2 669.2,595.8 655.4,601.4 730.7,525.5 688.8,565 639.4,632.8 671.7,570.3 675.6,625 658.8,664.1 688.6,596.4 700.1,576.7 684.6,645.1 633.7,640.2 678.8,586.6 641.1,635 636.4,653.3 693.4,582.5 645.4,630.3 657.4,614.6 705.2,575.3 633.4,627.4 663.6,599 649.3,620.9 671.9,594 691.5,607.8 648.3,615.2 674.1,583.6 711.6,572.8 631.5,642.8 661.8,589.7 645,627.5 697.9,586.9 683,578.8 670.4,596.3 654.2,620.6 634.8,647.8 621.1,669.5 681.7,549.5 671.9,574.5 745.3,516.4 709.9,538.3 671.4,621.6 660.5,612.5 709.5,545.9 741.3,520 661.7,624.2 681.4,607.2 671.9,621.3 688.7,567.7 665,605.9 645.7,650.5 619.7,648.4 680.3,584.3 645.7,622.5 694.1,565.4 660.6,609.9 694.1,579.2 658.7,620 669.8,608.1 671.8,605.5 650.3,635.4 621,670.8 679.8,615.9 677.9,595.4 670,616.4 667.7,571.9 658.7,603.4 652,655.3 668.6,602.5 667.1,612.2 658.6,662.4 654.8,604.5 651.9,613 633.7,657.2 684,577.4 656.6,619.3 679,601.1 654.1,595.5 714.2,568.5 661.8,633.8 636.8,622.9 639,669.8 676.7,562.4 677.3,574.8 660.4,614.3 638.4,662.1 650.5,643.3 687.8,562.6 685.6,580.1 644,643.9 676.4,614.7 648.4,637.2 672.3,584.3 677.9,618.3 684.9,598.7 686.4,566.4 629.9,629.8 646.3,607 708,572.4 631,655.3 701.8,595.1 679.2,556.9 686.8,582 678.5,562.6 695.2,604.9 640.3,624.6 665.7,592.9 652.5,619.9 662.2,606 665.1,632.6 672.7,600.1 645.3,652.3 667.3,617.1 697.3,556.5 692.9,598.6 657.7,611.2 665.7,610.6 721.4,575.8 695.5,590.1 710.1,562.7 641.6,630.3 645,601.9 696.2,575.7 647,633.2 673.5,615.1 705.9,551.8 631.1,666.5 625.2,660.8 661.8,622.1 692.5,601.6 647.4,599.7 637.9,623.3 653.7,641.6 727.5,529.7 680.7,606.8 649.4,592.4 702,601.8 646.7,629.1 681.2,628.6 649.7,605.4 682.4,602.5 682.2,597.8 639,651.7 630.9,671.4 702.7,568.5 690.7,562.2 632.2,654.4 683.7,614.7 705.4,546.5 657,625.4 704.8,548.1 636.6,659.5 656.2,629.9 684.3,611.7 714.3,576.6 696.4,580.1 716.6,600.9 634.3,636.5 648.5,616.8 624.1,664.1 653.1,592.6 659.1,628.9 651.5,652.8 627.2,645.3 715.2,565.5 639.1,625.9 660.7,595.4 621,645.9 690.2,577.6 688.5,579.4 692.6,574.1 695.6,578.8 685.7,577.4 699.4,610.2 728,567.8 638.3,609.3 646.4,645.2 698.4,574.9 693,610.9 637.2,629 676.1,627.5 669.4,604.3 668,641.7 684.1,588.5 684.7,571.6 708.7,589.8 628.1,646.1 712.1,580 747.5,536.1 620.3,657.9 663.1,634.8 674,623.6 671.3,593.7 666.9,621.5 662.7,600.4 663.3,617.3 699.9,551.9 659.3,634.5 695.9,587.5 695.9,547.2 668,590.9 657.9,623.1 681.2,586.4 648.4,634.6 687.2,614.4 694.4,616.8 627.8,642.8 689.8,582.5 667.4,596.1 628.4,654.2 664.6,612.2 667.1,581.2 689.6,608.9 630,640.7 649.4,652.9 762.9,471.7 675.4,590.9 626.3,667 652.5,658.5 687,579.1 658.8,626.1 664.7,610.2 625.4,659.4 643.9,623.3 637,671 650.6,636.4 668.7,616.7 694.5,570 640.4,628.1 661.7,617.3 653.2,630.5 704.2,567.7 662.8,643.4 686.6,596.2 666.6,657.5 622.2,643.4 663.8,604.7 646.1,651.4 663.9,645.7 704.4,554.9 690.9,589.9 694.8,590.5 666.1,583.6 662.8,586.6 648.8,633.9 673.9,578.6 706.5,575.8 657.1,604.7 690.2,600.7 626.3,618.1 677.5,631.9 711,582 647.5,614.1 729,555.6 635.7,617.1 660,643.8 707.4,602.7 627.8,667.3 624.1,667.6 665.8,645.8 698.2,577.3 683.4,595.3 687.6,607.1 643.8,661.5 673.9,586.3 692.2,579.6 656.7,650.8 701.1,588.1 673.9,608.4 629.8,659.2 656.3,612.6 641.7,663.2 632.6,652.6 647.5,655.5 622.1,621.8 646.8,674.5 703.7,583.1 687.9,595.7 675.7,612.5 711.1,568.2 731.5,542 664.3,614.2 710.7,557.7 654.6,597.4 645.4,659 694.5,593.8 707.5,562.3 661.6,582 708.7,560.5 656.1,607.9 718.2,576.3 719.5,569.5 650.4,657.5 644.6,631.8 626.4,656 664.1,624.3 662.8,627.2 737.7,558.3 677.2,590.1 648.1,605.1 628.3,656.6 628.3,673.9 695.9,571.9 632.3,620.5 620.2,653.7 701.8,554 657.5,605.5 661.6,615.8 619.7,665.3 631.2,627.3 667.1,624.4 688.7,624.3 694.9,545.7 655.9,631.8 638.6,634 654.8,606.7 662,636 660.5,607.7 701.8,618.1 638,664.4 640.9,645.9 654.7,619.4 707.4,554.6 624.1,633.5 654.6,609.7 635,608.9 659.1,609.8 709.3,577.6 657.3,645.6 660.9,629.2 675.2,629.7 627.6,633.5 658.1,621.7 702.2,579.9 655.3,614.7 637,650 696.7,583.4 705.5,552 661.3,604.7 677.9,622.2 673.2,607.1 682.4,587.9 657.4,626.4 665.1,589.2 676.4,561.4 695.6,539.6 686.1,551.7 641.5,625.3 631,611.8 709.8,570.2 646.1,649.3 738,528.3 630.4,645.8 684,567 648.1,649.7 688.6,568 684.5,574.3 664.6,628.5 644.2,634.9 635.6,613.9 623.9,647.3 641.5,640.6 650.8,629.8 696.5,604.4 644,666.5 677.5,596.8 682.1,547.7 630.2,642.8 633.7,638.9 670.4,575.8 638.6,619.8 700.1,570.5 648.8,628.2 665.7,597.6 623.7,675 680.9,575.5 684.4,580.7 701.2,568.6 718.4,551.3 696,573.2 706.6,566.5 646.3,642.2 651.6,628.1 670.2,574.4 683.2,583.2 655.2,601.9 633.8,633.9 619.7,650.5 644.6,667.6 675.1,618.9 714.6,555.3 675.9,568.9 638.3,613.7 635.3,602.5 652.1,616.4 642.3,634 652.6,622.5 635.5,654.1 623.6,649.3 630.6,653.4 710.7,560.9 660.5,602.4 640.1,600.8 658.3,632.4 626,656.8 683,610.8 679.2,571.4 626.2,679.3 652.3,607.4 696.5,582 628,662.7 662.3,602.3 711.1,535.6 652.1,620.7 743.4,528.4 675.5,607.1 649.9,607.9 728,543 647.2,646.7 621,635.7 654.6,665.7 704.2,557 665.7,625.8 643.9,604.2 678.8,624.6 625.9,659.3 646.7,615.9 700,546.8 659.2,597.3 632.5,634.6 623.3,642.7 624.5,653.3 688.2,602 638.8,645.1 630.6,649.4 672.5,624.9 682,599.7 669.8,615.4 639.4,655.2 631.8,650.5 638.3,638.5 697.6,581.7 659.6,636.9 673.3,604.4 620.8,653.1 653.1,607.5 650.6,617.7 694.6,577.1 630.7,670.4 705.1,582.5 713.2,577.3 653.3,616.4 638.8,647.3 651.9,638.4 676.8,614.5 657.3,639.3 657,617.2 651.4,639.6 676.7,599.2 639,632.2 701.9,598.8 635.9,646.5 699.3,538 699,590.8 638.1,617.2 659.4,642.2 652.4,608.8 666.7,599.2 668.9,641.1 712.2,577.5 655.5,656.2 673.1,634.6 685.7,600 673.2,587.1 663.5,633.4 681.1,634.9 685.3,613.6 721.1,564.9 620.8,665.7 675.9,588.5 700.8,567 732.9,528.3 748.7,506.3 693.3,602.1 668.8,598.1 705.4,561.5 687.1,598 643.1,617.6 643.4,597.1 670.1,583.2 655.8,626.9 636.6,668.9 684.4,586.7 725.6,551.7 641,611.6 680.3,603.8 725.1,529.1 634.6,634.8 695.6,566.1 691.8,571.6 703.1,589.4 634.1,667 639.6,592.1 706.1,555.7 675.1,603.7 629.8,601.7 626.6,653.4 650.1,638.4 682,614.2 713,563.3 678.4,621.7 651.5,637 652.1,625 668.3,637.8 669,626.8 691.4,602.1 686.5,594.8 716.3,561.4 641.9,655.2 659.6,594.7 621.2,659.4 672.7,609.1 700.2,615.6 673.6,596.8 640.4,617.5 622.9,664.7 629.3,615.5 701.1,586.3 682.3,591.4 712.9,594.8 669.4,607.4 677.5,612.5 677.1,593.3 700,567.5 635,654.8 670.4,618.1 680.8,600.4 623.1,661.6 746.1,531.1 651.8,626.9 685.2,637.9 657.6,646.6 637.5,644.3 684.3,603.6 630.9,640.9 643,670.6 676,603.4 683.1,595.4 691,569.7 649.4,641.5 677.9,602.6 715.6,548.3 706.5,595.1 689.8,599.3 664.7,631.7 640.9,657.7 644.1,651.1 668.8,609.9 673.2,599.8 632.2,627 707.1,597.7 711.5,531.2 633.8,641.8 666.1,576.8 680.3,573.1 652.9,624.2 650.1,641.9 689.2,576.4 642.3,670.2 678.5,585.5 691.4,565.1 692.2,592.5 672.8,610.5 676.6,589.5 653.2,593.8 667.7,602.2 656.5,652.5 652.5,634.9 659.8,618.3 634,621.7 678.8,614.9 668.6,636.1 672.3,565.7 727.4,561.6 686,561.3 657.4,588.7 692.7,620 653.4,651.5 664.9,619 637.6,650 661.5,638.4 626.9,649.5 716.4,550 681.5,610.1 749.3,526.2 718.7,555.9 657,595.2 640.5,622.9 703.4,592.2 673,618.1 656.9,641.4 660.1,589.2 636.1,651.2 640.3,660.7 653.1,585.3 680.5,551.9 706.4,558.4 635.7,660.8 678.1,585.2 662.2,596.8 706.5,569.9 677,600.2 683.5,570.7 638,643.5 644.8,613.8 653.2,581.9 711.9,551.8 657,628.4 706.6,556.5 697.1,583.4 709.1,552.8 656.7,582.7 648.2,657.5 656.7,630.9 690.3,575.8 623.3,666.6 642,616.5 661.2,626.3 644.1,602.7 644.7,660 634.5,642.4 669.2,622.1 686.4,626.1 647.8,629.9 736.1,518.1 649.8,593.3 645.5,655 628.4,644.6 665.7,618.3 688.4,592.8 641.6,622.7 674.7,595.6 642.5,642.6 703,585.2 686.2,601.4 638.4,656.6 636.7,633.8 715.7,560.4 630.8,651.6 672.3,596.6 730.3,543 647.8,648.9 683,605.5 715.5,538.7 632.2,661.9 628,669.7 620,657.6 704,558.8 666.5,640 699.5,581.9 702.9,565.2 644.4,642.7 638.4,635.4 633.2,630.5 700.2,584.5 682.5,601.3 642.6,608.2 648.9,653.4 620,662.3 646.5,612.3 669,593 642.3,660 694.5,536.6 642.5,637.5 732.1,538.5 712.9,569.3 654.7,599.9 707,579.7 728.4,545.3 660.5,645.6 656.4,636.1 650.3,663.6 678.9,643.7 729.3,552.1 705.9,548.9 654.9,636.1 653.8,663.3 661.9,611.7 695.5,600.8 670.3,610.5 732.3,546 664.1,588.8 689.6,592.7 635.2,627.8 647.7,658.5 724.1,546.2 636.9,617.9 621.8,655.6 678.8,592.7 625.5,657.9 693.6,576 619.7,655.7 659.3,577.5 663.2,582.5 691,567.9 726.6,573.5 619.7,635.2 621.7,650.9 654.7,623.2 667.1,566.7 757.8,511.5 653,647 655,664.6 673.3,646.7 631.7,664 692,590 672.8,630.7 641.6,605.3 703.1,618.7 679.8,573.2 645.5,609.3 721.4,568.1 693.2,563.4 725.9,591.5 633,636.3 658.5,636.9 679.6,551.6 699.8,552.9 667.6,592.2 648.5,644.2 699.4,565.1 677.3,639.3 713.9,565.8 688.8,597.9 663.8,573.8 672.9,577.1 620,626.7 628,636.8 657.3,580.8 642.8,624 645,617.7 731.9,548.2 649.3,609 708.7,584.2 676.4,598.5 693.3,594.8 630.5,673.2 678.1,568.5 645.1,637.7 657.9,575.8 726.6,540.7 630.7,613.7 716,545 641.2,646.6 625.7,675.1 721.3,589.4 710.4,557.3 650.7,615 703.1,595.5 671.4,604.3 668.6,591 639.6,629.9 671.9,598.2 639.4,676.6 734.1,512.8 664.9,630.4 664.1,598 681,615.8 653.2,580.4 634.4,675.2 723.2,538.9 701.5,592.3 646.9,659.1 657,583.3 675.5,633.6 693.9,574.4 659,625.4 708.4,573.9 705.7,582.5 673.7,574.7 657,620.7 760.4,510 643,633 638.6,665.9 741.2,562.1 653.9,656.1 674.3,631.1 718.9,547.2 692.4,559 640,653.7 678.7,578.4 676.7,605.5 648.7,647.4 681.4,586.5 697.2,628.1 623.5,636.6 634.1,670.9 645.5,619.1 674.3,627.3 720.4,577 674.2,624.5 693,580.7 692.5,569.1 667.6,611.6 653,637.7 668.2,639.9 653.9,601.7 644.3,611.2 673,623.7 679.7,580.1 729.8,540 705.4,583.6 670.9,561.7 664.5,641.2 707.7,606.1 691.6,574.3 705.7,527.8 706.8,559.5 734.6,567 696.9,553.4 715.8,579.7 675.1,636.8 668.2,633.2 641.1,626.8 664.9,653.4 699.9,531.4 634.4,625.7 697.5,573 652.7,603.9 699.6,554.9 670.5,599.8 743,543.3 687.6,589.4 628.1,672.6 622,677.3 665.6,601.1 653.4,643.6 713.6,539.2 663.7,638.5 725.1,577.9 629.1,668.3 697.7,570.2 675,610.9 635.9,608.2 666.1,628.7 705,573.7 697.8,527.1 644,661.2 678,618.8 628.1,647.9 637.3,601.8 654.2,636.9 688.8,588.7 695.9,554.5 697.4,560.5 699.7,618.5 672.5,604.8 652.3,648 643.7,619.2 631.2,665.5 721.6,581.9 635.4,638.9 648.5,645.8 676.3,592.4 732.2,576 715.4,557 713.5,571.1 685,590.6 630.6,635.2 707.9,571.1 684.3,630.9 720,549.8 643.1,648.5 665.3,603.2 660.7,621.4 632.4,630.8 649.2,638.7 638.9,648.5 657.9,631 710.1,580.7 641.7,608.7 675.4,587.2 688.9,604.8 670.4,597.1 674.7,593.5 715,537.1 669.7,594.7 703,575.9 697.4,610.1 666.7,653.9 663.3,621.5 630.6,620.7 693.1,606.7 632.1,622.2 686.4,615.8 723.2,522.5 687.5,616.2 623.8,633.7 715.5,553.9 659.1,611.3 647.2,624 684.9,601.6 722.9,543.9 645.8,606.6 674.5,576.6 737.8,532.9 650.3,582.9 663.6,584.5 695.6,595.2 660.6,624.9 700.3,568.1 656.2,648.2 687.3,598.7 640.5,640.3 631.1,657.5 688.1,625.4 676,594.6 655.9,634.5 689.4,616.6 654.3,628.1 691.3,581.2 707.8,580.1 673.3,589 697.2,629 666.6,651 665.5,621.8 681.8,592.7 659.8,578.9 635.3,632.4 621.9,663.5 676.5,582.6 727.3,566.8 704.4,560.6 674.1,606.1 686.6,628.7 645.4,608 670.8,644.6 672.6,589.7 701.3,578.2 687.3,566.7 630.2,627.5 630.3,677.4 620.2,636.7 624,638 650.4,624.5 624.1,623.4 654.8,621.3 686.4,603.5 698.6,569.4 715,589.9 652,617.7 686.9,583.7 625.8,630.8 692.8,597.4 654.9,616.6 670.6,631.3 719.5,554.3 653.2,630.7 687.8,586.8 668.8,617.2 694.8,595.2 639.1,669.7 718.4,560.6 708.7,542.7 655.2,590.5 621.3,618.9 644.7,616.5 638.2,642.3 630.6,651 679,583.1 685.2,571.8 672.6,644.1 693.6,624.3 635.3,625 660.4,605.9 656.4,608.2 706.6,535.5 656.3,602 660.3,585.2 685.5,605.5 648.2,670.9 632.5,618.5 625.9,670.8 695.3,576.9 701.6,551.5 651.7,652.1 676.1,579.1 697,591.8 639.6,638.3 634.4,666 699.4,599.7 635.4,616 687.2,622.8 655.1,617.6 673.2,580.9 680.8,596.5 723.1,548.4 681.1,625.1 717,551.7 740.6,530 629,642.1 663.9,611.5 669.2,585.1 670.8,571.6 721.9,566.2 683.5,553.6 703.7,543.3 639.7,657.9 624.5,642.1 685.7,597.5 681.5,579.7 693.3,595.7 670.9,606.4 658.8,645.2 684.6,594.9 669.8,635.8 715,571.7 700.1,604 665.7,646.9 670.5,622.5 622.6,641.8 724.4,545.4 651,627.2 724.3,574.4 648.4,606.6 662.7,607.8 638.9,608.4 723.4,565.6 666,591.6 661.1,631.8 640.4,678.4 743,547.1 627.2,647.3 624.2,620 671.9,603.1 643.7,645.6 642.9,656 684.4,582.2 648.7,596.1 689.3,581.3 631,622.9 726,551.8 653.8,618.7 666.8,620.1 699.6,589.5 655,642.3 730.1,556.4 643.4,638.7 647.5,623.7 622.7,654.6 628.1,638.2 699,592 661.5,585.7 670.9,591.2 691.7,592.4 684.4,578.5 740.5,525 721.1,554.9 728.2,549.3 623.9,670.9 657.5,657.4 662.2,592.3 629,630 666.6,637.5 679.7,609.8 702.5,573.9 663.3,584.8 656.7,634.6 725.6,562.5 697.6,588.4 711.9,540.8 717.9,568.6 669.4,645.8 682.2,620.6 641.6,618.8 701.9,576.2 676.5,642.7 660.3,641.8 661.3,653.5 735.5,523.6 640,666.1 739.4,529.5 629.4,619.7 637.9,655.1 629.2,646.8 643.4,614 730.7,579.9 687.7,567.9 636.3,644.2 703.6,606.8 739.6,517.1 687.5,609.5 675.6,585.4 626.2,622.3 698.6,606.4 691.4,596.4 704.9,578.7 627.6,628.3 644.6,597.3 666.9,629.9 686.7,544.4 710.7,573.3 654.5,648.7 640.3,649.7 725.9,544.4 639.8,602.7 681.6,576.4 684.9,584.6 650.2,648 653.6,668.2 644.5,641.8 686.3,589.7 689.8,607.7 664,590.3 677.8,557 685.9,629 693.7,622.3 713.4,579.4 707.7,567.2 621.8,672.7 665.9,614.2 697.6,544.8 631.5,648.1 719,556.6 671.3,651.4 708.2,553.8 713.8,549.1 641.3,635.8 730.7,574.6 741.7,552.7 697.6,598.1 696.3,608.1 722,526.8 693.5,565.5 647.6,627.8 630.8,633 656.2,643.9 697.5,598.9 696.9,557.4 679.8,569.8 659.5,592.8 623.1,615.9 684.4,585.4 678.5,607.7 663.7,636 661,600.3 628.4,659.7 653,614.7 701.1,593.8 747,538.2 681.7,621.3 704.7,602.7 659,613.4 671.5,590.5 641.2,631.8 679.4,577.1 646.4,640.7 671.3,625.4 732.4,525.3 679.8,625.8 749.5,536.7 653.9,610.3 621.4,666.9 701.2,566 756.5,499 622.9,664.6 743.5,531.7 659.7,591.5 633.7,625.1 670.1,600.4 682.2,594.1 719.8,526.5 639.5,636.4 667.3,631.7 656,582.2 697.1,595.3 660,639.7 666.8,645.8 702.5,571.2 722.3,543.1 662.1,604.7 686.7,592.7 700.9,580.2 733.1,553.5 685.9,608.6 684.2,635.5 622.8,649.9 641.4,618.1 638.3,629 712.7,573.1 634.3,646.8 633.2,666.3 653.4,650.8 696.2,568 697.6,590.9 625.2,608.4 686.5,625.1 714.4,566.9 657.6,609.5 620.9,605.2 685.7,589.9 652.5,596 666.1,624.4 707.6,585.4 644.2,601.6 686.7,579 674.7,618.3 632.5,653.7 691.5,601.7 664.1,619.7 650.1,595.6 751.6,541.5 649.7,651.5 666.8,582.7 742.2,545.6 620.3,627.7 664,653 645.9,661.4 643.8,613.6 682.6,608.9 668.4,577.6 678.4,582.7 746.1,541.7 693.6,604.6 662.2,649.5 677.2,548.8 725.3,556.7 675,621 632.9,650.1 694.7,580.9 696.4,598.6 655.8,649.2 641.7,652.7 686.6,607 668,643.5 622.4,661.1 686,584.2 703.1,550.7 637,630.7 723.9,572.3 628.9,658.4 660.9,655.5 652.3,603.5 694.8,552.5 714.5,600.2 706,562.7 635.4,657.1 691.6,567.6 701.6,557.9 728.7,571.6 670.8,581.9 774.5,480.6 626.7,621.4 699.1,602 665.9,596.4 658.2,638.3 627.5,655.9 680.4,614.8 697.6,572.4 731,559.6 624.5,640.7 663.6,592.2 738.2,540.6 655.2,637.7 702,548.1 650.3,649.5 635.2,669.9 664.2,593.6 714.2,558.4 707.3,549.1 702.6,602.7 655.5,651 748.4,553.5 663.8,607.6 656,596 661,616.1 706,571.9 663.9,601.1 709.8,601.2 697.4,562.7 715,581.4 704.5,601.5 681.4,590.4 720.6,571.4 691.9,552.6 696.2,564 649.6,660.1 738.1,554.1 677.8,643.6 685.4,619.9 706.3,577.3 721.1,559 620.9,639.6 646.4,632 707.4,546.6 717.2,573.3 685.4,548.4 696.5,616.5 668.4,631.4 654.3,599.4 722.8,532.1 691.7,585.9 675.8,625.7 751.2,530.3 708.9,566.8 700.5,603.4 725.5,542.4 702.9,553.8 674.5,570 633.1,664.2 736.7,534.7 659,654.2 723.5,519.7 672.9,616.4 722.7,553.1 648.3,639.5 656.5,638.5 678.7,636.2 665.2,580.3 691.1,560.7 697.6,566.8 663.6,652 690.9,584.1 624.5,643.1 643,630.7 656,669.7 739.1,509.6 670.4,571.1 666.3,642.8 702.8,556.9 621.8,642.5 631,669.4 646.7,665.6 680.7,589.6 649.8,612 725.4,564.7 622.5,645.5 634.9,608.4 662.9,594.7 634.3,620.9 677.4,638 638.5,678.2 695.5,594.2 626.7,642.2 731.2,569.1 687.7,590.4 672.9,632.5 719.6,541.5 638,660.1 682,582.2 676.1,615.9 638.2,605.7 625,677.1 648.3,631.5 715.7,539.1 707.8,552.4 633.4,673.3 704.6,595.7 661.5,646.6 701.7,560.1 724.9,560 690.1,613.2 684.9,607 626.6,652.1 684.9,563.2 698.7,564.3 710.9,537.9 682.2,613.5 687,571.5 676.6,573.6 664.6,571.2 716.5,572.5 676.9,565.4 627.2,672.8 668.9,642.8 627.1,628.9 653.9,584.4 654,603.3 672.1,619.7 646.1,668.9 655.5,611.9 674.7,609.7 651,601.4 673.5,627.9 655,644.5 642.4,662.1 640.5,625.9 629,626.7 691.3,532.4 630.6,633.3 628.1,670.6 640.4,594.8 712.9,560.2 634.4,650.6 666.3,616.6 692.9,572 650,599.7 626.5,648 690.1,587 662.3,651.8 632.8,660.9 677.9,578 654.3,612.2 636.4,635.3 725.1,579.8 680.5,622.7 670.4,636 722.3,561.5 723.7,536.7 706.3,545.6 687.6,557 625.2,650.2 632.9,666.5 661.9,635 678.2,603.8 738.9,533.5 651.9,593.6 719.5,553.9 655.3,642.8 637,664.4 733.7,577.7 706.4,553.7 705.1,565.5 696.2,570.5 699.9,596.4 638.1,653.1 670.3,635 647.8,660.1 645.8,648.4 691.9,617 676.8,610.4 711.8,579 684,557.1 652.6,660.4 653.8,573.8 649.3,627.3 659.4,583.8 682.5,589 667.1,607.8 698.7,608.1 655.6,588.5 702.7,600 674.1,620.9 668.3,628.4 649.4,588.8 620.2,660.9 691.7,594.5 662.4,654.7 629.2,656 723.4,589.2 679.1,597.3 644.4,646.7 667.6,625.7 678.7,575.4 680.1,612.8 734.7,487.2 637,656.5 700,601.2 628.3,631.7 678.5,638.7 722.1,560.4 671.8,583.1 720.5,558 668.6,620.5 644,639.7 683.4,630.5 671,576.4 687.1,604.6 687.5,611.9 635.9,625 648.9,667.9 628.6,675 684.2,609 667.3,637.4 659.3,654.8 636.3,666.7 675.1,645.2 703,578.2 633.4,649.3 639.1,601.8 650.7,592.1 680.2,597.4 666.2,634.9 638.9,615 693.5,610.2 728.3,541.6 709.9,584.8 642.4,607.1 700.3,578.3 730.2,520.2 631,630.3 649.8,646.7 644.4,612.5 704,570.4 671,638.4 693.5,555.5 657.5,586.2 689,591 705.7,591.7 640.7,631.4 698.2,565.3 622.7,651.5 719.3,585.6 704.2,608.9 668,570 700.1,586.8 714.6,546 682.5,586.4 722.8,573.8" fill="none" stroke="none" marker-start="url(#mc2)" marker-mid="url(#mc2)" marker-end="url(#mc2)"/>
<polyline clip-path="url(#cc)" points="702.4,611.2 676.5,555.9 660.6,612.8 681.1,579.4 713.7,558.1 691.3,578.3 715.7,565.4 678,572 675.5,586.1 648.5,640.8 665.6,589.3 681.7,591.7 701.7,551.8 684.4,564.3 665.7,614.1 701.4,572.3 684.3,586.4 722.8,554.2 714,557.1 720.4,541.6 674.7,612.4 669.5,618.6 674.1,576 703.8,546.3 673.2,604.3 704.3,568.3 716.2,550.6 677,583.7 694,537.9 733.8,532.4 708.1,559.8 689.4,575 689.2,566 680.7,562.3 682.4,605.3 656.7,586.7 684.7,576.3 680.3,617.6 707.1,540.8 696.2,565.8 697.5,547.1 731.8,530.3 716.5,557.2 686.1,571 693.4,557.6 694.6,605.8 694.1,591.4 714.4,567.8 706.4,545.4 711.3,589 705.2,611.8 670,628.5 673.1,600.6 684.4,565.4 661.7,625.7 736,552.5 711.4,570 676.3,588.7 655.2,603.9 699.6,548.2 689.1,567.2 721.4,561.7 676.6,576.4 696.7,592.9 712.9,546.2 694.3,556.6 697.5,570.9 686,607.8 715.6,542.1 693.4,598 693.6,575.1 692.4,578.2 708.8,568.1 702.8,572.7 701.8,535.7 701.6,577.6 694.9,581.6 667.9,594.4 685.5,587 680.5,597 695.9,554.5 696.9,558.7 700.5,583 686.8,555.8 686.8,573.2 636.1,628 671.5,572 661.9,577.8 670,604.2 656.6,632.3 711.3,547.7 700.8,559 697.1,594.4 683.9,577 714.4,547.7 670.3,597.3 647.4,612.7 678.7,574 707.1,553.7 683.7,560.4 656.5,577.7 677.2,618.1 686.9,581.7 681.5,573.5 662.7,614.2 698,579.4 708.8,603 652.5,609.2 649.6,599.1 719.3,528.5 658.9,609 688.3,577.7 645,620.7 654.9,647.3 676.4,590.6 711.7,540.9 668.9,593.1 673.7,586.8 678.6,585.4 673.9,600.8 659.7,610.4 692.3,542.6 722.9,535.5 693.4,560.4 715.9,555.3 684.7,567.4 694.5,567.7 698.5,580.8 705.8,583.5 701.2,537.5 698,563.1 678.2,597.5 691.6,588.3 703.8,531.7 663.6,598.4 695.8,576.6 667.2,601.7 717.3,534 666.1,583.1 671,575.2 690.7,566.1 703.1,541.6 687.3,565.4 702.7,561 724.5,527.5 723.6,518 711.9,565.9 722.5,549.4 695,571.1 665.5,591.5 710.1,543.5 683.9,590.6 680.3,590.6 681.9,585.9 689.9,556.7 665.5,605.1 686.3,584.4 689.5,593.5 682.9,590.9 720.7,548.4 722.7,557.3 680,583.8 683,543.2 711.1,534.7 673.7,585.5 682.3,569.2 703.2,552.5 676.3,595.7 674.4,593.5 664.8,574.1 674.7,569.4 669.5,580.4 685.4,568.8 716.3,558.4 659.3,577 709,562.6 705,583.6 708.9,535.4 669.3,568.9 719,527.9 724.4,516.8 718.3,533.4 651.4,631.6 680.3,603.5 701.8,563.7 718.6,545.9 709.9,540.7 682,559.1 721.6,526.9 687.1,575.9 704.8,602.3 685.2,576.2 661.4,609.3 684.5,608.5 676.7,589.7 677.8,567.2 683.2,577.1 710.5,578.5 700.9,550.1 708.6,545.6 659,599.2 688.4,568.2 699.9,552.6 702.1,578.1 700,569.8 703.5,575.2 703,549.2 680.4,560.4 683.3,559.6 690,572 691.7,581.1 668.2,593.8 664.1,612 691.4,585.2 669.3,579.5 665.9,618.4 668.3,608.5 680.3,592.4 678.3,575.2 694.5,564.8 702.1,573.9 696.7,591.5 715.1,568.4 667,583.7 689.1,573.6 698.1,549.5 712.9,536 671.3,588.9 705,565.9 686.1,611.6 740.5,521.3 694.3,548.2 643,625.8 680.6,621.6 713.2,542.9 669.4,570.4 705.9,585 663.7,615.9 717.5,545.5 683.2,598.9 696,599.2 687.2,557.8 674.9,595 686.3,593.1 687.8,596 713.8,573.7 739.2,574.5 699.1,564.8 690.2,583.5 672.5,611.5 666.6,604.1 668.6,598.6 684.5,602.4 671.3,584.1 721.3,525 690.1,582 710,583.3 711.4,537.5 664.8,609.7 685.5,546.1 682.2,571.4 676.1,588 706.8,533.1 674.3,625.9 711.8,573.3 676.9,600.9 666.4,598.1 694,579 664.1,615 672.2,586 670.7,590.8 661.3,615.7 677.6,568.6 663.3,619 704,605.6 680.9,607.1 653.7,587.4 662.4,605.2 685.1,593.6 688.5,588.1 718.5,537 667.4,608.4 693.3,565.8 649.2,617 642.4,605.7 662.2,589.3 676,582.1 690.5,571.7 692.3,575.9 708.9,524.5 703.5,545.7 687.5,562.7 708.5,555.8 735.3,536.4 712,556.6 712.5,561.1 668.5,612.1 660.4,605.4 673.9,583.8 710.4,547.2 665.9,638.4 678.9,599.8 676.2,599.5 690.7,559.7 678.3,588 718.2,526.1 676.1,607.2 677,592 679.3,561 691.5,576.2 681.9,582.9 665.5,628.3 684,588.1 695.1,569.2 724.4,552.1 684.4,599.2 683.9,610.6 671.9,609 691.3,591.3 704.9,582.2 676.2,601.6 717.8,542.5 702.9,539.9 708.5,536.4 696.5,580.3 696.2,569.6 663.7,585.3 686.5,603.8 740,528.4 699.5,561.7 682,561.5 716.3,545.2 698.6,565.5 720.8,516.5 675.6,624.4 686.6,564.7 726.3,552.4 653.7,622.5 714.3,536.8 710.8,572.3 663.9,606.5 704.5,573.4 677,587 673.3,577.6 677,599.2 730.7,570.7 653.8,628.4 666.5,593.1 747.2,526.5 719.1,538.6 690.6,556.5 663.4,594.1 671.2,574.4 707,564.3 671.2,583 687.1,567.4 672.4,608.6 698.1,568.6 678.5,588.6 678.4,594.3 688.9,580.7 691,569.9 646.8,568 661.3,560.7 671.4,614.1 700.3,549.3 715.7,550.7 654.1,600 679.2,596.3 720.9,500 676.2,572.6 709,572.6 687.8,564.3 719.2,536 660.6,593.4 713.7,550 699.1,534.3 692.7,570.7 642.5,628.5 722.9,552.5 688.6,584.3 674,599.3 683.9,556.2 704,545.1 636,647.5 712,554.2 747.2,505.7 714.6,500.4 706,561.2 669,596.8 691.7,582.4 710.8,544.7 718.7,541.7 661.1,621.7 680.2,593.6 676.5,584.1 737.3,519.8 682,588.7 708.2,594.9 686.6,578.3 707.4,559.1 653.9,600.5 684.5,594.2 700,599.4 703.1,554.9 658.5,618.5 673.5,560.3 674.8,596.1 681.9,573.4 664.2,603.4 688,570.6 684.7,610.1 715.6,558 678.8,596.9 704.6,560.9 667.5,613.7 723.7,546 724.9,524.8 689.3,590.1 693,581.6 684.9,593 699.2,567.9 685.3,581.4 693.4,561.6 651,591.7 719.8,540.4 671.3,584.8 698.6,571.5 644.6,624.9 677.2,596.4 670.5,608.2 682.5,607.6 698.7,572.7 698.7,602.4 661.9,629.6 708.9,533.1 700.6,567.2 692.4,583.2 667.3,643.3 710.4,570.9 698.3,574.4 713.9,566.8 658.5,592.3 676.7,574.6 699.5,593.5 690.8,587.7 720.4,564.3 684.2,617.2 716.8,576.7 657.3,603.1 685,584.7 676.2,621.4 721,573.4 704.2,566.2 684.6,572.1 697.3,604.3 662.6,628.2 690.5,594.8 659.2,613.2 697.7,547.6 675.9,601.9 690.3,564.3 715.5,543.6 730.6,551.1 646,609.4 693.2,569 696.8,603.7 643.5,628.1 651.1,630.5 722.2,547.8 665.1,584.2 667.8,609.4 673.2,577.7 702.9,533.7 689.2,614 673.7,551.2 705.2,571.7 710.2,552.9 637.7,633.2 686.7,591.2 696.5,575.4 687.8,581.3 698.5,560 701.7,574.7 653.8,618.5 698.4,561.2 710.3,538.5 680.2,577.6 676.2,606.8 680.8,586.5 691.7,562.3 695.7,578.1 697.6,585.1 721.2,552.4 696.4,586 687.6,588.5 679.5,605.4 659.8,577.5 708.4,567 709.6,560.8 709,563.3 679.5,607.7 695.6,581.5 708.2,585.4 694.9,559.5 714.2,546.6 695.9,572.2 706.3,588.9 669.2,620.6 688.3,583.8 658.2,629.5 697.9,556.6 644.7,640.6 682.7,549.3 671.7,595.8 655.7,595.8 673.2,603.4 676.7,593.9 689.5,608.5 676.5,592.5 693.4,593 671.8,626.8 713.1,532.2 671,609.7 708.3,574.5 688.8,562.9 680.5,619.5 659.2,580.3 680.8,633.2 684.7,606.7 671,635.2 735.3,538.3 683.2,614.9 648.8,602.3 695.5,567.8 699.7,575.5 659.8,586.4 650.9,649.6 693.4,580.3 666.2,596.9 678.9,580.1 681,596.1 703.6,570.2 701,557.5 684.6,569.2 684.5,601.1 691.2,606.4 710.6,545.3 723.1,525.6 698.6,538.6 636.8,609.4 731.7,545.1 727.1,530.1 709.3,568.7 689.5,602.6 654.4,593.1 749.9,521.4 681.8,593.3 686.9,586.2 677.3,610.2 657.7,614.9 762.4,474.4 701.5,588.7 683.4,612.9 734.5,527.1 690.6,550.3 648.4,626.3 676.9,603.1 692.4,571.3 704.1,548.1 662.1,617.6 684.8,573.3 695.3,572 672.1,593.5 656.3,620.2 669.5,622.6 694.4,536.4 712.8,548.4 661.7,581.2 679.2,581.4 705.4,589.3 671.2,602.3 713.6,517.7 674.4,606.9 679.8,568.8 677.1,607.1 694.1,587.3 657.1,611.6 675.8,615.2 673.1,561.3 695.4,573.1 736.6,525.9 664.4,607.8 664.8,620.7 729.8,547 638.8,637.8 704.1,555.8 650.9,603.9 725.1,560.7 690.9,552.7 663,618.2 720.9,538.9 680.1,602.6 714.3,563.6 716,578.5 706.1,554.6 712.6,568.5 693.1,612.8 685.7,602.1 730.3,510 707.1,582.7 724.1,518.5 654.1,612 683.6,589 677.8,586.1 685.5,585.5 681.9,610.2 687.8,626.3 719.4,550 659.4,585 697.8,554.5 654.2,655.5 668.2,605.4 706.8,574.4 655.1,585.9 682,616.9 660.4,604.4 698.3,586.9 688.6,586.2 686.4,566.7 659.8,622.2 697.5,576.3 710.4,564.8 694.5,562.2 689.7,577.1 735.9,554.2 730.8,523.6 673,587.3 699.2,579.3 659.8,630.5 704.9,579.1 706,547.2 711.5,567.4 646.8,626.9 733.8,541.2 695.6,560.9 668.6,575.7 687,603.4 692.1,566.9 681.5,565 669.4,609.4 700,559 703.5,559.8 668.4,601.7 728.3,536.5 715.8,574.3 706.3,565.7 694.8,552.4 657.2,608.2 683.4,595.6 702,548.8 707.7,552.3 650.8,620.6 705.9,551.3 682.4,600.6 693,573.9 634.1,640.4 717.2,530.5 703.7,568.2 672.6,616 666.3,606 661.3,635.3 711.2,562.2 681.2,581 695.3,584.7 655.2,615.8 713,556.2 684.1,581.2 691.8,576.7 669,596.2 696.5,553.3 714.5,552 688.3,594.2 663,595.2 718.7,570.4 725,552.7 643.4,646.6 670.5,587.5 712.3,571 677.6,579.3 676.5,553.4 701.9,611 697.5,566.3 685.6,571.4 658.6,607.7 687.4,578.6 726.3,564.5 705.5,572.1 701.7,570.8 683.8,561.6 704.9,563.5 725.6,561.4 651.9,603.8 682,611.8 652.3,617.6 654.7,586.7 674.6,606.1 667.6,606.4 684.5,604.7 687.3,604.8 678.3,591 667,603.3 700.2,574.5 704.1,570.2 696.4,605.8 701,569.5 702.3,576.4 691.6,603.4 687.6,600.9 678.3,575.5 725.4,534.9 704.7,587.1 700.8,560.5 636,617.4 660.3,626.2 636.8,630.4 717.7,580.3 676.2,570.4 707.9,571.6 707.2,550.3 697.5,607.4 698.3,551.5 680.6,589.4 655.2,619.4 672.4,573.6 681.9,576.1 705.4,558.7 679.5,560.9 704.1,557.2 705.9,520.9 716,561.3 676.6,554.5 703,537.7 665.8,607.4 659.4,610.7 655.9,592.3 692.4,539.7 690.7,566.4 711.3,560.5 707.1,548.3 719.2,551.7 705.3,537.1 665.4,600 697.2,589.1 741.5,550.1 680.3,556.6 667.4,630.7 675.5,605.1 663.4,583.7 702.2,566 649.5,640.4 642.5,619.3 727.4,507.5 711.6,562.7 705.6,569.2 686,562.8 643.6,588.3 699,581.6 707.9,596.2 706.3,558.1 695.3,594.1 699.1,577.5 660.7,601.2 699.5,560.6 704.6,594.6 664.4,601 681.9,584.3 645.1,629.4 696.3,563.7 689.2,568.6 716.7,541.7 711.1,558.3 722.6,537.4 690.9,569.1 695,603.2 714.7,544.1 706.5,556.3 748.6,517.1 646.4,618.2 658,605.7 700,607.1 712.5,560.1 670.6,579.3 659.4,583.6 695.3,585.5 729.7,515.7 734.3,519.4 685.6,601.6 675.6,564.5 667.6,577.4 694.3,600 662.2,611.4 689.1,595.2 653.1,629.6 699.4,543.5 672.7,597.4 703.4,551.5 644,620.9 672.9,569.9 688.5,592.2 667.8,588.4 670.1,596.2 718.9,557.7 686.2,559.8 734.9,543.9 695.3,623.1 724.3,533.2 698.8,567.3 727.2,533.7 705.1,538.3 683.3,581.3 634,621.7 661.7,624.9 656.5,606.5 661.4,595 643.7,624.1 714.4,585.3 685.6,573.5 659.1,582.3 667.5,586.3 716.9,543.9 672.1,591.4 653.9,620.4 703.1,563.8 713.9,576.5 721.7,535.9 663.5,622.7 697.1,582.7 653.2,608 714.9,593.4 679.1,621.5 659.2,602.2 654.5,624.5 655.3,614.5 714.9,523.6 705.6,570.9 652.1,605.9 665.1,617.1 684,620.8 700.1,589 684.8,570.1 670.8,564.9 699.4,579.8 706.9,524.4 747.5,519.6 682.2,588.1 706,610.8 717.6,552 664.8,593.5 692.7,615.9 707.4,554.1 671.9,635.8 702.6,535.9 695.1,604.8 700.2,596.8 681,568.9 679.4,556.4 711.8,569.3 701.9,546.6 726.4,547.4 642.8,642.2 678.6,617.7 718.5,530.8 665.4,619.7 646.2,630.5 710.3,536.8 689.4,538.5 674.2,620.2 725.6,540 690.1,599 667.4,616.4 759.6,500.9 707.4,556.4 668.2,588.8 691.2,557.6 702.7,543.5 706.9,512.8 669.7,587.3 694.4,577.3 731.8,531.7 704.1,561.8 669.9,567.6 686.3,538.9 725,544.4 660,598.3 679.9,609 684.4,582.8 701.2,588 703.5,549 678.3,591.3 673.5,579.4 736.3,524.5 691.2,595.6 724.7,525.9 704.2,577.5 720.6,520.9 703.4,596.2 714.8,561.3 706.1,560.2 700.4,546.4 755.8,516.9 724.4,546.5 671.2,610.5 690.5,573.2 734.4,537 706.1,578.6 702.2,556.2 678.3,592.3 678.5,614.4 670.1,623.3 672.6,613 677.9,613 658.5,578.7 686.6,589.8 672.1,622.1 721,560.7 661.3,598.8 693.5,554.3 638.4,625.7 712.7,545.4 741.3,534.6 693.6,545.2 743.2,511.3 714,580.5 700.6,578.7 714.4,555.1 724.1,566.9 693.3,546.7 702.1,566.9 714.9,570.4 711.7,542.6 667.9,622 721.6,564.9 714,535.1 732.8,530.1 679.5,571.6 688,553.4 675.6,630 669.6,604.2 701,608.8 676.6,627.7 669.6,583.8 692.2,588.6 696.1,546.4 665.2,600.8 699.4,545.1 709.4,540 701,541.4 707.5,562.2 693,586.5 709.4,555 668.2,615.1 707.6,575.6 694.5,554.3 708.4,564 660,615.3 707.1,581.1 697.7,583.5 693.1,564 648.8,607 686.5,609.1 716.8,522.8 724.3,569.1 687.3,598.3 674.3,567.6 720.1,525.4 705.1,535 672.6,588.9 672.4,582.7 648.5,614.6 699.1,556.3 706.5,534.4 672.6,578.7 672.5,634.1 667.7,618.2 672.8,598.7 653.7,637.3 719.6,556.1 711.6,537.1 708.7,547.3 718.4,569.1 727,569.5 702.6,534.3 696.3,550.2 692.5,559.2 694.4,588.9 669.4,586.3 719.5,534.5 658.5,595.7 676.1,573.5 691.8,604.4 732.2,555.7 680.4,587.2 717.2,559.9 677.9,630.9 693.5,595.8 675.3,619.7 658.5,632.4 693,578 634.3,645.6 679.9,577.8 655.2,623.4 726.1,550.6 657.8,629.8 672.4,584.6 695,574.1 710.3,556.2 666.6,582.1 664.7,586.9 679.9,563.5 660.6,590.6 688.5,590.9 646.5,604.4 716.7,548.1 692.9,554.2 709,558.2 696.7,597.9 709.6,597.3 699.4,528 689.3,548.7 676.4,634 674.7,580 705,553.1 710.9,577.6 666.3,610.3 724.3,536.6 676.9,559.7 715.8,553.3 658.1,619.6 661.2,628 691.8,596.7 708.8,587.2 689.3,570 684.8,579.2 685.7,562.2 656.7,626.7 715.9,537.9 637.8,613.7 703.8,589.6 653.6,642.7 676.2,579.2 696.3,602.1 723.2,561.9 706.4,575.4 687.9,572.7 680.3,598.7 701.8,585.2 693.7,562.8 648.8,628.6 679.9,616.3 670.1,593.9 653.7,586.2 731,534.4 687.1,543.6 715,539.5 672.6,558.5 696,561.5 705.5,595.1 677.6,630 693.3,551.8 703.5,531.9 689.4,552.7 702.3,585.4 725,542.5 704.1,575.7 664.4,587 723.4,525 679.9,570.4 657.6,616.1 652.4,634.1 646.3,619.3 718.7,563.9 675.9,598.3 655.2,605.4 683.7,551.6 730.3,559.5 668.7,611.8 676.2,576 694.1,553.8 643.9,614.1 708.6,579 707.4,580 657.6,617.7 697.9,539.8 663.7,599.1 689,588.9 725.8,537.3 697.6,558.5 671.5,577.1 652.6,638.6 680.4,559.3 701.6,565.5 640.5,620.2 707.2,536.7 687.4,622.2 700.2,562.8 663,612.1 664.1,611.6 736.8,569.2 686.5,598.5 680.7,563.5 648,630.1 721.9,508 702.4,586.8 669.8,627 665.7,579.6 639.4,612.6 691.4,601.5 683.2,598.3 717,528 665.4,565.1 683.1,578.1 687.1,546.1 705.2,546.3 727,522.5 677.3,610.6 710,577.2 721.7,556.9 726.7,541.5 655.3,610.2 660.7,617.2 649.4,620.6 646.7,636.5 644.2,617.6 667,598.8 725.6,521.3 730.9,541.2 638.3,628.3 701.2,524.1 749,536.1 649.2,590.1 738.6,543.3 707.9,538.6 719.8,576.9 651.5,628.7 709.3,585.5 668.1,568.8 656,618.7 679.1,578.4 680,584.8 693.4,585.9 713.8,519.8 673.5,582.6 732.5,526.2 646.4,596.4 686,555.3 657.2,625.4 713,542.2 674.3,590.6 670.8,592.3 692.8,603.5 729.9,528.4 716.5,546.6 654.3,573.8 639.2,615.2 719.2,562.3 671.7,565.2 644.4,617.1 685.1,576.6 686.1,606.6" fill="none" stroke="none" marker-start="url(#mc3)" marker-mid="url(#mc3)" marker-end="url(#mc3)"/>
<polyline clip-path="url(#cc)" points="728.6,520.5 694.3,579.3 729.6,541.1 737.3,516.9 710.6,563 721.4,528.1 716.1,532.7 713.3,552.1 692.4,564.9 747.1,526.7 740.8,525.4 690.7,586.3 734.9,518.3 707.9,553.9 722.8,536.6 701,552.5 687.1,562.5 714.2,529.7 728.7,539 713.1,539.4 748.4,498.1 735.8,529 709.7,556.5 710.6,539.8 761.6,460.8 718.2,517.4 703.6,569.6 750.6,497.1 699.5,531.8 702.5,544.2 749,504.5 738,516.8 705.2,547.3 711,568.5 728.3,506.4 728.3,536.5 725.9,519.3 718.7,513.5 731.6,530.3 688.7,541.5 714.6,546.7 723.6,550.5 740.5,512.8 698.1,574.6 734.6,538 741.6,511.3 688.3,528.8 718.1,528.6 725.6,494.6 746,507.2 736.6,495.4 716,538.3 762.8,484.8 707.8,559.8 704.2,540.5 694.6,539.7 736.8,520.2 718.7,541.3 746.9,497.4 716.6,559.8 713.8,537.8 728.9,543.8 733,516.8 701.7,570.5 730.3,505.7 705.7,558.9 688.6,578.3 747.9,504.7 708.3,572.3 727.3,546.9 745,509 723.4,501.6 738.4,506 745.1,498.2 709.3,544.2 733.3,532.3 718.4,536.3 723.8,521.8 734.8,533.5 737,526.6 737.9,497.5 723.5,524.4 713.9,560.1 709.8,521.2 712.2,532.7 697.6,557.6 720.8,524.5 709.3,546.3 691.7,545 695.2,559.8 684.6,575.6 708.8,535.7 704.5,569.7 685.6,570.1 699.2,540.6 709.1,558.1 712.8,522.5 719.5,545.3 749,489.5 711.6,547.3 691,574.9 712.8,533.9 708.1,542.6 683.7,579.8 735.2,520.1 713.1,519.3 689.1,596.2 692.5,537.8 740,514.7 712.4,552.7 704.9,547.8 760.5,498.9 717.7,530.4 744.4,490.9 728.4,524.9 742.3,498.1 740.1,492.7 704.6,551.3 741.9,499.9 722.8,537.4 707.5,541.3 722,544.9 732.1,531.1 687.5,582.5 749.7,514.1 699.1,562.9 737.8,533.4 719.2,550.8 726.8,530.7 708.6,529.9 696.3,543 735.5,527.3 715.2,542.7 732,501.6 693.6,563.2 691.7,535.7 729.4,557.6 727.3,515.9 731.2,554.7 749.7,500.5 731.9,542.9 734.7,521.4 700,542.6 730.3,527.9 701.6,540.8 730.7,533 739.8,517 714.8,535.5 716.4,546.8 720.9,546.9 714.4,521.5 741.3,527.1 724.7,560.8 703.9,594.9 729.2,525.4 721.7,535.3 697.8,553.1 692.5,557.9 687.3,549.1 748.7,521.8 706.4,540.4 715.3,531.6 727.4,529.2 745.9,528.4 711.8,535.8 746.1,527 695,563 711.5,555.7 692.1,552.3 728.9,533.3 729.4,535.9 697.6,552.3 690.3,571 737.5,524.3 722.6,551 706.6,532.6 690.2,565.2 719.2,527.9 721.5,540.6 719.7,513.3 764,493.4 704.4,538.8 695.4,559.7 697,554.4 712.2,545.4 725.2,539.9 722.7,556.9 707.4,537.4 696.7,548.8 761.1,507.3 734.3,519.4 730.4,512 701.9,580.3 708.1,528.4 743.9,510.3 719.4,535.1 687,571.6 745,500.3 725.1,510.3 723,522.6 686,554.6 713.4,527.8 766.5,495.4 704.2,562.4 707,545.6 751.1,507.4 721.6,519.7 715.9,543.8 687.9,569.9 737.6,529.4 741.8,504.4 697.7,568.6 712.8,564.3 728.5,537.9 695.9,558.4 722.4,526 745.2,515.6 726.1,524.3 706.5,537.5 718.4,545.9 728.3,512.8 739,525 741.3,520.7 757.3,513 727.5,528 762.5,502.5 706.7,548.8 736.5,512.6 693.3,555.8 723.8,540.2 727,539.3 713.1,557.8 707.4,550.8 719,538.5 758.4,518.4 729.6,522 725.7,522.4 772.2,470.1 697,558.4 716.3,517.7 699.5,571.3 702.3,548.9 752.8,506.5 716.2,529.5 736,511 719.5,523.4 707,545.8 714.9,509.3 733.9,524.9 711.8,517.1 707,552.3 705.3,554.7 754.2,507.8 718.6,564.4 721,504.3 692.7,581.3 700.2,539.7 698.5,550.7 689.1,556.8 708.7,557.8 701.9,566.7 710.6,535.2 738.8,535.4 704.2,545 709.1,553.7 715,540.7 751.8,504.6 737.5,503.3 706.2,562.5 756.9,533.3 730.4,515.9 739.8,519.2 728.2,535.3 693.2,555.9 703.5,564.6 741.5,503.1 686.7,585.8 739.2,525.9 730.4,524.6 733.9,510.5 717.8,553 690.6,558.9 716.9,534.3 727.5,543.3 712.6,548.8 723.7,546 752.3,509.9 685,573 693.8,545.8 740.9,532.2 735,508.4 721.2,521.1 700.8,557.3 700.7,529.9 689,590.6 698.5,542.2 685.7,579 720.7,543.5 737.2,553.7 726.2,544.8 695.9,570.3 689.6,568.2 747.8,523.9 710.3,563.7 716,557.1 724.6,533.5 720.1,546.4 692.2,578.1 715.2,510.9 684.4,590.5 757,517.7 686.1,568.1 701.5,551.3 722.7,533.6 746,514.9 706.9,541.4 746.6,491.3 725,512.4 720.7,520.2 732.2,497.2 746.3,493.2 736.5,519.9 708.9,540 721.9,551.9 707.8,533.7 732.2,550.3 725.9,508.5 758.1,486.1 705.1,532.1 696,563.3 705.2,542 724.2,535.7 721.1,514 683.7,585.7 753.2,498.6 750.6,510.7 712.5,508 712.4,546.6 711.7,538.6 715.7,524.2 743.5,519.3 724.4,534.6 730.5,521.5 747.5,528.5 731.4,512.5 733.5,502.7 696.7,561.6 693.6,548.4 702.2,574.5 699.2,565.1 724.2,531.7 760.5,476.8 765.3,485.2 725.2,497.4 694.9,573.3 697.2,572.5 714.7,554.8 721.5,556.7 719.6,526 649.3,598.7 649.5,615.3 652,631.9 729.7,529.2 630.4,624.6 693.6,572.1 682.9,625.6 679.9,600.8 657.6,610.5 660.4,610.4 728.2,528.1 660.3,615.2 694.2,575.1 665.1,593.1 716.7,573.8 675.7,572.5 669,593.5 687.1,616.4 661.8,596.6 652.3,603.5 684.1,592.6 646.4,624.3 688.6,553.1 704.9,554.1 648.5,638.2 695.4,608.2 704.8,567.4 670.1,594.6 637.6,634.4 673.5,566.2 713.1,575.2 668.5,596.6 674.3,588.9 713.2,565.3 640.5,627.6 646,610.9 674.9,577 675.9,598.2 677,590.4 679.4,592.2 655.6,605.2 666.7,587 721.1,532.4 627.5,634.7 703,561.9 696.8,567 691.8,589.2 672.4,581.1 689.7,577 641.1,622.3 738.6,519.2 641.8,633 703.7,536.6 688.7,596.9 696.7,600.6 665.4,603.3 679.4,620.6 700,550.9 653.1,606.1 721.1,559.9 675.3,608.2 688,589.1 665.8,624.1 693.2,566.3 668,597.2 700.9,564.6 694.6,557.6 712.7,544.9 679.3,581.3 676.5,586.6 649.3,639.4 671.2,617.5 706.9,584 702.5,600.4 681.6,579.9 679.8,593.5" fill="none" stroke="none" marker-start="url(#mc4)" marker-mid="url(#mc4)" marker-end="url(#mc4)"/>
<line x1="515.5" y1="743.4" x2="848.3" y2="411.5" stroke="#0000ff" stroke-width="4.4" stroke-dasharray="13 5.5" stroke-linecap="butt"/>
<line x1="529.7" y1="757.5" x2="862.5" y2="425.6" stroke="#0000ff" stroke-width="4.4" stroke-dasharray="13 5.5" stroke-linecap="butt"/>
<line x1="515.5" y1="757.5" x2="862.5" y2="411.5" stroke="#000" stroke-width="4.5" stroke-linecap="butt"/>
<line x1="400.5" y1="514.7" x2="775.8" y2="514.7" stroke="#ff0000" stroke-width="4.2" stroke-dasharray="13 5.5" />
<line x1="743.9" y1="518.6" x2="743.9" y2="757.5" stroke="#ff0000" stroke-width="4.2" stroke-dasharray="13 5.6" />
<line x1="743.9" y1="512.6" x2="743.9" y2="519.0" stroke="#ff0000" stroke-width="4.2" />
<line x1="773.8" y1="518.6" x2="773.8" y2="757.5" stroke="#ff0000" stroke-width="4.2" stroke-dasharray="13 5.6" />
<line x1="773.8" y1="512.6" x2="773.8" y2="519.0" stroke="#ff0000" stroke-width="4.2" />
<line x1="515.5" y1="411.5" x2="862.5" y2="411.5" stroke="#333" stroke-width="1" />
<line x1="862.5" y1="411.5" x2="862.5" y2="757.5" stroke="#333" stroke-width="1" />
<line x1="515.5" y1="411.0" x2="515.5" y2="757.5" stroke="#222" stroke-width="0.9" />
<line x1="514.9" y1="757.5" x2="863.0" y2="757.5" stroke="#222" stroke-width="1.0" />
<line x1="515.5" y1="757.5" x2="515.5" y2="755.0" stroke="#000" stroke-width="1.4" />
<line x1="515.5" y1="411.5" x2="515.5" y2="414.0" stroke="#000" stroke-width="1.4" />
<line x1="573.3" y1="757.5" x2="573.3" y2="755.0" stroke="#000" stroke-width="1.4" />
<line x1="573.3" y1="411.5" x2="573.3" y2="414.0" stroke="#000" stroke-width="1.4" />
<line x1="631.2" y1="757.5" x2="631.2" y2="755.0" stroke="#000" stroke-width="1.4" />
<line x1="631.2" y1="411.5" x2="631.2" y2="414.0" stroke="#000" stroke-width="1.4" />
<line x1="689.0" y1="757.5" x2="689.0" y2="755.0" stroke="#000" stroke-width="1.4" />
<line x1="689.0" y1="411.5" x2="689.0" y2="414.0" stroke="#000" stroke-width="1.4" />
<line x1="746.8" y1="757.5" x2="746.8" y2="755.0" stroke="#000" stroke-width="1.4" />
<line x1="746.8" y1="411.5" x2="746.8" y2="414.0" stroke="#000" stroke-width="1.4" />
<line x1="804.7" y1="757.5" x2="804.7" y2="755.0" stroke="#000" stroke-width="1.4" />
<line x1="804.7" y1="411.5" x2="804.7" y2="414.0" stroke="#000" stroke-width="1.4" />
<line x1="862.5" y1="757.5" x2="862.5" y2="755.0" stroke="#000" stroke-width="1.4" />
<line x1="862.5" y1="411.5" x2="862.5" y2="414.0" stroke="#000" stroke-width="1.4" />
<line x1="515.5" y1="757.5" x2="518.0" y2="757.5" stroke="#000" stroke-width="1.4" />
<line x1="862.5" y1="757.5" x2="860.0" y2="757.5" stroke="#000" stroke-width="1.4" />
<line x1="515.5" y1="699.8" x2="518.0" y2="699.8" stroke="#000" stroke-width="1.4" />
<line x1="862.5" y1="699.8" x2="860.0" y2="699.8" stroke="#000" stroke-width="1.4" />
<line x1="515.5" y1="642.2" x2="518.0" y2="642.2" stroke="#000" stroke-width="1.4" />
<line x1="862.5" y1="642.2" x2="860.0" y2="642.2" stroke="#000" stroke-width="1.4" />
<line x1="515.5" y1="584.5" x2="518.0" y2="584.5" stroke="#000" stroke-width="1.4" />
<line x1="862.5" y1="584.5" x2="860.0" y2="584.5" stroke="#000" stroke-width="1.4" />
<line x1="515.5" y1="526.8" x2="518.0" y2="526.8" stroke="#000" stroke-width="1.4" />
<line x1="862.5" y1="526.8" x2="860.0" y2="526.8" stroke="#000" stroke-width="1.4" />
<line x1="515.5" y1="469.2" x2="518.0" y2="469.2" stroke="#000" stroke-width="1.4" />
<line x1="862.5" y1="469.2" x2="860.0" y2="469.2" stroke="#000" stroke-width="1.4" />
<line x1="515.5" y1="411.5" x2="518.0" y2="411.5" stroke="#000" stroke-width="1.4" />
<line x1="862.5" y1="411.5" x2="860.0" y2="411.5" stroke="#000" stroke-width="1.4" />
<text x="515.5" y="776.6" font-size="18" text-anchor="middle" >−3</text>
<text x="508.5" y="764.4" font-size="18" text-anchor="end" >−3</text>
<text x="573.3" y="776.6" font-size="18" text-anchor="middle" >−2</text>
<text x="508.5" y="706.7" font-size="18" text-anchor="end" >−2</text>
<text x="631.2" y="776.6" font-size="18" text-anchor="middle" >−1</text>
<text x="508.5" y="649.1" font-size="18" text-anchor="end" >−1</text>
<text x="689.0" y="776.6" font-size="18" text-anchor="middle" >0</text>
<text x="508.5" y="591.4" font-size="18" text-anchor="end" >0</text>
<text x="746.8" y="776.6" font-size="18" text-anchor="middle" >1</text>
<text x="508.5" y="533.7" font-size="18" text-anchor="end" >1</text>
<text x="804.7" y="776.6" font-size="18" text-anchor="middle" >2</text>
<text x="508.5" y="476.1" font-size="18" text-anchor="end" >2</text>
<text x="861.5" y="776.6" font-size="18" text-anchor="middle" >3</text>
<text x="508.5" y="418.4" font-size="18" text-anchor="end" >3</text>
<text x="688.5" y="795.3" font-size="18.4" text-anchor="middle" >Log<tspan font-size="12.5" dy="4.5">10</tspan><tspan dy="-4.5">(Predicted PGV (cm/s))</tspan></text>
<text transform="translate(482.0,584.5) rotate(-90)" font-size="18.4" text-anchor="middle">Log<tspan font-size="12.5" dy="4.5">10</tspan><tspan dy="-4.5">(Observed PGV (cm/s))</tspan></text>
<text x="471.0" y="418.5" font-size="19.5" text-anchor="start" >(c)</text>
<text x="542.0" y="445.0" font-size="17.9" text-anchor="start" >ϖ=0.191</text>
<text x="543.0" y="475.2" font-size="17.9" text-anchor="start" >σ=0.245</text>
<text x="590.3" y="503.4" font-size="18.3" text-anchor="start" >VII</text>
<polygon fill="#bebebe" points="123,914.5 124,911.5 125,908.5 126,904.5 127,904.5 128,904.5 129,901.5 130,898.5 131,898.5 132,897.5 133,897.5 134,897.5 135,897.5 136,898.5 137,899.5 138,899.5 139,899.5 140,898.5 141,898.5 142,898.5 143,898.5 144,897.5 145,895.5 146,895.5 147,895.5 148,895.5 149,895.5 150,898.5 151,897.5 152,895.5 153,896.5 154,897.5 155,897.5 156,899.5 157,899.5 158,898.5 159,897.5 160,896.5 161,896.5 162,896.5 163,896.5 164,896.5 165,898.5 166,898.5 167,897.5 168,898.5 169,897.5 170,895.5 171,895.5 172,896.5 173,896.5 174,896.5 175,896.5 176,896.5 177,895.5 178,894.5 179,894.5 180,895.5 181,895.5 182,893.5 183,893.5 184,892.5 185,893.5 186,894.5 187,896.5 188,896.5 189,895.5 190,895.5 191,895.5 192,895.5 193,895.5 194,895.5 195,897.5 196,897.5 197,899.5 198,897.5 199,898.5 200,896.5 201,896.5 202,896.5 203,895.5 204,895.5 205,896.5 206,895.5 207,895.5 208,895.5 209,895.5 210,895.5 211,894.5 212,894.5 213,895.5 214,895.5 215,895.5 216,895.5 217,895.5 218,894.5 219,895.5 220,894.5 221,895.5 222,895.5 223,895.5 224,895.5 225,894.5 226,891.5 227,891.5 228,893.5 229,893.5 230,892.5 231,897.5 232,896.5 233,896.5 234,896.5 235,895.5 236,895.5 237,895.5 238,895.5 239,895.5 240,896.5 241,896.5 242,896.5 243,896.5 244,896.5 245,896.5 246,897.5 247,895.5 248,898.5 249,898.5 250,896.5 251,898.5 252,897.5 253,896.5 254,896.5 255,896.5 256,893.5 257,892.5 258,891.5 259,892.5 260,898.5 261,898.5 262,897.5 263,896.5 264,894.5 265,894.5 266,895.5 267,895.5 268,895.5 269,899.5 270,897.5 271,897.5 272,897.5 273,897.5 274,897.5 275,897.5 276,897.5 277,897.5 278,897.5 279,897.5 280,898.5 281,898.5 282,899.5 283,899.5 284,899.5 285,899.5 286,900.5 287,900.5 288,901.5 289,900.5 290,901.5 291,902.5 292,902.5 293,901.5 294,899.5 295,899.5 296,898.5 297,897.5 298,898.5 299,902.5 300,901.5 301,901.5 302,902.5 303,902.5 304,902.5 305,904.5 306,906.5 307,908.5 308,910.5 309,910.5 310,908.5 311,907.5 312,906.5 313,904.5 314,903.5 315,904.5 316,904.5 317,905.5 318,906.5 319,907.5 320,906.5 321,906.5 322,906.5 323,906.5 324,905.5 325,906.5 326,906.5 327,912.5 328,906.5 329,908.5 330,908.5 331,905.5 332,910.5 333,914.5 334,915.5 335,915.5 336,914.5 337,915.5 338,915.5 339,917.5 340,917.5 341,907.5 342,907.5 343,907.5 344,907.5 344,926.5 343,926.5 342,926.5 341,923.5 340,927.5 339,927.5 338,926.5 337,927.5 336,927.5 335,928.5 334,928.5 333,930.5 332,931.5 331,931.5 330,931.5 329,931.5 328,928.5 327,929.5 326,929.5 325,930.5 324,930.5 323,931.5 322,932.5 321,932.5 320,933.5 319,933.5 318,934.5 317,933.5 316,936.5 315,935.5 314,933.5 313,933.5 312,934.5 311,933.5 310,934.5 309,934.5 308,934.5 307,942.5 306,937.5 305,930.5 304,932.5 303,936.5 302,937.5 301,936.5 300,937.5 299,938.5 298,937.5 297,937.5 296,934.5 295,933.5 294,933.5 293,933.5 292,933.5 291,934.5 290,935.5 289,934.5 288,940.5 287,940.5 286,940.5 285,940.5 284,941.5 283,938.5 282,938.5 281,937.5 280,937.5 279,937.5 278,938.5 277,937.5 276,939.5 275,937.5 274,938.5 273,938.5 272,938.5 271,938.5 270,938.5 269,938.5 268,937.5 267,937.5 266,937.5 265,938.5 264,939.5 263,939.5 262,941.5 261,941.5 260,940.5 259,939.5 258,942.5 257,940.5 256,940.5 255,940.5 254,941.5 253,940.5 252,941.5 251,941.5 250,941.5 249,941.5 248,941.5 247,939.5 246,939.5 245,941.5 244,941.5 243,942.5 242,941.5 241,943.5 240,941.5 239,941.5 238,941.5 237,941.5 236,940.5 235,940.5 234,941.5 233,941.5 232,943.5 231,941.5 230,942.5 229,941.5 228,942.5 227,941.5 226,941.5 225,940.5 224,940.5 223,940.5 222,940.5 221,938.5 220,938.5 219,941.5 218,941.5 217,941.5 216,942.5 215,942.5 214,942.5 213,942.5 212,943.5 211,942.5 210,940.5 209,941.5 208,942.5 207,940.5 206,940.5 205,942.5 204,940.5 203,942.5 202,943.5 201,943.5 200,941.5 199,941.5 198,940.5 197,940.5 196,940.5 195,940.5 194,940.5 193,939.5 192,939.5 191,941.5 190,941.5 189,941.5 188,942.5 187,943.5 186,943.5 185,943.5 184,943.5 183,943.5 182,941.5 181,941.5 180,943.5 179,946.5 178,941.5 177,946.5 176,946.5 175,941.5 174,944.5 173,943.5 172,943.5 171,941.5 170,939.5 169,939.5 168,939.5 167,939.5 166,941.5 165,941.5 164,941.5 163,941.5 162,939.5 161,938.5 160,943.5 159,943.5 158,943.5 157,943.5 156,942.5 155,941.5 154,940.5 153,941.5 152,942.5 151,942.5 150,941.5 149,941.5 148,942.5 147,942.5 146,941.5 145,941.5 144,941.5 143,941.5 142,940.5 141,940.5 140,940.5 139,944.5 138,943.5 137,943.5 136,944.5 135,943.5 134,943.5 133,943.5 132,940.5 131,937.5 130,937.5 129,939.5 128,938.5 127,938.5 126,935.5 125,935.5 124,924.5 123,921.5"/>
<polygon fill="#bebebe" points="348,908.5 349,910.5 350,909.5 351,910.5 351,923.5 350,924.5 349,923.5 348,921.5"/>
<polyline points="122.8,910.4 122.9,912.9 122.5,914.1 122.9,921.7 123.1,920.1 123.3,902.6 123.9,900.8 123.3,926.2 123.8,904.7 124.7,933.8 123.9,903.7 123.9,906.4 124.5,934 123.9,925.1 124.1,927.5 123.9,928.1 126.4,936.4 127,937.4 127.5,943.9 127.7,938.1 128.4,939 129,900.9 128,903.6 128.2,905.7 128.4,902.7 128.6,939.3 128.3,941.6 129.5,890.6 130.4,898.4 129.3,942.5 131.5,897.6 131.8,947.4 131.5,898.9 131.6,941.9 130.8,937.3 131.1,936.4 130.9,938 131.2,940.8 132.3,947.7 132.4,942 134.3,945 133.8,945.2 134,953.1 134.5,891.5 134.3,889.8 133.7,943.6 134.3,942.5 133.6,896.7 135.1,891.9 134.9,890.6 135.7,893.5 135.1,942.6 135.6,895.9 134.8,895.4 135.5,894.9 137,944.6 136.3,896.4 136.5,949.6 136.4,942.8 136.3,900.4 136.1,899.5 137.1,900.8 136.8,944.3 138.6,886.7 137.7,945.3 139.7,945.8 139.2,898.5 138.9,901.3 140.6,941.7 141.4,946.7 141.5,898.7 141.4,894.1 140.6,945 140.3,900.4 141.1,897.9 141.6,889 142.4,896.5 142.5,890.1 143.1,897.4 144,948 144.2,946.7 143.4,896.8 144.5,941.8 144.6,949.1 145.4,940.1 146,896 146.6,943.9 146,893.7 145.7,939.6 146.7,896.9 146.1,940.5 145.7,896.7 148,884.6 147.3,894.8 147.1,881 147.3,892.7 148.8,891.6 149.4,891.2 149.5,943 149.3,939.9 148.8,885.4 150.3,942.6 151,943.3 150,893.6 150,948.6 151.3,896.9 152.3,941.1 152.1,944.1 151.1,898.3 153.6,940.2 153,956.3 153.6,890.2 153.2,939.9 152.6,952.2 153.2,894.6 152.4,893.7 154.1,939.6 153.8,897.3 154.1,897 154.9,945.9 155.7,941.7 157.1,899.9 156.8,900.2 157.8,900.1 157.3,885.6 159,945 158,893.5 158.1,944.1 158.6,893.2 157.8,898 158.5,941.6 160.4,949.3 159.2,898.7 160.3,898 160.9,936.8 161.7,898 160.7,896.2 161.7,890.8 161.9,951.6 162.5,939.6 162.8,892.9 163.3,885.9 163.1,896.1 162.8,891.4 162.4,944.7 162.6,889.3 162.1,940.4 162.7,947.3 162,898.4 162.3,943.1 163.8,942.8 164,949 164.2,940.9 165.4,950.6 164.9,942.4 164.9,897.6 165.1,940.8 167.3,941.7 166.7,940.1 166.1,897.7 166.3,900.5 168.1,898.7 167.9,898.2 167.7,943.3 168,894.8 169,941.2 169.2,897.3 170,940.6 170.9,944.7 170.8,939.8 170.5,896 171.1,887.4 171.7,895.8 172,895.6 172.6,897.7 172,894.6 172,890.2 171.9,896.4 171.6,894.7 171.6,942.6 172.5,941.6 173.2,888.3 173.2,942 173.4,944 174.1,887.8 174.7,891.5 174.5,945.2 174.9,951.1 174.3,943.8 175.3,897.7 175.1,940.6 174.9,946.2 176.6,896.7 175.6,894.1 176.6,895.4 177.2,948.3 178,943.8 178.2,893.8 177.7,940.5 178.4,947.6 178.3,941.9 179.4,944.8 179.1,948.4 178.4,942.2 178.3,944.2 178.4,949.8 178.5,946.9 180.3,897.1 180.8,945.1 180.8,890.5 180.6,940.3 180.5,893.9 181.9,891.6 181.4,940.7 181.1,942.5 181,896 183,894.2 183.5,944.9 183.1,886 185,895.3 184.3,894 184.8,942.2 186.1,892.4 186.3,890.8 186.3,943.3 186.1,946.3 186.8,897.8 186.9,941.5 187.3,944.4 187.7,897.8 188.7,947.8 189,942.5 188.7,894.5 190.3,890.7 190.2,895.5 190.3,894.4 190.8,944.5 191.7,895 191.6,938.7 191.4,896.7 190.8,896.7 190.9,892.7 191.3,948.5 191.9,950.9 191.9,940.6 194,945.7 193.7,893.1 193.4,890.2 194.1,891.3 193.9,952.5 194.4,940.3 195,895.7 195.7,946.5 195.5,940.7 195.1,948.1 195.6,941.8 195.5,939.1 195.1,938.9 195.9,898.3 197,953.9 196.9,895 197.2,939.7 196.3,895.9 198.2,889.9 197.6,896.1 198.2,898.7 197.5,956.1 198,947 199.2,891.9 199.5,939.7 198.8,947.1 199.7,896 199.4,947.7 199.7,942.1 200.7,895.1 201,944.4 201.2,895.7 201.6,944.2 202.3,944.4 201.4,941.8 201.9,894.5 203.8,959.5 202.8,940.9 203.7,892.7 203.8,938.7 203.1,941 204.6,891.8 204.6,896.1 205.2,896.8 204.5,890.9 206.1,939.6 205.9,944.5 206.5,895.5 206.1,940.8 206.6,948.3 206.5,949.1 206,939.1 206.6,941.3 207.1,942.1 207,897.4 207,940.4 208.5,947.3 208.8,943.8 208.5,897.5 208.7,896.2 208.4,890 208.3,895.9 209.2,890.6 208.8,891 210.4,896.2 210.3,938.6 210.3,939.9 209.9,943.4 210,895.6 210,897 210.3,941.4 210.9,950.2 211.3,941.1 213.4,895.1 212.8,893.5 212.6,956.3 212.4,941.6 212.5,942.3 213.3,943.1 214.2,942.9 214.1,895 214.6,949.8 216.1,893 216,895.7 217.1,943.4 217.1,942.4 217.8,894.1 218.3,895.5 218.1,942.4 217.9,944.8 218.9,896.6 218.6,947.4 218.2,941.8 219.5,895.3 219.2,897 220.2,896.5 220.3,894.7 221,939 220.4,943.2 220.7,889.8 220.8,942.3 221,951.6 221.4,938.5 221.4,892.5 222.8,941.5 222,896.4 223.1,894.4 223.6,943.8 223.8,942.1 224.4,895.5 224.5,941.7 225.7,941.5 224.9,938.6 224.6,890.6 225.5,942 225.3,894.3 225.2,893.8 224.5,894.4 226,943.8 227.8,893.8 227.8,940.8 227.9,892.8 227.5,887.7 229.1,894.2 229.2,940 229.8,942.7 230.7,947.9 230,893.2 230.5,941.7 231,897.5 231,893.3 230.6,899.5 231.2,896.4 230.4,945.4 232.6,952.8 232,944.6 232.3,895.4 231.7,894.5 233.7,893.7 232.7,897.7 232.7,941.5 233.7,871.4 233.6,940.3 233.9,945.1 235.2,895.1 235.1,940.1 235.5,891.2 236.7,945.1 236.5,895.6 235.5,944.3 235.5,941.7 236.3,896.8 237.6,952.5 236.8,946.9 237.9,894.7 239.1,878.3 238.9,897.3 239.1,942.9 239.3,941.8 238.1,892.3 238.5,894.8 238.3,941.1 239.9,898 239.8,897.4 242,940.5 241,896.9 241.5,944.7 240.9,942.3 242.6,943.4 242.6,941.8 243.2,889.8 243.3,892.6 242.2,893.4 243.2,898.2 244.8,939.7 243.7,947.1 243.7,945.8 244.6,946.8 244.7,896.6 243.6,940.7 244.7,897.9 244.9,940.8 245.1,945.7 245.4,897.9 245.3,885.1 247.3,949.3 246.5,892.4 246.3,942.2 246.4,886.7 246.3,896.8 246.8,890 246.7,893.7 248.3,898.4 248.4,939.9 248.5,944.4 249,896.7 249.5,945 249.4,899.3 249.2,897.4 250.2,939.6 249.8,947.4 249.6,940.6 250.3,947.2 251.2,940.9 250.4,886 250.4,940.2 250.5,898.5 251.4,895 251.1,944.6 250.5,892 250.9,899.9 252.2,899.3 252.5,897.7 252.9,938.8 252,897.3 252.7,939.2 253.1,893.9 253.6,896.4 253.3,885.5 253.3,938.7 254.5,949.3 255.3,896.7 255.1,947.6 254.6,938.7 256.6,891.7 256,945.1 256.4,890.2 255.8,887.4 256.4,940.6 256,943.5 255.9,891.9 256.4,941.8 257.3,891 257.2,894.2 259.7,891.3 259.6,939.9 259.7,889.5 258.6,891.5 259.4,942.2 260.9,895.5 260.5,890.7 260.2,941.4 260.4,939.7 260,941 261,898.7 262.4,895.3 261.5,899.1 262.4,890.6 262.1,950.2 261.6,945 262.7,941.9 262.8,940.5 262.6,892.7 263.6,940 263.6,938.4 263.4,941.5 263.9,893.3 264.6,894.2 264.5,951.6 266,895.3 265.6,895.9 265.7,937.5 266.2,894.7 265.4,936.9 265.7,894.4 266.1,937.9 267.3,894 266.9,888.9 266.6,943.9 267.7,942.6 267.8,941 268.7,943.9 268.6,898.4 268.9,900.1 268.6,896 268.7,890.3 269.9,940.8 269.4,942.6 270.3,938.9 270.4,889.3 270.5,943.4 269.4,938 270.5,897.5 269.8,899.4 269.5,938.4 271,894.3 271.5,939.4 271.8,947.5 271.5,892.6 271.2,937.5 272.2,896.6 273.2,942.6 272.9,936.8 274,947.9 274.2,892.1 274,891 274.2,898.2 273.6,950 273.8,939.3 274,945 274.2,943.4 274,937.4 276.5,895.6 276.2,896.4 276.1,938.9 277.4,941.1 277,946.1 277.3,938.2 276.1,893.2 278.3,899.1 277.7,936.8 278.3,937.4 278.6,896.6 278.3,898 277.6,937.3 278.1,894.1 278.5,941.5 279,935.7 279.6,937.2 279.5,945.2 280.8,895.8 281.5,943.2 280.3,898.4 281.2,900 281.5,952.3 280.7,936 282,937.2 282,941.4 282.3,890.5 282.3,901 282.1,894.4 282.3,898.6 283.7,947.1 283.3,899 283.2,901.5 283.4,938.1 283.1,939.2 283.8,942 285.1,899.9 284.4,900.4 285.4,938.5 285.8,939.1 286.8,898.3 286.4,943.3 286.2,940 285.9,942.2 288.3,898.8 287.6,903 287.8,893.5 287.3,901.8 289.3,937.2 289.1,933.1 289.4,888.9 288.4,938.6 289.1,946 289.3,940.3 289.5,896.9 290.3,901 289.7,902.4 290.6,900.7 290.4,891.4 290.4,935.8 290.8,939.7 290.7,903.5 289.9,939.3 291,941.7 292.2,946.5 291.2,934.3 292,893.2 291.8,937 292.2,937.4 291.4,903.8 292.3,901.6 292.5,947.9 293.5,938.9 293.5,901.6 292.4,934.8 292.8,953.9 293.3,944.2 292.8,893.7 292.5,897.9 293.8,942.9 294,931.7 294.5,937.8 295,899.8 296.4,933.3 295.3,899.7 295.5,931.6 295.6,892.4 295.7,898.7 295.3,937 295.2,900.9 296.3,940.7 296.2,900.4 297,937.2 297.5,897.7 296.7,899.1 297,938.1 296.9,894.4 296.7,947.1 297.6,883.2 296.7,897 297.7,938.4 299,904.3 299,900.4 298.1,945.5 298.7,945 298.7,901.2 299.1,938.3 298.4,935.6 298.5,896.5 300.3,935.5 300.5,886.8 300.7,901.5 301.1,903.4 301.2,894.4 301.5,936 301.1,937.9 301.5,901.2 302.7,904.5 302.3,903.9 302.7,901.9 302.9,902.8 302.9,887.8 303,891.1 304.1,934.8 304.6,933.6 304.4,895.2 303.9,937.9 304.5,935.8 305.8,902.8 305.5,901.2 305.3,944.3 305.7,906.7 305.6,905.3 304.7,932.3 305.2,898.4 304.7,940.7 306,937.1 306.7,903.4 306.4,939.8 306.2,906.7 306.9,900.4 308.3,935.2 308,890.6 307.4,893.7 308.3,901.8 308.7,892 307.5,898.7 308.7,902.2 307.8,942.2 307.9,937.7 308.2,941.2 307.5,943.3 309,912.2 309.3,908.6 308.8,943.8 309.2,933.5 309.3,943.6 310.9,933.2 311,932.5 311.3,950.2 310.2,902.7 311.7,905.8 312.1,898.7 312.7,945.6 311.9,902.2 311.9,908.1 312.8,938.6 313.7,934.7 313.4,935.7 313.9,936.7 314.5,933.3 314.9,899.4 314.7,906.4 314.2,890.6 315.5,904.4 315.4,905.6 315.9,938.4 316.3,905.7 316.9,935.4 316.8,936.6 317,895.5 318,938.4 317.3,902.9 318.2,907.5 317.6,936.3 317.8,941.4 318,945.5 319.2,934.9 319.5,906 319.2,908.8 318.7,892.9 319.5,899.1 318.5,932.5 319.3,940.6 319.8,891.4 320.3,898.7 319.7,931.6 320.1,903.1 319.9,889.1 319.9,907.9 322,902.7 321.1,930.8 321.7,907.8 322,901.7 321.4,934.8 321.4,901.1 322.9,898.2 322.6,932.6 323,904.7 323.2,929.8 323.2,888.8 323.6,898.3 323.2,907.1 324.3,900.7 323.7,900.7 323.7,906.4 324,906.2 323.9,929 324.4,930.1 324.9,898 325.8,929.8 325.6,907.5 325.5,906.2 325.6,940.6 327.4,913.5 326.7,928.6 326.9,903.5 327.1,891.8 327.5,908.5 326.9,927.5 327.5,906.7 326.9,930.9 329,905.2 328.3,901.3 328.6,909.2 328.1,932.8 328.2,938.3 330.4,906.7 329.8,909.6 329.8,897.5 329.2,937.1 329.7,932.7 330.1,896.8 329.9,907.3 330.8,930.5 331.8,897 331.2,932.7 331,937.8 331.6,894.1 330.8,929.8 330.6,931.2 332.7,936.4 333.2,929.1 332.2,911.1 332.5,905.7 332.1,904.7 333.2,910.3 332.7,929.2 332.6,937.5 334,897.8 333.3,905.5 333.9,939.1 334.5,938.9 333.4,904 334.3,915.9 334.7,899.5 335,896.2 335,928.1 334.9,909.1 335.9,933.8 335.6,900.7 335.2,911.2 335.3,914 334.8,913.9 335.1,908.2 335.7,909.9 336.1,905.4 336.9,914.7 336.3,925.6 337.1,902.8 336.6,930.7 336.1,913.8 337,926.5 336.1,908.9 337.1,939.7 336,934.6 336.2,912.2 336.2,927.6 338.4,916.7 337.5,888.6 337.4,925.8 338.6,909.2 337.8,924.5 337.7,917.1 339.8,910.6 339.5,908.1 339.1,929.5 339.1,918.7 339.3,934.8 339.2,931.4 339.1,897.8 339.7,913.2 338.8,939.5 341.1,928.7 340.2,936.9 341.2,931.2 340.1,914.9 341.2,925.5 341.4,903.6 340.5,901 341.1,905.6 341.8,927.8 342.4,929.6 341.7,908.4 342.1,925 341.6,907.5 341.9,906.7 341.5,924.5 342.4,893.7 341.9,926.6 344,909.2 344,907.4 343.6,925.8 343.3,935.3 344.7,911.1 344.4,933.8 346.4,919.1 346.3,927.9 346.2,915.1 346.6,897.4 345.5,939.5 345.9,928.1 345.4,919.6 346,910.4 346.1,909.8 346.6,904.3 346.9,903 348.1,921.8 347,936.7 347.7,906.2 347,919 347.2,909.5 347.9,921.8 347.7,926.6 348.1,898 347.9,900.6 348.8,933.2 348.4,909 349,911.8 349.5,921.8 348.3,895.8 349,923.5 348.8,929.1 348.2,931.8 349,925.2 349.8,909.8 349.7,910.8 350.2,934.5 350.7,924.7 351.6,918.8 352,930 351.6,910.6 352.2,912.1 351.4,922.5 352.6,919.9 352.4,922.5 353,913.7 352.6,924.2 352.4,911.5 353.1,920.4 352.4,934.2 353.8,923.2 354.5,928.2 353.7,932.2 354.2,906 354,922.8 354.8,913.3 353.8,929.4 355,900.8 356,898.9 355.9,916.5 356.3,912.9 355.2,933.8 355.1,910.8 356.3,911.2 356.2,910.3 355.7,916 356.2,924.1 356.7,928.8 356.6,927.1 357.1,927.6 357.1,904.9 356.9,934.2 357.1,924.3 357.1,912.2 357.1,909.3 357.8,915.6 358.5,925.2 358.5,917.4 358.6,928.8 358.4,930.1 357.8,914.2 358,924.2 360.3,916.9 359.2,913.4 359.1,908 359.2,921.4 359.4,924.3 359.8,919.6 359.1,915.1 360.3,926.7 359.6,920 360.4,917.7 361.2,930.9 361.6,915.6 360.9,929.9 360.4,914 361.7,933.9 360.4,905.4 362.2,927.4 362.8,930.1 362.2,912.3 362.8,933.2 362.2,917.7 362.7,907.2 361.7,925.5 362.5,921.7 362.3,918.2 364.3,908.3 364.1,924.7 363.4,928.1 364.4,920.3 363.9,917.6 363.7,909.2 364.3,925.9 363.2,919.5 363.2,930.1 364.4,913.5 363.3,925.6 363.7,911.1 365.2,911.3 365.7,920.7 365.5,934.6 365.4,915.7 365.1,910.8 366.4,932.4 366.9,922.4 366.8,927.2 366.1,936.3 366.8,913.8 366.3,941.3 366.6,916.5 366,931.3 367.9,920.5 368.5,916.1 367.9,924.6 368.4,932.6 368.3,940.9 367.4,908.2 367.9,929.7 369.7,929.3 368.8,930.2 368.7,899.4 369,911.8 369.5,928.2 369,929.6 369.5,919.7 369.3,922 368.9,912.6 370.6,927.7 371.2,914.7 370.7,920.3 370.8,933 369.9,918.2 370.5,908.4 370.1,918 370,924.7 370.2,897.4 370.3,926 372.3,931.4 372.1,918.3 371.8,924.6 371.3,916.6 371.5,926.9 372.2,904.5 372,919.9 372.3,914.1 371.4,929.5 372.2,920.5 372.5,925.4 371.3,923.7 373.7,909.7 372.7,909.2 373.9,934.5 373.9,926.7 373.8,908.7 372.8,927.8 375.1,917.3 375.1,920.8 375.2,915.3 375.2,927.9 374.3,914.6 376.4,922.4 375.3,919.9 376.6,909.4 376.5,911.9 375.7,906.9 376.1,893.1 376,923.9 377.8,924.4 377.2,926.8 376.9,916.9 377.9,935.7 378.6,908.8 379.3,918.6 378.7,927.4 378.5,940.7 380.4,925.4 380.1,918.8 380.5,913.2 380.5,917.7 380.7,927 382,926.5 381.3,916 381.7,905.2 381.7,921.2 381.4,928.9 381.5,929.8 382.6,919.2 383.1,940.4 382.5,929.3 383,925.7 382.4,911.8 383,919.4 384.5,909.4 384.4,929.5 384.1,915.1 384.6,928.5 384.4,896.5 385.9,909.6 385.4,920.4 386,917.3 386.1,909.3 386,926.5 387.4,926.2 386.4,928.9 386.4,916.6 387.3,913.3 386.2,920.7 387.1,909.8 388.8,932.8 388.7,908.4 387.9,906.9 388.4,905.7 388.3,935.3 388.4,923.4 389.9,919.8 389.4,936.4 389.5,918.3 389.7,920.9 389.2,928.7 390.1,930.1 389.9,906 389.6,934.7 389.1,912 390.9,907.1 391.5,930.9 391.3,914.6 390.8,939 391.4,906.7 391,915 391.3,905.1 392.6,923 392.9,909.1 392.8,904.1 393.8,914.9 393.9,913.1 393.9,906.8 394.6,934.9 395.5,901 397,921.5 396.8,924.4 396.9,911.7 397.2,909.2 398.3,923 397.5,926 398.8,933.2 398.9,910.8 398.7,909.9 399.1,926 399,918.3 398.8,922.6 400.2,915.2 400.7,918.1 401.1,925.1 400.8,921 399.9,929.2 401.8,918.3 401.6,923.1 401.3,915.6 402.6,927.3 403.7,926.5 405.2,924.9 404.5,893.4 404.2,919 404.8,923.5 404.7,943.5 406.5,911.5 406.1,929.8 405.8,912.1 406.6,926.6 407.5,913.5 406.7,901.5 407.8,930 407.4,934.8 406.8,921.3 408.7,925.2 409.1,917.4 410.5,923.8 409.4,922.5 409.4,912.2 410.6,934.8 411.7,924.7 411.5,923.4 411.5,926 411.1,934.8 412.8,913.7 413,920.8 413.1,908.4 412.8,922.6 413.2,931.7 414.5,927.9 413.6,921.1 414.7,928.8 414.3,932.5 414.7,893.2 413.8,914.4 415.8,918.1 416,932 417.1,939.4 416.6,919.6 417.3,930.5 416.9,927.5 417.9,902 417.5,937 418.4,901.4 418.1,900.8 419.9,920.6 421.1,919.7 420.5,913.1 421.3,911.7 421.7,923.2 421.9,929.6 422.3,916.5 422.8,919.7 421.6,935.9 424,924.1 425.1,912.9 425.4,913.3 424.7,921.3 424.6,917.8 426.8,920.5 426.9,915.5 427.9,912.4 429.3,938.2 429.4,908 430,926.9 430,921.9 432.3,923.6 434.9,946.4 434.4,910.4 434.9,932.4 434.5,918.3 435.1,922.4 435.2,915.8 435.6,928.8 436.5,911.4 435.5,913.2 438.4,923.8 438.5,915.3 438.1,917.9 439.8,906.5 440.8,910.5 440.7,910 440.8,925.1 442.3,931.4 442.3,915.4 444.4,920.1 443.3,930 443.7,911.4 444.4,915.1 444.7,919.5 445.9,917.1 445,912.3 447.2,909.2 446.4,926.7 448.5,927.2 449,920.2 449.7,941.4 451.2,907.3 451.2,931.1 453.3,923.5 453.9,918.7 454.5,912.9 454.7,919.6 456.9,927 458.7,919.2 460.4,891.7 461.7,906.1 462.2,928.1 463.1,917.2 466.9,920.8 469.9,920 470.5,921.8 471.6,896.1 473.5,923.6 474.3,921.1 475.6,912.3 475.3,907.8 475.1,922.8 475.4,903.7 478.6,914 479.6,926.1 479.2,932.9 481.2,915.9 483.5,910.3 485.4,934 485.1,914.8 487.1,915.8 487.1,920.1 487.6,913.5 493.6,924.7 495.2,941.1 501.1,900.3 502.8,914.9 512,920.5 513.7,924.5 520,911.6 526,924.5 540.4,917.1 546.9,900.3 577.5,924.2 462.3,968.8 437.9,957.4 443.3,953.8 432.4,948.5 428.4,942.4 509.9,942.4 519.4,936.3 470.5,887.6 414.8,890.8 408,893.7 190.5,961.9 167.4,873.4 191.8,876.2 206.8,873.4 209.5,873.8 240.8,878.2 254.4,885.5 303.3,881.5 326.4,887.6 326.4,954.6 258.4,956.6 387.6,891.6 360.4,893.7 489.5,928.2 530.3,903.8 475.9,911.9 482.7,920.1 503.1,914 543.9,916 557.5,918 516.7,924.1 496.3,907.9" fill="none" stroke="none" marker-start="url(#ms)" marker-mid="url(#ms)" marker-end="url(#ms)"/>
<line x1="122.5" y1="906.1" x2="585.5" y2="906.1" stroke="#000" stroke-width="2.0" stroke-dasharray="2.2 1.6" />
<line x1="122.5" y1="896.1" x2="585.5" y2="896.1" stroke="#000" stroke-width="2.2" stroke-dasharray="13 5.5" />
<line x1="122.5" y1="925.9" x2="585.5" y2="925.9" stroke="#000" stroke-width="2.0" stroke-dasharray="2.2 1.6" />
<line x1="122.5" y1="935.9" x2="585.5" y2="935.9" stroke="#000" stroke-width="2.2" stroke-dasharray="13 5.5" />
<rect x="585.5" y="875.4" width="3.8" height="20.3" fill="#999" stroke="#000" stroke-width="1.1"/>
<rect x="585.5" y="895.7" width="189.4" height="20.3" fill="#999" stroke="#000" stroke-width="1.1"/>
<rect x="585.5" y="916.0" width="180.5" height="20.3" fill="#999" stroke="#000" stroke-width="1.1"/>
<rect x="585.5" y="936.3" width="11.9" height="20.3" fill="#999" stroke="#000" stroke-width="1.1"/>
<line x1="122.5" y1="916.0" x2="585.5" y2="916.0" stroke="#000" stroke-width="2.0" />
<line x1="122.5" y1="814.5" x2="787.5" y2="814.5" stroke="#cfcfcf" stroke-width="1" />
<line x1="122.5" y1="814.5" x2="122.5" y2="1017.5" stroke="#f0f0f0" stroke-width="1" />
<line x1="585.5" y1="814.5" x2="585.5" y2="1017.5" stroke="#c4c4c4" stroke-width="1" />
<line x1="787.5" y1="814.5" x2="787.5" y2="1017.5" stroke="#c4c4c4" stroke-width="1" />
<line x1="121.9" y1="1017.5" x2="788.1" y2="1017.5" stroke="#111" stroke-width="1.0" />
<line x1="122.5" y1="1017.5" x2="122.5" y2="1013.5" stroke="#000" stroke-width="1.5" />
<line x1="122.5" y1="814.5" x2="122.5" y2="818.5" stroke="#000" stroke-width="1.5" />
<line x1="190.5" y1="1017.5" x2="190.5" y2="1013.5" stroke="#000" stroke-width="1.5" />
<line x1="190.5" y1="814.5" x2="190.5" y2="818.5" stroke="#000" stroke-width="1.5" />
<line x1="258.4" y1="1017.5" x2="258.4" y2="1013.5" stroke="#000" stroke-width="1.5" />
<line x1="258.4" y1="814.5" x2="258.4" y2="818.5" stroke="#000" stroke-width="1.5" />
<line x1="326.4" y1="1017.5" x2="326.4" y2="1013.5" stroke="#000" stroke-width="1.5" />
<line x1="326.4" y1="814.5" x2="326.4" y2="818.5" stroke="#000" stroke-width="1.5" />
<line x1="394.4" y1="1017.5" x2="394.4" y2="1013.5" stroke="#000" stroke-width="1.5" />
<line x1="394.4" y1="814.5" x2="394.4" y2="818.5" stroke="#000" stroke-width="1.5" />
<line x1="462.3" y1="1017.5" x2="462.3" y2="1013.5" stroke="#000" stroke-width="1.5" />
<line x1="462.3" y1="814.5" x2="462.3" y2="818.5" stroke="#000" stroke-width="1.5" />
<line x1="530.3" y1="1017.5" x2="530.3" y2="1013.5" stroke="#000" stroke-width="1.5" />
<line x1="530.3" y1="814.5" x2="530.3" y2="818.5" stroke="#000" stroke-width="1.5" />
<line x1="122.5" y1="1017.5" x2="126.5" y2="1017.5" stroke="#000" stroke-width="1.5" />
<line x1="585.5" y1="1017.5" x2="581.5" y2="1017.5" stroke="#000" stroke-width="1.5" />
<line x1="122.5" y1="997.2" x2="126.5" y2="997.2" stroke="#000" stroke-width="1.5" />
<line x1="585.5" y1="997.2" x2="581.5" y2="997.2" stroke="#000" stroke-width="1.5" />
<line x1="122.5" y1="976.9" x2="126.5" y2="976.9" stroke="#000" stroke-width="1.5" />
<line x1="585.5" y1="976.9" x2="581.5" y2="976.9" stroke="#000" stroke-width="1.5" />
<line x1="122.5" y1="956.6" x2="126.5" y2="956.6" stroke="#000" stroke-width="1.5" />
<line x1="585.5" y1="956.6" x2="581.5" y2="956.6" stroke="#000" stroke-width="1.5" />
<line x1="122.5" y1="936.3" x2="126.5" y2="936.3" stroke="#000" stroke-width="1.5" />
<line x1="585.5" y1="936.3" x2="581.5" y2="936.3" stroke="#000" stroke-width="1.5" />
<line x1="122.5" y1="916.0" x2="126.5" y2="916.0" stroke="#000" stroke-width="1.5" />
<line x1="585.5" y1="916.0" x2="581.5" y2="916.0" stroke="#000" stroke-width="1.5" />
<line x1="122.5" y1="895.7" x2="126.5" y2="895.7" stroke="#000" stroke-width="1.5" />
<line x1="585.5" y1="895.7" x2="581.5" y2="895.7" stroke="#000" stroke-width="1.5" />
<line x1="122.5" y1="875.4" x2="126.5" y2="875.4" stroke="#000" stroke-width="1.5" />
<line x1="585.5" y1="875.4" x2="581.5" y2="875.4" stroke="#000" stroke-width="1.5" />
<line x1="122.5" y1="855.1" x2="126.5" y2="855.1" stroke="#000" stroke-width="1.5" />
<line x1="585.5" y1="855.1" x2="581.5" y2="855.1" stroke="#000" stroke-width="1.5" />
<line x1="122.5" y1="834.8" x2="126.5" y2="834.8" stroke="#000" stroke-width="1.5" />
<line x1="585.5" y1="834.8" x2="581.5" y2="834.8" stroke="#000" stroke-width="1.5" />
<line x1="122.5" y1="814.5" x2="126.5" y2="814.5" stroke="#000" stroke-width="1.5" />
<line x1="585.5" y1="814.5" x2="581.5" y2="814.5" stroke="#000" stroke-width="1.5" />
<line x1="585.5" y1="1017.5" x2="585.5" y2="1013.5" stroke="#000" stroke-width="1.5" />
<line x1="585.5" y1="814.5" x2="585.5" y2="818.5" stroke="#000" stroke-width="1.5" />
<line x1="636.0" y1="1017.5" x2="636.0" y2="1013.5" stroke="#000" stroke-width="1.5" />
<line x1="636.0" y1="814.5" x2="636.0" y2="818.5" stroke="#000" stroke-width="1.5" />
<line x1="686.5" y1="1017.5" x2="686.5" y2="1013.5" stroke="#000" stroke-width="1.5" />
<line x1="686.5" y1="814.5" x2="686.5" y2="818.5" stroke="#000" stroke-width="1.5" />
<line x1="737.0" y1="1017.5" x2="737.0" y2="1013.5" stroke="#000" stroke-width="1.5" />
<line x1="737.0" y1="814.5" x2="737.0" y2="818.5" stroke="#000" stroke-width="1.5" />
<line x1="787.5" y1="1017.5" x2="787.5" y2="1013.5" stroke="#000" stroke-width="1.5" />
<line x1="787.5" y1="814.5" x2="787.5" y2="818.5" stroke="#000" stroke-width="1.5" />
<line x1="585.5" y1="1017.5" x2="589.5" y2="1017.5" stroke="#000" stroke-width="1.5" />
<line x1="787.5" y1="1017.5" x2="783.5" y2="1017.5" stroke="#000" stroke-width="1.5" />
<line x1="585.5" y1="997.2" x2="589.5" y2="997.2" stroke="#000" stroke-width="1.5" />
<line x1="787.5" y1="997.2" x2="783.5" y2="997.2" stroke="#000" stroke-width="1.5" />
<line x1="585.5" y1="976.9" x2="589.5" y2="976.9" stroke="#000" stroke-width="1.5" />
<line x1="787.5" y1="976.9" x2="783.5" y2="976.9" stroke="#000" stroke-width="1.5" />
<line x1="585.5" y1="956.6" x2="589.5" y2="956.6" stroke="#000" stroke-width="1.5" />
<line x1="787.5" y1="956.6" x2="783.5" y2="956.6" stroke="#000" stroke-width="1.5" />
<line x1="585.5" y1="936.3" x2="589.5" y2="936.3" stroke="#000" stroke-width="1.5" />
<line x1="787.5" y1="936.3" x2="783.5" y2="936.3" stroke="#000" stroke-width="1.5" />
<line x1="585.5" y1="916.0" x2="589.5" y2="916.0" stroke="#000" stroke-width="1.5" />
<line x1="787.5" y1="916.0" x2="783.5" y2="916.0" stroke="#000" stroke-width="1.5" />
<line x1="585.5" y1="895.7" x2="589.5" y2="895.7" stroke="#000" stroke-width="1.5" />
<line x1="787.5" y1="895.7" x2="783.5" y2="895.7" stroke="#000" stroke-width="1.5" />
<line x1="585.5" y1="875.4" x2="589.5" y2="875.4" stroke="#000" stroke-width="1.5" />
<line x1="787.5" y1="875.4" x2="783.5" y2="875.4" stroke="#000" stroke-width="1.5" />
<line x1="585.5" y1="855.1" x2="589.5" y2="855.1" stroke="#000" stroke-width="1.5" />
<line x1="787.5" y1="855.1" x2="783.5" y2="855.1" stroke="#000" stroke-width="1.5" />
<line x1="585.5" y1="834.8" x2="589.5" y2="834.8" stroke="#000" stroke-width="1.5" />
<line x1="787.5" y1="834.8" x2="783.5" y2="834.8" stroke="#000" stroke-width="1.5" />
<line x1="585.5" y1="814.5" x2="589.5" y2="814.5" stroke="#000" stroke-width="1.5" />
<line x1="787.5" y1="814.5" x2="783.5" y2="814.5" stroke="#000" stroke-width="1.5" />
<text x="122.5" y="1035.3" font-size="18.5" text-anchor="middle" >0</text>
<text x="190.5" y="1035.3" font-size="18.5" text-anchor="middle" >50</text>
<text x="258.4" y="1035.3" font-size="18.5" text-anchor="middle" >100</text>
<text x="326.4" y="1035.3" font-size="18.5" text-anchor="middle" >150</text>
<text x="394.4" y="1035.3" font-size="18.5" text-anchor="middle" >200</text>
<text x="462.3" y="1035.3" font-size="18.5" text-anchor="middle" >250</text>
<text x="530.3" y="1035.3" font-size="18.5" text-anchor="middle" >300</text>
<text x="585.5" y="1035.3" font-size="18.5" text-anchor="middle" >0</text>
<text x="636.0" y="1035.3" font-size="18.5" text-anchor="middle" >2000</text>
<text x="686.5" y="1035.3" font-size="18.5" text-anchor="middle" >4000</text>
<text x="737.0" y="1035.3" font-size="18.5" text-anchor="middle" >6000</text>
<text x="787.5" y="1035.3" font-size="18.5" text-anchor="middle" >8000</text>
<text x="117.3" y="1024.4" font-size="18.5" text-anchor="end" >−2.5</text>
<text x="117.3" y="1004.1" font-size="18.5" text-anchor="end" >−2.0</text>
<text x="117.3" y="983.8" font-size="18.5" text-anchor="end" >−1.5</text>
<text x="117.3" y="963.5" font-size="18.5" text-anchor="end" >−1.0</text>
<text x="117.3" y="943.2" font-size="18.5" text-anchor="end" >−0.5</text>
<text x="117.3" y="922.9" font-size="18.5" text-anchor="end" >0.0</text>
<text x="117.3" y="902.6" font-size="18.5" text-anchor="end" >0.5</text>
<text x="117.3" y="882.3" font-size="18.5" text-anchor="end" >1.0</text>
<text x="117.3" y="862.0" font-size="18.5" text-anchor="end" >1.5</text>
<text x="117.3" y="841.7" font-size="18.5" text-anchor="end" >2.0</text>
<text x="117.3" y="821.4" font-size="18.5" text-anchor="end" >2.5</text>
<text x="354.5" y="1056.3" font-size="18.6" text-anchor="middle" >Epicentral distance (km)</text>
<text x="685.5" y="1056.3" font-size="18.6" text-anchor="middle" >Number of records</text>
<text x="63.5" y="823.7" font-size="20" text-anchor="start" >(d)</text>
<line x1="394.5" y1="916.0" x2="394.5" y2="916.0" stroke="#000" stroke-width="0" />
<line x1="393.7" y1="835.0" x2="450.5" y2="835.0" stroke="#000" stroke-width="2.0" stroke-dasharray="2.2 1.6" />
<line x1="394.5" y1="860.0" x2="440.0" y2="860.0" stroke="#000" stroke-width="2.2" stroke-dasharray="13 5.5" />
<line x1="447.0" y1="860.0" x2="449.0" y2="860.0" stroke="#000" stroke-width="2.2" />
<text x="453.5" y="841.5" font-size="19.2" text-anchor="start" >±1σ</text>
<text x="453.5" y="866.5" font-size="19.2" text-anchor="start" >±2σ</text>
<text transform="translate(76.5,915.5) rotate(-90)" font-size="18.5" text-anchor="middle">Log<tspan font-size="13" dy="5">10</tspan><tspan dy="-5">(PGV</tspan><tspan font-size="13" dy="5">pre</tspan><tspan dy="-5">/PGV</tspan><tspan font-size="13" dy="5">obs</tspan><tspan dy="-5">)</tspan></text>
<polygon fill="#bebebe" points="124,1164.5 125,1163.5 126,1162.5 127,1158.5 128,1158.5 129,1158.5 130,1158.5 131,1153.5 132,1151.5 133,1152.5 134,1150.5 135,1150.5 136,1150.5 137,1150.5 138,1150.5 139,1150.5 140,1150.5 141,1150.5 142,1150.5 143,1149.5 144,1149.5 145,1149.5 146,1149.5 147,1149.5 148,1149.5 149,1148.5 150,1148.5 151,1148.5 152,1147.5 153,1148.5 154,1148.5 155,1148.5 156,1142.5 157,1149.5 158,1151.5 159,1150.5 160,1150.5 161,1151.5 162,1151.5 163,1150.5 164,1152.5 165,1152.5 166,1153.5 167,1153.5 168,1153.5 169,1153.5 170,1153.5 171,1153.5 172,1152.5 173,1150.5 174,1149.5 175,1149.5 176,1149.5 177,1149.5 178,1149.5 179,1146.5 180,1152.5 181,1151.5 182,1152.5 183,1152.5 184,1152.5 185,1152.5 186,1150.5 187,1152.5 188,1152.5 189,1152.5 190,1151.5 191,1152.5 192,1151.5 193,1152.5 194,1152.5 195,1153.5 196,1154.5 197,1147.5 198,1147.5 199,1147.5 200,1147.5 201,1149.5 202,1150.5 203,1151.5 204,1151.5 205,1150.5 206,1150.5 207,1150.5 208,1150.5 209,1152.5 210,1152.5 211,1152.5 212,1150.5 213,1151.5 214,1150.5 215,1150.5 216,1150.5 217,1151.5 218,1150.5 219,1151.5 220,1151.5 221,1151.5 222,1151.5 223,1152.5 224,1153.5 225,1152.5 226,1151.5 227,1151.5 228,1150.5 229,1150.5 230,1149.5 231,1151.5 232,1151.5 233,1152.5 234,1152.5 235,1152.5 236,1151.5 237,1151.5 238,1151.5 239,1149.5 240,1151.5 241,1151.5 242,1150.5 243,1150.5 244,1153.5 245,1150.5 246,1150.5 247,1150.5 248,1150.5 249,1149.5 250,1153.5 251,1153.5 252,1152.5 253,1152.5 254,1153.5 255,1150.5 256,1151.5 257,1151.5 258,1148.5 259,1152.5 260,1153.5 261,1153.5 262,1153.5 263,1153.5 264,1152.5 265,1152.5 266,1152.5 267,1153.5 268,1154.5 269,1154.5 270,1154.5 271,1154.5 272,1154.5 273,1151.5 274,1151.5 275,1151.5 276,1151.5 277,1151.5 278,1151.5 279,1153.5 280,1153.5 281,1150.5 282,1153.5 283,1153.5 284,1153.5 285,1155.5 286,1156.5 287,1156.5 288,1157.5 289,1157.5 290,1157.5 291,1157.5 292,1157.5 293,1156.5 294,1157.5 295,1157.5 296,1156.5 297,1156.5 298,1156.5 299,1156.5 300,1156.5 301,1158.5 302,1157.5 303,1157.5 304,1158.5 305,1156.5 306,1155.5 307,1156.5 308,1156.5 309,1159.5 310,1162.5 311,1162.5 312,1159.5 313,1162.5 314,1162.5 315,1162.5 316,1162.5 317,1162.5 318,1161.5 319,1162.5 320,1161.5 321,1161.5 322,1161.5 323,1162.5 324,1162.5 325,1162.5 326,1164.5 327,1164.5 328,1164.5 329,1166.5 330,1166.5 331,1163.5 332,1163.5 333,1167.5 334,1172.5 335,1165.5 335,1183.5 334,1184.5 333,1183.5 332,1183.5 331,1184.5 330,1183.5 329,1183.5 328,1186.5 327,1184.5 326,1184.5 325,1184.5 324,1184.5 323,1184.5 322,1184.5 321,1184.5 320,1190.5 319,1189.5 318,1191.5 317,1192.5 316,1192.5 315,1192.5 314,1193.5 313,1193.5 312,1193.5 311,1195.5 310,1195.5 309,1189.5 308,1189.5 307,1192.5 306,1193.5 305,1192.5 304,1192.5 303,1197.5 302,1194.5 301,1198.5 300,1198.5 299,1198.5 298,1196.5 297,1198.5 296,1196.5 295,1196.5 294,1195.5 293,1192.5 292,1192.5 291,1192.5 290,1192.5 289,1194.5 288,1195.5 287,1195.5 286,1198.5 285,1197.5 284,1197.5 283,1195.5 282,1197.5 281,1197.5 280,1197.5 279,1197.5 278,1197.5 277,1197.5 276,1197.5 275,1197.5 274,1197.5 273,1197.5 272,1197.5 271,1198.5 270,1197.5 269,1199.5 268,1197.5 267,1201.5 266,1202.5 265,1202.5 264,1202.5 263,1202.5 262,1202.5 261,1201.5 260,1201.5 259,1200.5 258,1200.5 257,1201.5 256,1202.5 255,1202.5 254,1202.5 253,1203.5 252,1201.5 251,1201.5 250,1201.5 249,1203.5 248,1200.5 247,1201.5 246,1203.5 245,1203.5 244,1201.5 243,1201.5 242,1202.5 241,1202.5 240,1202.5 239,1200.5 238,1202.5 237,1200.5 236,1201.5 235,1201.5 234,1203.5 233,1203.5 232,1204.5 231,1204.5 230,1203.5 229,1203.5 228,1203.5 227,1203.5 226,1202.5 225,1203.5 224,1202.5 223,1202.5 222,1201.5 221,1201.5 220,1200.5 219,1199.5 218,1202.5 217,1204.5 216,1202.5 215,1203.5 214,1204.5 213,1205.5 212,1205.5 211,1205.5 210,1205.5 209,1204.5 208,1203.5 207,1203.5 206,1203.5 205,1203.5 204,1203.5 203,1199.5 202,1199.5 201,1199.5 200,1199.5 199,1205.5 198,1205.5 197,1205.5 196,1206.5 195,1206.5 194,1204.5 193,1206.5 192,1203.5 191,1203.5 190,1202.5 189,1201.5 188,1201.5 187,1200.5 186,1200.5 185,1200.5 184,1204.5 183,1204.5 182,1202.5 181,1202.5 180,1202.5 179,1201.5 178,1200.5 177,1200.5 176,1201.5 175,1202.5 174,1202.5 173,1202.5 172,1202.5 171,1202.5 170,1201.5 169,1201.5 168,1203.5 167,1199.5 166,1200.5 165,1201.5 164,1201.5 163,1201.5 162,1202.5 161,1202.5 160,1201.5 159,1201.5 158,1200.5 157,1200.5 156,1199.5 155,1200.5 154,1200.5 153,1200.5 152,1200.5 151,1200.5 150,1200.5 149,1202.5 148,1201.5 147,1201.5 146,1205.5 145,1204.5 144,1203.5 143,1204.5 142,1204.5 141,1203.5 140,1197.5 139,1198.5 138,1198.5 137,1201.5 136,1201.5 135,1204.5 134,1204.5 133,1202.5 132,1196.5 131,1195.5 130,1195.5 129,1194.5 128,1194.5 127,1193.5 126,1194.5 125,1193.5 124,1192.5"/>
<polygon fill="#bebebe" points="339,1169.5 340,1169.5 341,1169.5 342,1169.5 343,1169.5 344,1170.5 344,1186.5 343,1195.5 342,1195.5 341,1195.5 340,1195.5 339,1195.5"/>
<polyline points="123.3,1177.2 122.5,1207.6 122.7,1186.4 122.6,1187.4 122.7,1172.2 123.8,1194.5 123.3,1182 123,1184.1 123.2,1192.5 123.4,1147.4 124.1,1192.3 124.3,1163.3 124.7,1155.7 124.2,1194 124,1164.1 126.4,1157.5 125.5,1153.3 125.2,1164.8 125.3,1155 126,1199.1 125.3,1165 127,1195.2 127.9,1153.5 126.6,1159.4 127.3,1191.6 127.5,1143.9 127.6,1194.2 128.2,1158.9 128.4,1193.7 128.3,1150.1 128.8,1160.3 128.5,1157.2 129.5,1208.4 129.8,1196.9 130.2,1154.3 130.4,1207.9 129.8,1202.2 129.4,1194.3 130,1195.6 130.6,1204.4 130.9,1208.2 131.7,1197.4 130.8,1205.1 131.1,1200 131.5,1200.5 131.4,1195.4 132.9,1153.9 132.1,1198 132.5,1152.3 132,1202.1 133.2,1201.9 132.5,1203.9 134.6,1202.8 134.6,1209.2 134.3,1148.4 136,1150.2 135.4,1148.7 135.1,1149.2 135.4,1203 136,1202.6 136,1150.5 136.9,1206.6 136.3,1201.6 136.2,1220.5 136.9,1137.5 136.5,1148.6 136.2,1149.4 138.8,1146.1 137.6,1148.3 137.7,1216.7 137.5,1204.7 138.6,1150.7 138.1,1145.1 138.4,1198.9 138.5,1197.5 139.7,1211.4 139.7,1202.1 140,1198 140.3,1196.1 140.3,1202.6 141.2,1148.8 141.1,1202 140.7,1204.8 140.8,1148.3 141.1,1205.8 140.2,1151.6 141,1203 142.4,1152.2 141.6,1218.2 142.7,1203.4 142.8,1213.1 142.2,1145.5 143.5,1148.2 143.8,1203.2 144,1149.4 143.5,1202.6 143,1150.3 143.4,1145.1 145.3,1145.5 145,1151.1 144.5,1204.8 144.3,1202.8 146.5,1201.7 146.4,1144.6 146.3,1151.2 145.8,1204.5 145.9,1207.2 146.5,1203.1 145.9,1141.4 147.8,1149.7 147.8,1148.8 147.1,1199.5 147.9,1211 148,1217.5 147.8,1205.9 147.1,1200.3 147.5,1201.2 147,1200.8 148.5,1205 149.7,1150.3 148.7,1149.8 150.5,1149 150.6,1136.8 150.9,1202 150.7,1147.3 150.7,1140.8 151.3,1200.5 151.7,1145.6 151.5,1203.7 151.7,1198.7 153.2,1201.8 152.8,1150.4 152.5,1200 153.6,1133.9 153.3,1149.2 153.2,1216.1 153.5,1208.7 154.3,1149.9 154.5,1143.1 154.3,1148.8 154.3,1144.7 154.5,1141 154.1,1202 155.3,1149.9 156.4,1204 155.3,1143.4 155.1,1203.8 155.7,1141.3 156.1,1199.8 157.8,1137.6 157.2,1199.9 157,1147.6 156.9,1217.6 156.7,1136.8 157.3,1140.6 157.8,1144.8 159.2,1212.4 158.7,1200.1 158.9,1207.4 158.3,1148.7 158,1150.5 158.3,1139.5 160.4,1200.7 159.9,1201.4 159.9,1143.3 159.7,1224.1 159.5,1203 159.3,1152.1 161,1150.9 161.6,1140.4 161.3,1201 161.1,1153.4 160.9,1212.6 160.6,1148.8 160.8,1203.4 160.6,1218.8 163.1,1199.7 163.2,1150.9 162.6,1202.6 163.5,1208.4 163.8,1205.5 164,1148.8 163.6,1144.4 164.1,1201.5 164.4,1214 164.2,1154.4 163.7,1145.8 165.9,1201 165.8,1202.8 164.7,1228.4 165.1,1149.8 165.5,1153 165,1154 167.2,1155.1 166.4,1205.9 167.3,1207.9 166.3,1199.4 166.2,1149.2 166.1,1141.3 167.7,1154.3 168.6,1123.2 168.6,1203.1 168.3,1149.7 167.9,1204.9 168.8,1204.2 169.3,1147.4 169.2,1203.4 170,1155.4 168.9,1144 169.6,1199.6 169.8,1202.6 169.6,1155 169.8,1201.6 169.3,1207 171.2,1205.7 170.7,1154.6 170.2,1145.9 171.4,1151.9 170.8,1155.1 171.3,1146.6 172.5,1209.8 172.6,1150.3 171.5,1150.3 172.5,1214.1 172.8,1201.1 172.6,1250.6 173.9,1150.4 174,1203.1 173.3,1201 173.2,1145.7 175.5,1145.8 175.1,1146.5 174.6,1150.9 175.2,1149.3 176.4,1127.1 176.7,1198.6 176.7,1145 176.8,1149 176,1201 175.9,1200.2 175.6,1151.4 178.1,1128.9 178,1143 178.1,1139.2 178.2,1148.1 177.3,1140.6 177.7,1144.8 178.5,1147.6 179.3,1207 180.7,1132.6 179.7,1152.6 179.7,1201.1 180.6,1146.3 180.8,1144.8 179.9,1147.5 179.9,1131.9 181.4,1202.6 182.3,1202.1 181.2,1146.9 181.9,1213.1 181.3,1141.3 181.6,1200.8 181.8,1201.2 181,1204.7 182.8,1152.6 182.7,1153.2 183.3,1213.2 183.3,1154 183.1,1205.8 182.4,1145.9 184.3,1202.9 184.7,1203.8 183.7,1151.7 184,1148.9 184.4,1152.5 184.7,1200.8 185.8,1199.8 185.5,1150 186.2,1203.9 185.4,1205.8 185.4,1145.4 186.1,1142 186.3,1151 185.3,1204.6 185.5,1202.8 187.5,1153.3 189,1200.5 188.8,1201.3 188.2,1236.3 188,1210.3 188.2,1153 188.8,1205.7 188.4,1151.7 189.9,1141.4 189.8,1151.9 189.5,1148.1 189.7,1207.4 189.7,1203.2 189.5,1246.7 191.4,1134.8 191.8,1148.7 191.4,1154.3 190.8,1136.5 191,1145.9 191,1151.1 191,1206.4 191.4,1213.9 191.9,1201.9 191.8,1151.4 192.2,1204.5 191.9,1209.7 192,1143.9 194,1154.2 194.3,1153.9 194.2,1204.4 193.8,1208.2 193.5,1207.8 193.4,1134.1 193.9,1203.6 193.4,1146.3 193.5,1152.7 193.6,1153.6 194.7,1205.2 195.3,1149.4 194.9,1138.9 195.8,1154.5 196.8,1203.8 197.1,1133.1 196.9,1204.7 197,1205.5 196.4,1149.2 197.3,1204.3 197.1,1207.2 196.7,1146.9 198.5,1125.6 197.7,1146.5 198,1146.5 197.3,1147.9 199,1149.3 199.5,1202.7 198.9,1212.8 200,1197.8 200.2,1205.8 200.5,1149.8 201,1206.2 200,1141 200.3,1200.9 200.3,1215.3 201.6,1150.3 202.5,1147.9 202.4,1146.4 202.7,1204.2 201.7,1144.7 201.8,1201.9 203.6,1150.3 203.1,1221.3 203.5,1202.8 203.5,1149.2 203.3,1144.4 202.7,1153.3 205,1203.4 204.5,1144.6 204.4,1150.4 204.1,1201.7 206.2,1212.2 206.5,1202.6 206.4,1201.8 205.7,1202.6 206.3,1204.4 206.1,1206.7 207,1145.8 207.7,1140.4 207.5,1149.9 208,1207.9 207.3,1149 207,1151.6 208.1,1204.9 209.3,1144.6 209.4,1126.6 208.8,1145.7 209.4,1147.4 208.5,1205 208.4,1148.6 208.8,1210.9 210.6,1147.1 210.5,1140.2 210.4,1136.2 210.1,1205.9 210.2,1148.7 212.2,1203.9 212,1148.6 211.3,1204.3 210.9,1153.8 211,1205.8 211.7,1150.9 213.1,1150.5 213.4,1143.8 212.2,1212.6 213.2,1209.6 212.9,1137.7 212.8,1206.2 213.3,1208.5 213.8,1202.7 214.8,1205.8 214.1,1148.4 213.8,1220.3 214.1,1214.3 214.3,1150.5 215.5,1147.9 215.8,1210.7 215.9,1206.5 215,1202.4 215.1,1205 216.5,1204.6 217.1,1139 216.3,1208.8 217.1,1145 216.5,1139.2 217.2,1153.4 216.6,1147.4 216.9,1151.6 216.4,1218.5 217.5,1201.9 217.8,1214.3 218.2,1138.8 217.8,1152 218.8,1206 219.2,1142.9 219.2,1201.3 219.1,1151.1 220.3,1153.5 220.3,1129.7 220.1,1198.7 219.5,1203.9 219.1,1204.5 220.3,1138.7 221.4,1145.4 220.5,1145.7 221.7,1140 221.3,1146.6 220.8,1136.9 220.9,1139.4 222.4,1207.2 222.1,1136.2 221.8,1201.5 222.8,1205.5 222.2,1150.6 222.7,1201.6 223.9,1202.1 223.5,1147 223.2,1201.6 223.2,1151.4 224.1,1154.6 223.9,1152.9 224.2,1143.7 223.3,1149.6 225.8,1146.8 225.2,1142.7 224.9,1203.4 226.7,1204.5 226.7,1152.8 226.3,1134.6 226.8,1141.7 227.1,1203.7 226.1,1201.2 228.3,1150.8 227.7,1141.1 227.3,1153.2 228.1,1219.5 227.6,1202.4 229.1,1204.3 229.9,1144.3 228.9,1203.3 229.2,1208 230.1,1135.8 230.8,1153.5 230.3,1204.2 230.4,1202.8 230,1147.2 231.4,1150.1 231.3,1148.1 231.8,1208.5 231.6,1203.2 232,1149.2 232,1202.5 231.8,1217.5 232.2,1151.4 233.1,1154.3 232.9,1204.8 233,1144.6 232.6,1201.7 233.8,1205.9 233.5,1201.8 234.4,1151.5 234.3,1139.9 235.3,1153.7 235,1201.6 234.8,1148 234,1210.2 236.5,1201.8 236,1145.4 236.4,1199.5 236.6,1135.6 236.4,1207.1 235.8,1137.3 236.1,1148.5 235.8,1146 237.7,1150.2 236.8,1151.8 238.4,1141.5 239.2,1199.6 239.4,1148.1 238.7,1206.8 239.2,1201.1 238.4,1151.6 240.1,1202.4 240.7,1152.1 240.4,1204.1 240,1147.6 240.2,1201.5 240.8,1151 241.8,1203.8 240.9,1153.1 241.1,1152.6 240.8,1149 241,1132.2 243.4,1205.7 242.3,1203.4 242.8,1136.5 242.5,1201.4 242.8,1146.8 243.5,1203.5 243.5,1153.1 243.8,1208.7 244.4,1153.7 244.7,1128.6 244.5,1203.3 244.2,1205.3 244.6,1209 243.5,1149.1 246.2,1150.7 245.5,1149.8 244.9,1216.4 245.1,1204.8 247.4,1205 247.2,1203.4 247,1148.5 246.7,1139.9 246.9,1209.9 246.6,1201.4 247.4,1150.8 247.3,1152.3 247.5,1213.2 246.8,1144 247.3,1201.9 248.6,1201.8 248.9,1150.4 249,1211 249.8,1147.5 249.1,1148.8 249.9,1155.4 249.9,1211.5 249.6,1154.7 250,1200.9 249.7,1215.9 250.6,1151 251.6,1128.2 251,1201.1 251.1,1151.7 251.2,1200.8 250.8,1208.5 251.5,1145.6 252.6,1208.9 252.5,1147.6 252.7,1150.2 254.2,1205.1 254,1150.6 254.3,1155.1 253.1,1153.2 254.3,1153 253.6,1202 254.5,1206.4 255.1,1147.4 255.5,1203.5 255.4,1201.2 255.5,1202.9 256.3,1150.6 256,1150.4 256.9,1151.1 255.8,1218 258.3,1205 258.3,1199.5 257.3,1152.8 259.3,1145.7 259.8,1207.6 259.7,1205.5 258.6,1140.4 259.1,1150 259.4,1153.7 259.3,1147.9 259.8,1201.2 259,1146.8 260.8,1199.9 259.9,1146.7 261,1199.7 260.8,1155.5 260.4,1154.9 260.2,1203.2 260.3,1206.1 260.9,1147.8 260.4,1149.4 261.1,1200 261.5,1144.8 262.1,1148.8 262.2,1151 262.9,1155.1 263.7,1203.4 263.2,1154 262.7,1205.7 263.6,1146.2 263.9,1201.2 263.8,1200.6 263,1203.1 264.3,1206.8 264.8,1200.8 264.3,1153 264.9,1152.6 263.9,1143.1 264,1144.7 265.5,1213.5 266.1,1153.3 266.5,1146.4 266.6,1153 266.6,1201.5 265.8,1152.5 266.4,1203.1 265.4,1148 266.5,1148.2 265.3,1201.3 266.7,1207.6 267.6,1199.5 267.8,1201.3 267.6,1137.2 267,1148.1 266.9,1205.6 268.8,1199.4 268.4,1197.4 268.2,1208.2 268.7,1206.5 269.7,1149.1 270.2,1207.3 270.5,1151.3 270,1205.1 270,1154.2 269.9,1201 269.9,1222.7 270.7,1199.1 271.4,1156 270.9,1143.5 270.8,1146.1 271.5,1149.5 270.7,1200.2 273.1,1146.5 273.2,1196.4 272.9,1152.9 272.1,1156.2 272.2,1154.2 272.9,1204 272.4,1198 273.4,1195.6 274.3,1203.4 273.5,1199 274,1151.4 274.5,1200.7 273.8,1152.7 274.3,1141.7 274.7,1150.4 275.8,1149.7 274.9,1142.4 276.3,1200.1 277,1206.8 276.7,1196.1 276.5,1151.8 276.1,1153.2 276.6,1209.4 278.4,1149.6 277.5,1151.5 277.5,1200.1 278,1196 277.5,1199 280,1153 279.6,1142.1 279.2,1225.1 279.6,1203.1 279.1,1150.5 280,1202.1 279.3,1197.9 278.9,1199 280.5,1150.2 280.3,1197.2 281.3,1147.6 282,1155.1 282.7,1148.9 281.8,1154.9 282.3,1153.1 282.8,1200.8 282.1,1154.7 282.7,1150.3 282.8,1195.8 282.1,1197.7 284.1,1196.2 283.4,1194.7 283.8,1155.2 283.8,1201.2 283,1151.5 283,1149.9 283.7,1142.2 284.2,1199.2 285.4,1205 285.6,1149.6 285,1153.8 285.5,1157.5 284.8,1210.1 285.4,1153.8 286.5,1197.7 286.6,1150.9 286.8,1152.4 286.4,1157.7 286.8,1196 286.2,1220.3 287.8,1231.3 288.1,1141.3 288.2,1194 287.7,1201.4 287.6,1197.8 287.8,1142.5 288.3,1207.7 288,1195.9 289.1,1200.2 288.8,1151.6 288.5,1204.5 289.4,1158.8 288.5,1202.3 289.4,1157.9 289.1,1149.1 289.7,1193.9 289.9,1151.5 290.1,1192.2 291.8,1207.1 291.2,1195.4 292.3,1154.5 291.6,1156.2 292,1158.3 291.8,1200.4 291.7,1147.1 291.5,1155.5 291.3,1206.3 291.3,1214.5 292.6,1144.7 293.4,1192.9 292.8,1192.9 293.5,1196.8 292.6,1194 294.8,1207.9 294.3,1209.3 294.9,1159.4 294.3,1156.1 293.9,1158.6 294.4,1196.3 293.9,1153 295.8,1204.6 295.5,1197.8 296.3,1205 296.1,1145.5 295.8,1152.3 295.4,1156.6 295.4,1195.5 296.8,1199.9 296.9,1224.9 297.5,1153.4 296.9,1155.7 296.7,1197.8 297.1,1196.8 297,1202.6 296.5,1209.7 299.1,1199.2 299,1154.9 298.8,1198.7 299,1201.9 299,1222.1 299,1150.7 298.2,1158.4 300,1136.4 299.3,1196.6 301.2,1158.9 301.2,1154.2 301.3,1196.9 300.8,1158.6 301.9,1199.2 302,1195.5 303.1,1200.2 303.1,1159.4 302.3,1201.5 304.3,1159.9 303.9,1202.6 303.5,1198.4 303.6,1157.5 304,1156.5 304.5,1149.1 304.1,1193.5 303.7,1197.8 303.6,1192.1 305.5,1191.5 304.8,1158.1 304.7,1212 305.3,1192.1 305.2,1195.3 306.2,1192.6 307.2,1156 306.1,1152.1 306.4,1155.4 307.1,1148.8 308.4,1144.8 308.1,1192.3 308.2,1142.9 308.1,1187.8 308.7,1194.7 307.5,1156.1 307.6,1153.7 308.3,1205.6 307.4,1193.6 309.4,1189.6 309.8,1193.6 308.8,1155.7 309.9,1161.9 310.2,1197.2 310.7,1149.9 311.1,1160.9 310.9,1159.6 310.3,1158.4 310.3,1128.5 310.9,1204.1 311.2,1194.3 312.6,1205.6 311.9,1195.1 311.9,1193.4 311.9,1191.7 311.9,1143.2 312,1196.7 312.2,1195.5 312.1,1209.3 312,1202.4 312.3,1149.2 312.7,1142 313.9,1158.6 313.6,1161 315.5,1199.5 315.4,1227.4 315.5,1193.9 314.4,1160.8 315.7,1191.9 316.8,1202.1 316.3,1162.1 315.6,1162.1 316.1,1191.8 315.7,1196.2 316.4,1156.9 317.6,1154.6 317.1,1164.1 317.1,1196.4 318.1,1190.2 317.7,1191.2 318.2,1189.8 317.4,1136 317.5,1162 318.3,1153.4 319.3,1158 319.2,1163.6 320.9,1188.9 319.9,1154.5 319.8,1189 320.8,1199.4 320.3,1161.4 320.6,1186.2 320.1,1163.3 319.8,1161.5 320.7,1207 320.2,1203.8 322.3,1189 321.7,1191.8 321.9,1163.2 321.2,1206.3 321.7,1185.3 322.4,1162 323.4,1189.6 322.8,1162 322.5,1160.8 322.5,1185 322.8,1197.9 323.4,1184.1 323.1,1209.4 323.4,1182.9 324.3,1204.5 324.9,1199.8 325.9,1185.2 326.4,1184.5 325.2,1161.9 325.9,1143.4 325.5,1150.3 325.1,1162.8 326.3,1165.3 326.3,1190.7 325.4,1157.3 326.2,1187.6 325.9,1183.3 325.9,1198.8 327.1,1190.5 327.3,1163.4 326.7,1207.1 327.3,1183.7 326.7,1164.4 327.6,1191 327.5,1185.2 328.3,1158.9 327.9,1186.6 329,1181.5 328.3,1157.7 328.9,1165.9 329.4,1155.1 330,1183.8 330.3,1190.4 330.4,1164.8 330.3,1149.4 329.5,1167.4 329.2,1182.4 330,1165.6 331.3,1191.7 331.7,1184.5 330.9,1187.6 331.2,1195 331.2,1162.3 330.8,1159.2 331.8,1189.5 331.2,1148.5 331.4,1188.7 331.7,1181.6 332.6,1163.6 332.7,1165.5 332.6,1150.4 332.8,1192.5 332.3,1196 332.6,1183.7 332.8,1184.2 332.2,1160.3 333.1,1153 334.4,1166.8 334.4,1192.4 333.6,1171.9 333.6,1194.8 333.3,1163.8 333.5,1155 333.6,1168.4 333.7,1173.6 333.3,1162 334,1160 334.1,1165.7 334.9,1196.7 335.8,1174.4 335.2,1184.2 335.6,1181.7 335.9,1160.8 335.7,1166.6 335.7,1179.4 335.7,1150.3 336.9,1191.2 336.4,1175.2 336.5,1183 336.7,1142.4 336.8,1172.7 337.1,1183.2 337.2,1166.6 337.1,1202.6 336.8,1195.5 336.9,1160 336.5,1167.8 338.5,1183.5 338.3,1193.8 337.8,1178.5 337.9,1170.5 338.2,1203 337.7,1155.8 338.6,1161.4 338,1167.6 338,1160.5 338.2,1172.4 337.6,1179.4 337.8,1158 339.5,1194 339.3,1193.6 339.3,1157.3 339.7,1167.8 339.4,1169.7 339.4,1198 339.8,1195.9 338.7,1164.5 340.5,1205.3 340.7,1195 340.8,1194.2 340.6,1155.3 341.3,1160.7 341.1,1153.1 341.2,1170 342.1,1170.2 341.6,1169.3 342,1202.3 341.6,1158.2 342.4,1194.1 342.8,1169.6 343.7,1145.2 343,1196.1 343.4,1153.1 343.7,1192.9 342.7,1153.1 343.8,1196.7 343.8,1166.6 342.8,1162.6 344.1,1159.5 344.6,1165 345,1174.4 344.5,1194.4 345,1143.4 344.7,1190.2 344.9,1175.4 345.1,1177.8 345,1171.5 345.1,1167.8 344.6,1186.5 344.6,1165.3 345.2,1181.5 345.8,1175.1 346.3,1178.8 346.1,1180.9 346.3,1186.2 346.1,1165.8 345.7,1178.4 345.8,1161.2 345.5,1187.5 346.2,1191.2 345.9,1162.5 347.7,1175.7 348.1,1161.5 348.1,1186.2 347.7,1196.8 347.5,1177.7 347.8,1173.1 347.4,1170.9 347.4,1163.2 348.5,1168.8 348.9,1164.1 349.3,1171.8 349.5,1159.7 348.8,1189.6 348.9,1169.5 348.8,1174.7 349,1173.9 349,1184.9 349.2,1164.2 349,1162.8 350.5,1173.6 350.7,1167.5 350.5,1153.3 349.6,1177.4 349.6,1206.9 350,1165.3 350.2,1180.9 351.8,1179.7 352,1215.7 351.9,1165.7 352,1145.8 351.8,1169.7 351.4,1155.8 351.4,1170.4 352,1173.7 351.1,1177.5 352,1182.2 352.3,1169.5 352.6,1190.6 352.6,1187 352.9,1175.4 352.8,1184.7 352.4,1177.5 352.7,1164.9 352.5,1185.3 353.1,1172.5 353,1189 353.5,1192.4 353.3,1180.8 354.4,1162.7 354.5,1175.1 354.1,1174.7 354.6,1198.9 354.1,1185.6 353.9,1175.2 353.9,1159.8 356.2,1173 355.7,1182.8 355.5,1168.9 355.7,1158.9 355.2,1181.3 355.3,1177.7 355.6,1175.2 357.2,1179.6 356.6,1165.7 357.2,1166.6 356.5,1163.9 356.7,1149.6 357.3,1178.9 356.6,1189.9 357.6,1162.5 357.8,1182.8 358.7,1156.9 358.8,1176.9 358.7,1162.6 358.8,1180.9 358.9,1199.1 358.4,1181.5 360.4,1174.9 359.6,1175.1 360.2,1184.4 359.5,1188.4 359.6,1166.8 359.9,1191.1 359.2,1176.7 360,1178.8 360.4,1153.7 360.2,1188.4 360.5,1189.1 360.5,1166 360.5,1170.4 361.6,1181.4 360.5,1173.5 361.3,1192.7 361,1163.2 361.7,1175.9 360.5,1175.5 361.7,1189 360.6,1150.7 362.3,1196.7 362.7,1184 362,1171.6 361.9,1213.7 362.4,1169.9 362.5,1184.5 361.8,1161.8 362.9,1182.8 363.5,1177.9 363.7,1175.9 363.8,1184.8 363.4,1181.9 364.1,1186.7 365.8,1186.2 364.8,1167.7 365.1,1185.4 364.7,1159.3 366.3,1178.5 367,1177.2 366.6,1168.7 366.8,1206.6 366.2,1160 366.3,1176.3 366.5,1179.4 367.6,1187.8 368.5,1162.5 368.5,1161.1 368.4,1148.8 367.4,1194 368.1,1194.9 368.2,1167.7 369.2,1170.8 368.8,1158.8 369.7,1178.4 370.3,1153.6 370.8,1189.4 370.5,1190.5 370.7,1177.9 370,1166.6 370.5,1168.2 371.2,1175 371.7,1185.7 371.8,1186.6 372.2,1172.6 372.4,1188 371.9,1169.6 371.8,1176.5 373.3,1159.5 373.5,1179.7 373,1194.5 373.9,1181.8 373.2,1169.6 372.7,1178.5 372.9,1191.3 373.6,1158.9 373.3,1177.2 373.9,1178.6 375.3,1182.1 374.4,1158.5 374.6,1180.2 376.1,1176.2 376.5,1177.9 375.5,1173.4 376.6,1175.1 375.6,1194.2 376.3,1182.4 375.3,1175.3 375.8,1166.3 376.6,1184.7 376.5,1160.1 377.1,1168.8 377.9,1172.2 377.8,1171.5 378,1206.9 377,1169.9 379.2,1195 379.2,1183.8 378.6,1173.1 378.6,1170.1 378.9,1201.9 379.3,1175.8 379.7,1200.3 380.5,1162.6 380.1,1175.8 379.5,1169.5 381.8,1188.4 381.6,1201.6 381.8,1176.9 381.6,1184.3 381.3,1183 383.3,1182.1 382.6,1168.5 382.4,1173.9 383.1,1164.7 382.4,1182 383.1,1166 382.2,1177.9 382.5,1189.6 383.9,1162 385.5,1164.6 385.9,1176.3 384.9,1183.9 386.2,1185.3 385.3,1178.3 385.5,1169.7 385.6,1188 386.8,1190.9 386.4,1187.5 386.6,1177.8 386.3,1176.8 386.9,1198.7 388.8,1176.2 387.8,1172.5 388.1,1180.8 388,1152.6 388.7,1174.2 388.7,1181.3 388,1192.9 390.3,1177.3 389.8,1185.9 390.2,1189.2 389.8,1183.3 390.8,1179.5 391.3,1184.2 391.1,1176.3 391.9,1162.1 392.4,1171 392.5,1193.6 392.2,1181.9 393.9,1179.1 393.9,1158.6 393.8,1160.8 393.3,1180.6 395.5,1178.2 395,1176.7 394.8,1166.2 394.4,1181.3 394.6,1165.7 396.5,1151.7 396,1187.7 396.4,1162.9 397.3,1167.6 398.3,1173.5 398.2,1192.9 397.3,1163.8 397.8,1185.2 398.7,1175 399.2,1185.6 398.6,1176.6 400.2,1199.1 402,1194.2 403.4,1153.6 403.7,1164.8 403.4,1157.5 403.7,1168.5 402.8,1174.8 403.6,1161.1 403.5,1185 403.6,1167.5 404,1189 404.8,1180.1 406.6,1187.7 406.8,1182.2 407.8,1162.9 406.9,1149.2 407.8,1153.2 406.9,1177.4 408.4,1169.1 408.1,1170 409.9,1173.9 409.5,1176.9 409.6,1157.9 410.7,1184.4 411.1,1186.9 411.3,1180.4 411,1167.7 413.3,1172.2 412.4,1177.8 412.3,1167.7 413.4,1170.5 414.1,1176.8 413.6,1180.4 413.9,1203.3 415.7,1178.5 415.9,1192.8 415.3,1166.5 414.9,1162.8 416,1183.7 415,1159.4 416.7,1179.7 417.5,1174.2 418,1172.1 418.5,1179.6 418.2,1177.9 418.4,1184.9 417.9,1186.7 419.8,1172.8 419.5,1178.7 418.9,1176.6 419.4,1186.7 421,1191.1 420.8,1177.5 420.4,1184.5 420.4,1182.9 420.8,1180.3 421,1177.7 422.9,1166.6 422.9,1195.6 422.4,1185.4 424.2,1187.3 423.7,1180.9 423.6,1205.3 423.7,1161.9 424.8,1178.9 424.4,1177.2 425.1,1176.5 426.5,1175.1 426.8,1164 425.7,1163.9 426.2,1164.7 427.6,1172 427.9,1198.4 427.3,1181.2 428,1170.9 428.2,1184.6 427,1177.3 428.7,1189 429.7,1170.9 430.3,1215.1 429.9,1185.9 432.4,1177.2 431.3,1200.6 432.1,1168 433,1193.9 432.9,1176.9 434.4,1163.3 434.5,1190.5 434.3,1182.9 436.3,1181.8 436.4,1165.9 435.5,1171.5 437.7,1179.4 439.1,1156.2 439,1169.7 439,1187.2 439.4,1170.8 440.4,1179.8 440,1161.3 441.5,1178.8 441.8,1177.8 442.3,1161.7 442.5,1183 444.2,1193.5 445.5,1183 448.5,1171.1 449.4,1169.6 449.2,1164.8 450.4,1191.9 452.4,1181 452.1,1196.5 451.9,1193.3 452.1,1182.2 455.4,1172.5 455,1168.6 455,1184.8 456.6,1191.6 456.7,1184.8 457.5,1166.8 457.3,1162.8 457.1,1184.5 458.4,1185.2 459.7,1175.4 460.2,1172.4 466.1,1177.7 468.1,1170.6 469.9,1173.4 470.8,1181.7 472.1,1171.1 472.6,1161.1 473,1186.5 473.5,1179.3 475,1162.8 477.5,1163.1 478.5,1168.8 477.4,1175.1 480.5,1173.8 481.9,1163.4 485,1193.8 486.7,1192.3 488.1,1151.1 490.8,1180.7 490.8,1170.8 494.7,1173.8 496,1181.4 499.7,1168.7 500.8,1192.2 502.7,1179.6 501.9,1169.1 505.1,1179.4 508.6,1168.8 512.5,1166.8 516.3,1174 522,1194.9 543.7,1163.6 546.9,1197.9 547.8,1195.6 553.6,1157.5 557,1199.4 563.7,1184 575.1,1181.9 576.3,1190.2 125.2,1133.4 123.9,1140.2 198.6,1123.3 205.4,1126.7 190.5,1130 189.1,1136.8 232.6,1130 304.7,1121.6 390.3,1128.4 412,1131.7 190.5,1239.5 182.3,1226 152.4,1230 155.1,1226 159.2,1224.3 176.9,1217.6 319.6,1224.3 402.5,1232.7 391.7,1209.2 399.8,1207.5 489.5,1209.2 530.3,1201.8 493.6,1146.9 462.3,1155.3 571.1,1192.3 516.7,1175.5 503.1,1172.1 530.3,1177.2 543.9,1174.8 482.7,1182.2 496.3,1170.5" fill="none" stroke="none" marker-start="url(#ms)" marker-mid="url(#ms)" marker-end="url(#ms)"/>
<line x1="122.5" y1="1165.6" x2="585.5" y2="1165.6" stroke="#000" stroke-width="2.0" stroke-dasharray="2.2 1.6" />
<line x1="122.5" y1="1155.6" x2="585.5" y2="1155.6" stroke="#000" stroke-width="2.2" stroke-dasharray="13 5.5" />
<line x1="122.5" y1="1185.4" x2="585.5" y2="1185.4" stroke="#000" stroke-width="2.0" stroke-dasharray="2.2 1.6" />
<line x1="122.5" y1="1195.4" x2="585.5" y2="1195.4" stroke="#000" stroke-width="2.2" stroke-dasharray="13 5.5" />
<rect x="585.5" y="1114.9" width="0.3" height="20.2" fill="#999" stroke="#000" stroke-width="1.1"/>
<rect x="585.5" y="1215.9" width="0.3" height="20.2" fill="#999" stroke="#000" stroke-width="1.1"/>
<rect x="585.5" y="1135.1" width="6.6" height="20.2" fill="#999" stroke="#000" stroke-width="1.1"/>
<rect x="585.5" y="1155.3" width="188.1" height="20.2" fill="#999" stroke="#000" stroke-width="1.1"/>
<rect x="585.5" y="1175.5" width="182.6" height="20.2" fill="#999" stroke="#000" stroke-width="1.1"/>
<rect x="585.5" y="1195.7" width="11.1" height="20.2" fill="#999" stroke="#000" stroke-width="1.1"/>
<line x1="122.5" y1="1175.5" x2="585.5" y2="1175.5" stroke="#000" stroke-width="2.0" />
<line x1="122.5" y1="1074.5" x2="787.5" y2="1074.5" stroke="#cfcfcf" stroke-width="1" />
<line x1="122.5" y1="1074.5" x2="122.5" y2="1276.5" stroke="#f0f0f0" stroke-width="1" />
<line x1="585.5" y1="1074.5" x2="585.5" y2="1276.5" stroke="#c4c4c4" stroke-width="1" />
<line x1="787.5" y1="1074.5" x2="787.5" y2="1276.5" stroke="#c4c4c4" stroke-width="1" />
<line x1="121.9" y1="1276.5" x2="788.1" y2="1276.5" stroke="#111" stroke-width="1.0" />
<line x1="122.5" y1="1276.5" x2="122.5" y2="1272.5" stroke="#000" stroke-width="1.5" />
<line x1="122.5" y1="1074.5" x2="122.5" y2="1078.5" stroke="#000" stroke-width="1.5" />
<line x1="190.5" y1="1276.5" x2="190.5" y2="1272.5" stroke="#000" stroke-width="1.5" />
<line x1="190.5" y1="1074.5" x2="190.5" y2="1078.5" stroke="#000" stroke-width="1.5" />
<line x1="258.4" y1="1276.5" x2="258.4" y2="1272.5" stroke="#000" stroke-width="1.5" />
<line x1="258.4" y1="1074.5" x2="258.4" y2="1078.5" stroke="#000" stroke-width="1.5" />
<line x1="326.4" y1="1276.5" x2="326.4" y2="1272.5" stroke="#000" stroke-width="1.5" />
<line x1="326.4" y1="1074.5" x2="326.4" y2="1078.5" stroke="#000" stroke-width="1.5" />
<line x1="394.4" y1="1276.5" x2="394.4" y2="1272.5" stroke="#000" stroke-width="1.5" />
<line x1="394.4" y1="1074.5" x2="394.4" y2="1078.5" stroke="#000" stroke-width="1.5" />
<line x1="462.3" y1="1276.5" x2="462.3" y2="1272.5" stroke="#000" stroke-width="1.5" />
<line x1="462.3" y1="1074.5" x2="462.3" y2="1078.5" stroke="#000" stroke-width="1.5" />
<line x1="530.3" y1="1276.5" x2="530.3" y2="1272.5" stroke="#000" stroke-width="1.5" />
<line x1="530.3" y1="1074.5" x2="530.3" y2="1078.5" stroke="#000" stroke-width="1.5" />
<line x1="122.5" y1="1276.5" x2="126.5" y2="1276.5" stroke="#000" stroke-width="1.5" />
<line x1="585.5" y1="1276.5" x2="581.5" y2="1276.5" stroke="#000" stroke-width="1.5" />
<line x1="122.5" y1="1256.3" x2="126.5" y2="1256.3" stroke="#000" stroke-width="1.5" />
<line x1="585.5" y1="1256.3" x2="581.5" y2="1256.3" stroke="#000" stroke-width="1.5" />
<line x1="122.5" y1="1236.1" x2="126.5" y2="1236.1" stroke="#000" stroke-width="1.5" />
<line x1="585.5" y1="1236.1" x2="581.5" y2="1236.1" stroke="#000" stroke-width="1.5" />
<line x1="122.5" y1="1215.9" x2="126.5" y2="1215.9" stroke="#000" stroke-width="1.5" />
<line x1="585.5" y1="1215.9" x2="581.5" y2="1215.9" stroke="#000" stroke-width="1.5" />
<line x1="122.5" y1="1195.7" x2="126.5" y2="1195.7" stroke="#000" stroke-width="1.5" />
<line x1="585.5" y1="1195.7" x2="581.5" y2="1195.7" stroke="#000" stroke-width="1.5" />
<line x1="122.5" y1="1175.5" x2="126.5" y2="1175.5" stroke="#000" stroke-width="1.5" />
<line x1="585.5" y1="1175.5" x2="581.5" y2="1175.5" stroke="#000" stroke-width="1.5" />
<line x1="122.5" y1="1155.3" x2="126.5" y2="1155.3" stroke="#000" stroke-width="1.5" />
<line x1="585.5" y1="1155.3" x2="581.5" y2="1155.3" stroke="#000" stroke-width="1.5" />
<line x1="122.5" y1="1135.1" x2="126.5" y2="1135.1" stroke="#000" stroke-width="1.5" />
<line x1="585.5" y1="1135.1" x2="581.5" y2="1135.1" stroke="#000" stroke-width="1.5" />
<line x1="122.5" y1="1114.9" x2="126.5" y2="1114.9" stroke="#000" stroke-width="1.5" />
<line x1="585.5" y1="1114.9" x2="581.5" y2="1114.9" stroke="#000" stroke-width="1.5" />
<line x1="122.5" y1="1094.7" x2="126.5" y2="1094.7" stroke="#000" stroke-width="1.5" />
<line x1="585.5" y1="1094.7" x2="581.5" y2="1094.7" stroke="#000" stroke-width="1.5" />
<line x1="122.5" y1="1074.5" x2="126.5" y2="1074.5" stroke="#000" stroke-width="1.5" />
<line x1="585.5" y1="1074.5" x2="581.5" y2="1074.5" stroke="#000" stroke-width="1.5" />
<line x1="585.5" y1="1276.5" x2="585.5" y2="1272.5" stroke="#000" stroke-width="1.5" />
<line x1="585.5" y1="1074.5" x2="585.5" y2="1078.5" stroke="#000" stroke-width="1.5" />
<line x1="636.0" y1="1276.5" x2="636.0" y2="1272.5" stroke="#000" stroke-width="1.5" />
<line x1="636.0" y1="1074.5" x2="636.0" y2="1078.5" stroke="#000" stroke-width="1.5" />
<line x1="686.5" y1="1276.5" x2="686.5" y2="1272.5" stroke="#000" stroke-width="1.5" />
<line x1="686.5" y1="1074.5" x2="686.5" y2="1078.5" stroke="#000" stroke-width="1.5" />
<line x1="737.0" y1="1276.5" x2="737.0" y2="1272.5" stroke="#000" stroke-width="1.5" />
<line x1="737.0" y1="1074.5" x2="737.0" y2="1078.5" stroke="#000" stroke-width="1.5" />
<line x1="787.5" y1="1276.5" x2="787.5" y2="1272.5" stroke="#000" stroke-width="1.5" />
<line x1="787.5" y1="1074.5" x2="787.5" y2="1078.5" stroke="#000" stroke-width="1.5" />
<line x1="585.5" y1="1276.5" x2="589.5" y2="1276.5" stroke="#000" stroke-width="1.5" />
<line x1="787.5" y1="1276.5" x2="783.5" y2="1276.5" stroke="#000" stroke-width="1.5" />
<line x1="585.5" y1="1256.3" x2="589.5" y2="1256.3" stroke="#000" stroke-width="1.5" />
<line x1="787.5" y1="1256.3" x2="783.5" y2="1256.3" stroke="#000" stroke-width="1.5" />
<line x1="585.5" y1="1236.1" x2="589.5" y2="1236.1" stroke="#000" stroke-width="1.5" />
<line x1="787.5" y1="1236.1" x2="783.5" y2="1236.1" stroke="#000" stroke-width="1.5" />
<line x1="585.5" y1="1215.9" x2="589.5" y2="1215.9" stroke="#000" stroke-width="1.5" />
<line x1="787.5" y1="1215.9" x2="783.5" y2="1215.9" stroke="#000" stroke-width="1.5" />
<line x1="585.5" y1="1195.7" x2="589.5" y2="1195.7" stroke="#000" stroke-width="1.5" />
<line x1="787.5" y1="1195.7" x2="783.5" y2="1195.7" stroke="#000" stroke-width="1.5" />
<line x1="585.5" y1="1175.5" x2="589.5" y2="1175.5" stroke="#000" stroke-width="1.5" />
<line x1="787.5" y1="1175.5" x2="783.5" y2="1175.5" stroke="#000" stroke-width="1.5" />
<line x1="585.5" y1="1155.3" x2="589.5" y2="1155.3" stroke="#000" stroke-width="1.5" />
<line x1="787.5" y1="1155.3" x2="783.5" y2="1155.3" stroke="#000" stroke-width="1.5" />
<line x1="585.5" y1="1135.1" x2="589.5" y2="1135.1" stroke="#000" stroke-width="1.5" />
<line x1="787.5" y1="1135.1" x2="783.5" y2="1135.1" stroke="#000" stroke-width="1.5" />
<line x1="585.5" y1="1114.9" x2="589.5" y2="1114.9" stroke="#000" stroke-width="1.5" />
<line x1="787.5" y1="1114.9" x2="783.5" y2="1114.9" stroke="#000" stroke-width="1.5" />
<line x1="585.5" y1="1094.7" x2="589.5" y2="1094.7" stroke="#000" stroke-width="1.5" />
<line x1="787.5" y1="1094.7" x2="783.5" y2="1094.7" stroke="#000" stroke-width="1.5" />
<line x1="585.5" y1="1074.5" x2="589.5" y2="1074.5" stroke="#000" stroke-width="1.5" />
<line x1="787.5" y1="1074.5" x2="783.5" y2="1074.5" stroke="#000" stroke-width="1.5" />
<text x="122.5" y="1294.3" font-size="18.5" text-anchor="middle" >0</text>
<text x="190.5" y="1294.3" font-size="18.5" text-anchor="middle" >50</text>
<text x="258.4" y="1294.3" font-size="18.5" text-anchor="middle" >100</text>
<text x="326.4" y="1294.3" font-size="18.5" text-anchor="middle" >150</text>
<text x="394.4" y="1294.3" font-size="18.5" text-anchor="middle" >200</text>
<text x="462.3" y="1294.3" font-size="18.5" text-anchor="middle" >250</text>
<text x="530.3" y="1294.3" font-size="18.5" text-anchor="middle" >300</text>
<text x="585.5" y="1294.3" font-size="18.5" text-anchor="middle" >0</text>
<text x="636.0" y="1294.3" font-size="18.5" text-anchor="middle" >2000</text>
<text x="686.5" y="1294.3" font-size="18.5" text-anchor="middle" >4000</text>
<text x="737.0" y="1294.3" font-size="18.5" text-anchor="middle" >6000</text>
<text x="787.5" y="1294.3" font-size="18.5" text-anchor="middle" >8000</text>
<text x="117.3" y="1283.4" font-size="18.5" text-anchor="end" >−3.0</text>
<text x="117.3" y="1263.2" font-size="18.5" text-anchor="end" >−2.4</text>
<text x="117.3" y="1243.0" font-size="18.5" text-anchor="end" >−1.8</text>
<text x="117.3" y="1222.8" font-size="18.5" text-anchor="end" >−1.2</text>
<text x="117.3" y="1202.6" font-size="18.5" text-anchor="end" >−0.6</text>
<text x="117.3" y="1182.4" font-size="18.5" text-anchor="end" >0.0</text>
<text x="117.3" y="1162.2" font-size="18.5" text-anchor="end" >0.6</text>
<text x="117.3" y="1142.0" font-size="18.5" text-anchor="end" >1.2</text>
<text x="117.3" y="1121.8" font-size="18.5" text-anchor="end" >1.8</text>
<text x="117.3" y="1101.6" font-size="18.5" text-anchor="end" >2.4</text>
<text x="117.3" y="1081.4" font-size="18.5" text-anchor="end" >3.0</text>
<text x="354.5" y="1315.3" font-size="18.6" text-anchor="middle" >Epicentral distance (km)</text>
<text x="685.5" y="1315.3" font-size="18.6" text-anchor="middle" >Number of records</text>
<text x="63.5" y="1083.7" font-size="20" text-anchor="start" >(e)</text>
<line x1="394.5" y1="1175.5" x2="394.5" y2="1175.5" stroke="#000" stroke-width="0" />
<line x1="393.7" y1="1092.0" x2="450.5" y2="1092.0" stroke="#000" stroke-width="2.0" stroke-dasharray="2.2 1.6" />
<line x1="394.5" y1="1114.5" x2="440.0" y2="1114.5" stroke="#000" stroke-width="2.2" stroke-dasharray="13 5.5" />
<line x1="447.0" y1="1114.5" x2="449.0" y2="1114.5" stroke="#000" stroke-width="2.2" />
<text x="453.5" y="1098.5" font-size="19.2" text-anchor="start" >±1σ</text>
<text x="453.5" y="1121.0" font-size="19.2" text-anchor="start" >±2σ</text>
<text transform="translate(76.0,1175.5) rotate(-90)" font-size="19.7" text-anchor="middle">Error</text>
<text x="185.5" y="1262.8" font-size="18.35" text-anchor="start" >Predicted magnitude − Catalog magnitude</text>
</svg>
</body></html>
